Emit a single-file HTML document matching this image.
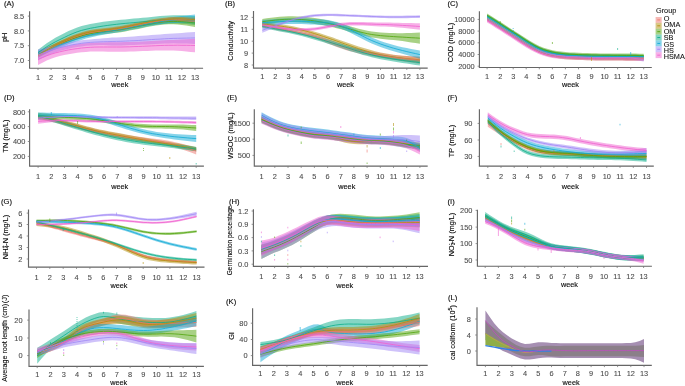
<!DOCTYPE html>
<html><head><meta charset="utf-8"><style>
html,body{margin:0;padding:0;background:#fff;width:685px;height:386px;overflow:hidden}
svg{display:block;will-change:transform}
text{-webkit-font-smoothing:antialiased}
text{font-family:"Liberation Sans", sans-serif}
.tk{font-size:7.4px;fill:#4a4a4a;stroke:#4a4a4a;stroke-width:0.08px}
.lb{font-size:7.3px;fill:#0a0a0a;stroke:#0a0a0a;stroke-width:0.12px}
.tg{font-size:7.6px;fill:#0a0a0a;stroke:#0a0a0a;stroke-width:0.12px}
.lg{font-size:7.3px;fill:#111;stroke:#111;stroke-width:0.08px}
</style></head><body>
<svg width="685" height="386" viewBox="0 0 685 386">
<text x="656" y="12.6" class="lg">Group</text>
<rect x="655.6" y="17.00" width="6.1" height="5.87" fill="#EE746B" fill-opacity="0.5"/>
<line x1="657.3" y1="19.93" x2="660.2" y2="19.93" stroke="#EE746B" stroke-width="0.9"/>
<text x="663.7" y="20.90" class="lg">O</text>
<rect x="655.6" y="22.87" width="6.1" height="5.87" fill="#B28F0C" fill-opacity="0.5"/>
<line x1="657.3" y1="25.80" x2="660.2" y2="25.80" stroke="#B28F0C" stroke-width="0.9"/>
<text x="663.7" y="27.33" class="lg">OMA</text>
<rect x="655.6" y="28.74" width="6.1" height="5.87" fill="#51A40B" fill-opacity="0.5"/>
<line x1="657.3" y1="31.68" x2="660.2" y2="31.68" stroke="#51A40B" stroke-width="0.9"/>
<text x="663.7" y="33.76" class="lg">OM</text>
<rect x="655.6" y="34.61" width="6.1" height="5.87" fill="#0BAE8A" fill-opacity="0.5"/>
<line x1="657.3" y1="37.55" x2="660.2" y2="37.55" stroke="#0BAE8A" stroke-width="0.9"/>
<text x="663.7" y="40.19" class="lg">SB</text>
<rect x="655.6" y="40.48" width="6.1" height="5.87" fill="#0FA9D6" fill-opacity="0.5"/>
<line x1="657.3" y1="43.42" x2="660.2" y2="43.42" stroke="#0FA9D6" stroke-width="0.9"/>
<text x="663.7" y="46.62" class="lg">GS</text>
<rect x="655.6" y="46.35" width="6.1" height="5.87" fill="#A086F6" fill-opacity="0.5"/>
<line x1="657.3" y1="49.29" x2="660.2" y2="49.29" stroke="#A086F6" stroke-width="0.9"/>
<text x="663.7" y="53.05" class="lg">HS</text>
<rect x="655.6" y="52.22" width="6.1" height="5.87" fill="#F061CF" fill-opacity="0.5"/>
<line x1="657.3" y1="55.16" x2="660.2" y2="55.16" stroke="#F061CF" stroke-width="0.9"/>
<text x="663.7" y="59.48" class="lg">HSMA</text>
<clipPath id="cA"><rect x="29.6" y="5.300000000000001" width="177.5" height="62.900000000000006"/></clipPath>
<g clip-path="url(#cA)">
<path d="M38,49.8 L42.4,46.5 L46.7,43.3 L51.1,40.4 L55.4,37.8 L59.8,35.4 L64.2,33.2 L68.5,31.1 L72.9,29.2 L77.2,27.5 L81.6,26.1 L86,25 L90.3,24 L94.7,23.2 L99.1,22.4 L103.4,21.8 L107.8,21.2 L112.1,20.8 L116.5,20.3 L120.9,19.8 L125.2,19.4 L129.6,19 L133.9,18.6 L138.3,18.2 L142.7,17.8 L147,17.4 L151.4,16.9 L155.8,16.5 L160.1,16.1 L164.5,15.8 L168.8,15.5 L173.2,15.3 L177.6,15.3 L181.9,15.3 L186.3,15.5 L190.6,15.7 L195,16 L195,25 L190.6,24.5 L186.3,24 L181.9,23.7 L177.6,23.5 L173.2,23.4 L168.8,23.5 L164.5,23.8 L160.1,24.1 L155.8,24.5 L151.4,24.9 L147,25.4 L142.7,25.8 L138.3,26.2 L133.9,26.6 L129.6,27 L125.2,27.4 L120.9,27.8 L116.5,28.3 L112.1,28.9 L107.8,29.5 L103.4,30.2 L99.1,30.9 L94.7,31.7 L90.3,32.6 L86,33.6 L81.6,34.7 L77.2,36.1 L72.9,37.8 L68.5,39.7 L64.2,41.8 L59.8,43.8 L55.4,45.8 L51.1,48 L46.7,50.4 L42.4,52.9 L38,55.4Z" fill="#0BAE8A" fill-opacity="0.5"/>
<path d="M38,52 L42.4,49.8 L46.7,47.6 L51.1,45.5 L55.4,43.4 L59.8,41.4 L64.2,39.5 L68.5,37.7 L72.9,36.1 L77.2,34.6 L81.6,33.3 L86,32.1 L90.3,31.2 L94.7,30.4 L99.1,29.8 L103.4,29.3 L107.8,28.8 L112.1,28.3 L116.5,27.8 L120.9,27.2 L125.2,26.4 L129.6,25.6 L133.9,24.8 L138.3,23.9 L142.7,23 L147,22.1 L151.4,21.2 L155.8,20.4 L160.1,19.7 L164.5,19.1 L168.8,18.7 L173.2,18.5 L177.6,18.4 L181.9,18.5 L186.3,18.6 L190.6,18.8 L195,19 L195,27 L190.6,26.3 L186.3,25.6 L181.9,25 L177.6,24.6 L173.2,24.3 L168.8,24.3 L164.5,24.5 L160.1,25 L155.8,25.6 L151.4,26.3 L147,27.1 L142.7,28 L138.3,28.9 L133.9,29.8 L129.6,30.6 L125.2,31.4 L120.9,32.2 L116.5,32.8 L112.1,33.3 L107.8,33.8 L103.4,34.3 L99.1,34.8 L94.7,35.4 L90.3,36.2 L86,37.1 L81.6,38.3 L77.2,39.6 L72.9,41.1 L68.5,42.7 L64.2,44.5 L59.8,46.5 L55.4,48.6 L51.1,50.8 L46.7,53.2 L42.4,55.6 L38,58Z" fill="#51A40B" fill-opacity="0.5"/>
<path d="M38,51 L42.4,49.3 L46.7,47.6 L51.1,45.9 L55.4,44.2 L59.8,42.6 L64.2,40.9 L68.5,39.3 L72.9,37.7 L77.2,36.3 L81.6,34.9 L86,33.6 L90.3,32.5 L94.7,31.5 L99.1,30.6 L103.4,29.8 L107.8,29 L112.1,28.3 L116.5,27.5 L120.9,26.7 L125.2,25.9 L129.6,25.1 L133.9,24.2 L138.3,23.4 L142.7,22.5 L147,21.6 L151.4,20.7 L155.8,19.9 L160.1,19.1 L164.5,18.3 L168.8,17.7 L173.2,17.1 L177.6,16.6 L181.9,16.1 L186.3,15.5 L190.6,15 L195,14.5 L195,23.5 L190.6,23.2 L186.3,23 L181.9,22.9 L177.6,22.9 L173.2,23 L168.8,23.3 L164.5,23.8 L160.1,24.4 L155.8,25.1 L151.4,25.8 L147,26.6 L142.7,27.5 L138.3,28.4 L133.9,29.2 L129.6,30.1 L125.2,30.9 L120.9,31.7 L116.5,32.5 L112.1,33.3 L107.8,34 L103.4,34.8 L99.1,35.6 L94.7,36.5 L90.3,37.5 L86,38.6 L81.6,39.9 L77.2,41.3 L72.9,42.7 L68.5,44.3 L64.2,45.9 L59.8,47.6 L55.4,49.4 L51.1,51.2 L46.7,53.1 L42.4,55.1 L38,57Z" fill="#0FA9D6" fill-opacity="0.5"/>
<path d="M38,53.5 L42.4,51 L46.7,48.6 L51.1,46.1 L55.4,43.8 L59.8,41.6 L64.2,39.5 L68.5,37.6 L72.9,35.8 L77.2,34.2 L81.6,32.8 L86,31.6 L90.3,30.6 L94.7,29.8 L99.1,29.2 L103.4,28.7 L107.8,28.2 L112.1,27.7 L116.5,27.1 L120.9,26.4 L125.2,25.6 L129.6,24.7 L133.9,23.7 L138.3,22.7 L142.7,21.8 L147,20.9 L151.4,20.1 L155.8,19.3 L160.1,18.7 L164.5,18.2 L168.8,17.8 L173.2,17.6 L177.6,17.5 L181.9,17.6 L186.3,17.7 L190.6,17.9 L195,18.1 L195,22.1 L190.6,21.9 L186.3,21.7 L181.9,21.6 L177.6,21.5 L173.2,21.6 L168.8,21.8 L164.5,22.2 L160.1,22.7 L155.8,23.3 L151.4,24.1 L147,24.9 L142.7,25.8 L138.3,26.7 L133.9,27.7 L129.6,28.7 L125.2,29.6 L120.9,30.4 L116.5,31.1 L112.1,31.7 L107.8,32.2 L103.4,32.7 L99.1,33.2 L94.7,33.8 L90.3,34.6 L86,35.6 L81.6,36.8 L77.2,38.2 L72.9,39.8 L68.5,41.6 L64.2,43.5 L59.8,45.6 L55.4,47.8 L51.1,50.1 L46.7,52.6 L42.4,55 L38,57.5Z" fill="#EE746B" fill-opacity="0.5"/>
<path d="M38,53 L42.4,50.5 L46.7,48.1 L51.1,45.6 L55.4,43.3 L59.8,41.1 L64.2,39 L68.5,37.1 L72.9,35.3 L77.2,33.7 L81.6,32.3 L86,31.1 L90.3,30.1 L94.7,29.3 L99.1,28.7 L103.4,28.2 L107.8,27.7 L112.1,27.2 L116.5,26.6 L120.9,25.9 L125.2,25.1 L129.6,24.2 L133.9,23.2 L138.3,22.2 L142.7,21.3 L147,20.4 L151.4,19.6 L155.8,18.8 L160.1,18.2 L164.5,17.7 L168.8,17.3 L173.2,17.1 L177.6,17 L181.9,17.1 L186.3,17.2 L190.6,17.4 L195,17.6 L195,21.6 L190.6,21.4 L186.3,21.2 L181.9,21.1 L177.6,21 L173.2,21.1 L168.8,21.3 L164.5,21.7 L160.1,22.2 L155.8,22.8 L151.4,23.6 L147,24.4 L142.7,25.3 L138.3,26.2 L133.9,27.2 L129.6,28.2 L125.2,29.1 L120.9,29.9 L116.5,30.6 L112.1,31.2 L107.8,31.7 L103.4,32.2 L99.1,32.7 L94.7,33.3 L90.3,34.1 L86,35.1 L81.6,36.3 L77.2,37.7 L72.9,39.3 L68.5,41.1 L64.2,43 L59.8,45.1 L55.4,47.3 L51.1,49.6 L46.7,52.1 L42.4,54.5 L38,57Z" fill="#B28F0C" fill-opacity="0.5"/>
<path d="M38,49.5 L42.4,48.6 L46.7,47.6 L51.1,46.5 L55.4,45.4 L59.8,44.4 L64.2,43.4 L68.5,42.5 L72.9,41.6 L77.2,40.9 L81.6,40.3 L86,39.8 L90.3,39.4 L94.7,39 L99.1,38.7 L103.4,38.3 L107.8,37.9 L112.1,37.6 L116.5,37.4 L120.9,37.2 L125.2,36.9 L129.6,36.7 L133.9,36.4 L138.3,36.1 L142.7,35.8 L147,35.5 L151.4,35.1 L155.8,34.8 L160.1,34.4 L164.5,34.1 L168.8,33.8 L173.2,33.5 L177.6,33.2 L181.9,32.9 L186.3,32.6 L190.6,32.2 L195,31.9 L195,43.9 L190.6,43.7 L186.3,43.6 L181.9,43.4 L177.6,43.4 L173.2,43.3 L168.8,43.4 L164.5,43.5 L160.1,43.7 L155.8,43.9 L151.4,44.2 L147,44.4 L142.7,44.6 L138.3,44.8 L133.9,45 L129.6,45.1 L125.2,45.3 L120.9,45.4 L116.5,45.4 L112.1,45.4 L107.8,45.3 L103.4,45.1 L99.1,45.1 L94.7,45.2 L90.3,45.4 L86,45.8 L81.6,46.4 L77.2,47 L72.9,47.8 L68.5,48.8 L64.2,49.8 L59.8,51 L55.4,52.5 L51.1,54.1 L46.7,56 L42.4,58.2 L38,60.5Z" fill="#A086F6" fill-opacity="0.5"/>
<path d="M38,53.6 L42.4,52.2 L46.7,50.9 L51.1,49.6 L55.4,48.5 L59.8,47.5 L64.2,46.6 L68.5,45.7 L72.9,45 L77.2,44.3 L81.6,43.8 L86,43.3 L90.3,43 L94.7,42.8 L99.1,42.6 L103.4,42.4 L107.8,42.3 L112.1,42.2 L116.5,42.2 L120.9,42.2 L125.2,42.1 L129.6,42 L133.9,41.8 L138.3,41.7 L142.7,41.5 L147,41.3 L151.4,41 L155.8,40.8 L160.1,40.5 L164.5,40.3 L168.8,40.1 L173.2,39.9 L177.6,39.7 L181.9,39.5 L186.3,39.2 L190.6,39 L195,38.7 L195,52.3 L190.6,51.9 L186.3,51.4 L181.9,51.1 L177.6,50.8 L173.2,50.6 L168.8,50.5 L164.5,50.5 L160.1,50.5 L155.8,50.6 L151.4,50.8 L147,50.9 L142.7,51.1 L138.3,51.3 L133.9,51.4 L129.6,51.6 L125.2,51.7 L120.9,51.8 L116.5,51.8 L112.1,51.8 L107.8,51.7 L103.4,51.5 L99.1,51.5 L94.7,51.5 L90.3,51.6 L86,51.9 L81.6,52.3 L77.2,52.8 L72.9,53.4 L68.5,54.2 L64.2,55 L59.8,56 L55.4,57.3 L51.1,58.8 L46.7,60.6 L42.4,62.7 L38,65Z" fill="#F061CF" fill-opacity="0.5"/>
<path d="M38,52.6 L42.4,49.7 L46.7,46.8 L51.1,44.2 L55.4,41.8 L59.8,39.6 L64.2,37.5 L68.5,35.4 L72.9,33.5 L77.2,31.8 L81.6,30.4 L86,29.3 L90.3,28.3 L94.7,27.5 L99.1,26.7 L103.4,26 L107.8,25.4 L112.1,24.8 L116.5,24.3 L120.9,23.8 L125.2,23.4 L129.6,23 L133.9,22.6 L138.3,22.2 L142.7,21.8 L147,21.4 L151.4,20.9 L155.8,20.5 L160.1,20.1 L164.5,19.8 L168.8,19.5 L173.2,19.4 L177.6,19.4 L181.9,19.5 L186.3,19.8 L190.6,20.1 L195,20.5" fill="none" stroke="#0BAE8A" stroke-width="0.8" stroke-opacity="1"/>
<path d="M38,55 L42.4,52.7 L46.7,50.4 L51.1,48.2 L55.4,46 L59.8,43.9 L64.2,42 L68.5,40.2 L72.9,38.6 L77.2,37.1 L81.6,35.8 L86,34.6 L90.3,33.7 L94.7,32.9 L99.1,32.3 L103.4,31.8 L107.8,31.3 L112.1,30.8 L116.5,30.3 L120.9,29.7 L125.2,28.9 L129.6,28.1 L133.9,27.3 L138.3,26.4 L142.7,25.5 L147,24.6 L151.4,23.8 L155.8,23 L160.1,22.3 L164.5,21.8 L168.8,21.5 L173.2,21.4 L177.6,21.5 L181.9,21.7 L186.3,22.1 L190.6,22.5 L195,23" fill="none" stroke="#51A40B" stroke-width="0.8" stroke-opacity="1"/>
<path d="M38,54 L42.4,52.2 L46.7,50.4 L51.1,48.6 L55.4,46.8 L59.8,45.1 L64.2,43.4 L68.5,41.8 L72.9,40.2 L77.2,38.8 L81.6,37.4 L86,36.1 L90.3,35 L94.7,34 L99.1,33.1 L103.4,32.3 L107.8,31.5 L112.1,30.8 L116.5,30 L120.9,29.2 L125.2,28.4 L129.6,27.6 L133.9,26.7 L138.3,25.9 L142.7,25 L147,24.1 L151.4,23.3 L155.8,22.5 L160.1,21.7 L164.5,21.1 L168.8,20.5 L173.2,20.1 L177.6,19.7 L181.9,19.5 L186.3,19.3 L190.6,19.1 L195,19" fill="none" stroke="#0FA9D6" stroke-width="0.8" stroke-opacity="1"/>
<path d="M38,55.5 L42.4,53 L46.7,50.6 L51.1,48.1 L55.4,45.8 L59.8,43.6 L64.2,41.5 L68.5,39.6 L72.9,37.8 L77.2,36.2 L81.6,34.8 L86,33.6 L90.3,32.6 L94.7,31.8 L99.1,31.2 L103.4,30.7 L107.8,30.2 L112.1,29.7 L116.5,29.1 L120.9,28.4 L125.2,27.6 L129.6,26.7 L133.9,25.7 L138.3,24.7 L142.7,23.8 L147,22.9 L151.4,22.1 L155.8,21.3 L160.1,20.7 L164.5,20.2 L168.8,19.8 L173.2,19.6 L177.6,19.5 L181.9,19.6 L186.3,19.7 L190.6,19.9 L195,20.1" fill="none" stroke="#EE746B" stroke-width="0.8" stroke-opacity="1"/>
<path d="M38,55 L42.4,52.5 L46.7,50.1 L51.1,47.6 L55.4,45.3 L59.8,43.1 L64.2,41 L68.5,39.1 L72.9,37.3 L77.2,35.7 L81.6,34.3 L86,33.1 L90.3,32.1 L94.7,31.3 L99.1,30.7 L103.4,30.2 L107.8,29.7 L112.1,29.2 L116.5,28.6 L120.9,27.9 L125.2,27.1 L129.6,26.2 L133.9,25.2 L138.3,24.2 L142.7,23.3 L147,22.4 L151.4,21.6 L155.8,20.8 L160.1,20.2 L164.5,19.7 L168.8,19.3 L173.2,19.1 L177.6,19 L181.9,19.1 L186.3,19.2 L190.6,19.4 L195,19.6" fill="none" stroke="#B28F0C" stroke-width="0.8" stroke-opacity="1"/>
<path d="M38,55 L42.4,53.4 L46.7,51.8 L51.1,50.3 L55.4,48.9 L59.8,47.7 L64.2,46.6 L68.5,45.6 L72.9,44.7 L77.2,44 L81.6,43.3 L86,42.8 L90.3,42.4 L94.7,42.1 L99.1,41.9 L103.4,41.7 L107.8,41.6 L112.1,41.5 L116.5,41.4 L120.9,41.3 L125.2,41.1 L129.6,40.9 L133.9,40.7 L138.3,40.5 L142.7,40.2 L147,39.9 L151.4,39.6 L155.8,39.3 L160.1,39.1 L164.5,38.8 L168.8,38.6 L173.2,38.4 L177.6,38.3 L181.9,38.2 L186.3,38.1 L190.6,38 L195,37.9" fill="none" stroke="#A086F6" stroke-width="0.8" stroke-opacity="1"/>
<path d="M38,59.3 L42.4,57.5 L46.7,55.8 L51.1,54.2 L55.4,52.9 L59.8,51.8 L64.2,50.8 L68.5,49.9 L72.9,49.2 L77.2,48.6 L81.6,48 L86,47.6 L90.3,47.3 L94.7,47.1 L99.1,47 L103.4,47 L107.8,47 L112.1,47 L116.5,47 L120.9,47 L125.2,46.9 L129.6,46.8 L133.9,46.6 L138.3,46.5 L142.7,46.3 L147,46.1 L151.4,45.9 L155.8,45.7 L160.1,45.5 L164.5,45.4 L168.8,45.3 L173.2,45.3 L177.6,45.2 L181.9,45.3 L186.3,45.3 L190.6,45.4 L195,45.5" fill="none" stroke="#F061CF" stroke-width="0.8" stroke-opacity="1"/>
</g>
<path d="M29.6,11.3 L29.6,68.2 L203.1,68.2" fill="none" stroke="#666" stroke-width="1.15"/>
<line x1="27.8" y1="16.1" x2="29.6" y2="16.1" stroke="#777" stroke-width="0.8"/>
<text x="24.2" y="18.8" text-anchor="end" class="tk">8.5</text>
<line x1="27.8" y1="30.9" x2="29.6" y2="30.9" stroke="#777" stroke-width="0.8"/>
<text x="24.2" y="33.5" text-anchor="end" class="tk">8.0</text>
<line x1="27.8" y1="45.7" x2="29.6" y2="45.7" stroke="#777" stroke-width="0.8"/>
<text x="24.2" y="48.4" text-anchor="end" class="tk">7.5</text>
<line x1="27.8" y1="60.5" x2="29.6" y2="60.5" stroke="#777" stroke-width="0.8"/>
<text x="24.2" y="63.1" text-anchor="end" class="tk">7.0</text>
<line x1="38" y1="68.2" x2="38" y2="70.0" stroke="#777" stroke-width="0.8"/>
<text x="38" y="79.5" text-anchor="middle" class="tk">1</text>
<line x1="51.1" y1="68.2" x2="51.1" y2="70.0" stroke="#777" stroke-width="0.8"/>
<text x="51.1" y="79.5" text-anchor="middle" class="tk">2</text>
<line x1="64.2" y1="68.2" x2="64.2" y2="70.0" stroke="#777" stroke-width="0.8"/>
<text x="64.2" y="79.5" text-anchor="middle" class="tk">3</text>
<line x1="77.2" y1="68.2" x2="77.2" y2="70.0" stroke="#777" stroke-width="0.8"/>
<text x="77.2" y="79.5" text-anchor="middle" class="tk">4</text>
<line x1="90.3" y1="68.2" x2="90.3" y2="70.0" stroke="#777" stroke-width="0.8"/>
<text x="90.3" y="79.5" text-anchor="middle" class="tk">5</text>
<line x1="103.4" y1="68.2" x2="103.4" y2="70.0" stroke="#777" stroke-width="0.8"/>
<text x="103.4" y="79.5" text-anchor="middle" class="tk">6</text>
<line x1="116.5" y1="68.2" x2="116.5" y2="70.0" stroke="#777" stroke-width="0.8"/>
<text x="116.5" y="79.5" text-anchor="middle" class="tk">7</text>
<line x1="129.6" y1="68.2" x2="129.6" y2="70.0" stroke="#777" stroke-width="0.8"/>
<text x="129.6" y="79.5" text-anchor="middle" class="tk">8</text>
<line x1="142.7" y1="68.2" x2="142.7" y2="70.0" stroke="#777" stroke-width="0.8"/>
<text x="142.7" y="79.5" text-anchor="middle" class="tk">9</text>
<line x1="155.8" y1="68.2" x2="155.8" y2="70.0" stroke="#777" stroke-width="0.8"/>
<text x="155.8" y="79.5" text-anchor="middle" class="tk">10</text>
<line x1="168.8" y1="68.2" x2="168.8" y2="70.0" stroke="#777" stroke-width="0.8"/>
<text x="168.8" y="79.5" text-anchor="middle" class="tk">11</text>
<line x1="181.9" y1="68.2" x2="181.9" y2="70.0" stroke="#777" stroke-width="0.8"/>
<text x="181.9" y="79.5" text-anchor="middle" class="tk">12</text>
<line x1="195" y1="68.2" x2="195" y2="70.0" stroke="#777" stroke-width="0.8"/>
<text x="195" y="79.5" text-anchor="middle" class="tk">13</text>
<text x="119.8" y="86.9" text-anchor="middle" class="lb">week</text>
<text x="4" y="6.4" class="tg">(A)</text>
<text transform="translate(6.8,37.3) rotate(-90)" text-anchor="middle" class="lb" style="font-size:7.3px">pH</text>
<clipPath id="cB"><rect x="253.5" y="5.1" width="178.2" height="62.99999999999999"/></clipPath>
<g clip-path="url(#cB)">
<path d="M262.3,22.2 L266.7,22.6 L271.1,23.1 L275.4,23.6 L279.8,24.2 L284.2,24.8 L288.6,25.5 L292.9,26.3 L297.3,27.2 L301.7,28.2 L306.1,29.3 L310.5,30.4 L314.8,31.7 L319.2,33 L323.6,34.4 L328,35.9 L332.3,37.3 L336.7,38.9 L341.1,40.4 L345.5,41.9 L349.9,43.5 L354.2,45 L358.6,46.4 L363,47.8 L367.4,49.1 L371.7,50.3 L376.1,51.4 L380.5,52.4 L384.9,53.2 L389.3,54 L393.6,54.7 L398,55.3 L402.4,55.8 L406.8,56.1 L411.1,56.5 L415.5,56.7 L419.9,57 L419.9,62.6 L415.5,62.1 L411.1,61.6 L406.8,61.1 L402.4,60.5 L398,59.9 L393.6,59.3 L389.3,58.6 L384.9,57.8 L380.5,57 L376.1,56 L371.7,54.9 L367.4,53.7 L363,52.4 L358.6,51 L354.2,49.5 L349.9,48 L345.5,46.4 L341.1,44.8 L336.7,43.2 L332.3,41.6 L328,40.1 L323.6,38.6 L319.2,37.1 L314.8,35.7 L310.5,34.4 L306.1,33.1 L301.7,32 L297.3,30.9 L292.9,29.9 L288.6,29.1 L284.2,28.4 L279.8,27.8 L275.4,27.2 L271.1,26.7 L266.7,26.2 L262.3,25.8Z" fill="#B28F0C" fill-opacity="0.5"/>
<path d="M262.3,23.9 L266.7,24.7 L271.1,25.5 L275.4,26.3 L279.8,27.1 L284.2,27.9 L288.6,28.7 L292.9,29.5 L297.3,30.3 L301.7,31.2 L306.1,32.2 L310.5,33.3 L314.8,34.6 L319.2,36.1 L323.6,37.6 L328,39.3 L332.3,41 L336.7,42.6 L341.1,44.1 L345.5,45.5 L349.9,46.7 L354.2,47.8 L358.6,48.9 L363,49.8 L367.4,50.7 L371.7,51.5 L376.1,52.3 L380.5,53.1 L384.9,53.8 L389.3,54.4 L393.6,55 L398,55.5 L402.4,55.8 L406.8,56 L411.1,56.2 L415.5,56.3 L419.9,56.4 L419.9,64 L415.5,63.3 L411.1,62.6 L406.8,62 L402.4,61.3 L398,60.6 L393.6,60 L389.3,59.3 L384.9,58.6 L380.5,57.8 L376.1,57 L371.7,56.2 L367.4,55.3 L363,54.4 L358.6,53.4 L354.2,52.3 L349.9,51.2 L345.5,49.9 L341.1,48.5 L336.7,46.9 L332.3,45.2 L328,43.5 L323.6,41.8 L319.2,40.1 L314.8,38.6 L310.5,37.2 L306.1,36.1 L301.7,35 L297.3,34 L292.9,33.1 L288.6,32.3 L284.2,31.5 L279.8,30.7 L275.4,29.9 L271.1,29.1 L266.7,28.3 L262.3,27.5Z" fill="#EE746B" fill-opacity="0.5"/>
<path d="M262.3,24.7 L266.7,25.4 L271.1,26.2 L275.4,27 L279.8,27.8 L284.2,28.6 L288.6,29.5 L292.9,30.4 L297.3,31.4 L301.7,32.4 L306.1,33.4 L310.5,34.5 L314.8,35.7 L319.2,36.9 L323.6,38.2 L328,39.5 L332.3,40.8 L336.7,42.2 L341.1,43.6 L345.5,45 L349.9,46.4 L354.2,47.8 L358.6,49.1 L363,50.3 L367.4,51.5 L371.7,52.6 L376.1,53.5 L380.5,54.4 L384.9,55.2 L389.3,55.9 L393.6,56.6 L398,57.2 L402.4,57.8 L406.8,58.4 L411.1,58.9 L415.5,59.4 L419.9,59.9 L419.9,65.5 L415.5,64.9 L411.1,64.3 L406.8,63.6 L402.4,63 L398,62.3 L393.6,61.6 L389.3,60.8 L384.9,60 L380.5,59.2 L376.1,58.2 L371.7,57.2 L367.4,56.1 L363,54.9 L358.6,53.6 L354.2,52.3 L349.9,50.9 L345.5,49.4 L341.1,48 L336.7,46.6 L332.3,45.1 L328,43.7 L323.6,42.3 L319.2,41 L314.8,39.7 L310.5,38.5 L306.1,37.3 L301.7,36.1 L297.3,35.1 L292.9,34 L288.6,33.1 L284.2,32.2 L279.8,31.4 L275.4,30.6 L271.1,29.8 L266.7,29 L262.3,28.3Z" fill="#0BAE8A" fill-opacity="0.5"/>
<path d="M262.3,18.9 L266.7,18.3 L271.1,17.7 L275.4,17.2 L279.8,16.8 L284.2,16.5 L288.6,16.3 L292.9,16.3 L297.3,16.4 L301.7,16.6 L306.1,17 L310.5,17.5 L314.8,18.1 L319.2,18.8 L323.6,19.6 L328,20.5 L332.3,21.5 L336.7,22.5 L341.1,23.7 L345.5,24.9 L349.9,26.2 L354.2,27.5 L358.6,28.7 L363,29.8 L367.4,30.8 L371.7,31.6 L376.1,32.1 L380.5,32.5 L384.9,32.8 L389.3,33 L393.6,33.1 L398,33.2 L402.4,33.2 L406.8,33.1 L411.1,33 L415.5,32.8 L419.9,32.6 L419.9,43.8 L415.5,43.1 L411.1,42.4 L406.8,41.7 L402.4,41.1 L398,40.6 L393.6,40.1 L389.3,39.7 L384.9,39.2 L380.5,38.7 L376.1,38.1 L371.7,37.4 L367.4,36.6 L363,35.6 L358.6,34.4 L354.2,33.2 L349.9,31.9 L345.5,30.5 L341.1,29.3 L336.7,28.2 L332.3,27.1 L328,26.2 L323.6,25.3 L319.2,24.6 L314.8,23.9 L310.5,23.3 L306.1,22.8 L301.7,22.4 L297.3,22.2 L292.9,22.1 L288.6,22.1 L284.2,22.3 L279.8,22.6 L275.4,23 L271.1,23.4 L266.7,24 L262.3,24.5Z" fill="#51A40B" fill-opacity="0.5"/>
<path d="M262.3,20 L266.7,19.7 L271.1,19.4 L275.4,19.1 L279.8,18.8 L284.2,18.6 L288.6,18.5 L292.9,18.4 L297.3,18.4 L301.7,18.5 L306.1,18.6 L310.5,18.8 L314.8,19 L319.2,19.3 L323.6,19.6 L328,20.1 L332.3,20.9 L336.7,21.9 L341.1,23.2 L345.5,24.9 L349.9,26.8 L354.2,28.9 L358.6,31.1 L363,33.4 L367.4,35.5 L371.7,37.5 L376.1,39.3 L380.5,40.9 L384.9,42.4 L389.3,43.8 L393.6,45.1 L398,46.2 L402.4,47.2 L406.8,48.1 L411.1,48.9 L415.5,49.7 L419.9,50.4 L419.9,58.8 L415.5,57.6 L411.1,56.3 L406.8,55.1 L402.4,53.8 L398,52.6 L393.6,51.3 L389.3,50 L384.9,48.6 L380.5,47 L376.1,45.3 L371.7,43.5 L367.4,41.5 L363,39.3 L358.6,37 L354.2,34.7 L349.9,32.5 L345.5,30.5 L341.1,28.8 L336.7,27.5 L332.3,26.5 L328,25.7 L323.6,25.2 L319.2,24.9 L314.8,24.6 L310.5,24.4 L306.1,24.2 L301.7,24.1 L297.3,24 L292.9,24 L288.6,24.1 L284.2,24.2 L279.8,24.4 L275.4,24.7 L271.1,25 L266.7,25.3 L262.3,25.6Z" fill="#0FA9D6" fill-opacity="0.5"/>
<path d="M262.3,27.7 L266.7,26.7 L271.1,25.6 L275.4,24.3 L279.8,22.8 L284.2,21.3 L288.6,19.8 L292.9,18.4 L297.3,17.3 L301.7,16.3 L306.1,15.5 L310.5,14.8 L314.8,14.3 L319.2,14 L323.6,13.8 L328,13.7 L332.3,13.7 L336.7,13.8 L341.1,14 L345.5,14.2 L349.9,14.4 L354.2,14.5 L358.6,14.7 L363,14.9 L367.4,15.1 L371.7,15.3 L376.1,15.4 L380.5,15.6 L384.9,15.7 L389.3,15.8 L393.6,15.8 L398,15.8 L402.4,15.7 L406.8,15.6 L411.1,15.5 L415.5,15.4 L419.9,15.2 L419.9,18 L415.5,18.1 L411.1,18.1 L406.8,18.2 L402.4,18.2 L398,18.2 L393.6,18.2 L389.3,18.2 L384.9,18.1 L380.5,18 L376.1,17.8 L371.7,17.7 L367.4,17.5 L363,17.3 L358.6,17.1 L354.2,16.9 L349.9,16.8 L345.5,16.6 L341.1,16.4 L336.7,16.2 L332.3,16.1 L328,16.1 L323.6,16.2 L319.2,16.4 L314.8,16.7 L310.5,17.2 L306.1,17.9 L301.7,18.7 L297.3,19.7 L292.9,20.8 L288.6,22.2 L284.2,23.8 L279.8,25.5 L275.4,27.3 L271.1,29.1 L266.7,30.9 L262.3,32.7Z" fill="#A086F6" fill-opacity="0.5"/>
<path d="M262.3,22.9 L266.7,23.8 L271.1,24.7 L275.4,25.5 L279.8,26.2 L284.2,26.9 L288.6,27.4 L292.9,27.8 L297.3,28 L301.7,28.1 L306.1,28.1 L310.5,27.8 L314.8,27.4 L319.2,26.8 L323.6,26 L328,25.1 L332.3,24.2 L336.7,23.4 L341.1,22.8 L345.5,22.4 L349.9,22.1 L354.2,22 L358.6,22 L363,22.1 L367.4,22.2 L371.7,22.3 L376.1,22.4 L380.5,22.4 L384.9,22.5 L389.3,22.6 L393.6,22.7 L398,22.8 L402.4,22.9 L406.8,23 L411.1,23.1 L415.5,23.2 L419.9,23.3 L419.9,29.7 L415.5,29.2 L411.1,28.7 L406.8,28.2 L402.4,27.8 L398,27.4 L393.6,27.1 L389.3,26.8 L384.9,26.6 L380.5,26.4 L376.1,26.2 L371.7,26 L367.4,25.8 L363,25.6 L358.6,25.5 L354.2,25.4 L349.9,25.4 L345.5,25.6 L341.1,26 L336.7,26.6 L332.3,27.3 L328,28.2 L323.6,29 L319.2,29.8 L314.8,30.4 L310.5,30.8 L306.1,31.1 L301.7,31.1 L297.3,31 L292.9,30.8 L288.6,30.4 L284.2,29.9 L279.8,29.4 L275.4,28.8 L271.1,28.2 L266.7,27.6 L262.3,26.9Z" fill="#F061CF" fill-opacity="0.5"/>
<path d="M262.3,24 L266.7,24.4 L271.1,24.9 L275.4,25.4 L279.8,26 L284.2,26.6 L288.6,27.3 L292.9,28.1 L297.3,29.1 L301.7,30.1 L306.1,31.2 L310.5,32.4 L314.8,33.7 L319.2,35.1 L323.6,36.5 L328,38 L332.3,39.5 L336.7,41 L341.1,42.6 L345.5,44.2 L349.9,45.7 L354.2,47.2 L358.6,48.7 L363,50.1 L367.4,51.4 L371.7,52.6 L376.1,53.7 L380.5,54.7 L384.9,55.5 L389.3,56.3 L393.6,57 L398,57.6 L402.4,58.1 L406.8,58.6 L411.1,59 L415.5,59.4 L419.9,59.8" fill="none" stroke="#B28F0C" stroke-width="0.8" stroke-opacity="1"/>
<path d="M262.3,25.7 L266.7,26.5 L271.1,27.3 L275.4,28.1 L279.8,28.9 L284.2,29.7 L288.6,30.5 L292.9,31.3 L297.3,32.2 L301.7,33.1 L306.1,34.1 L310.5,35.3 L314.8,36.6 L319.2,38.1 L323.6,39.7 L328,41.4 L332.3,43.1 L336.7,44.7 L341.1,46.3 L345.5,47.7 L349.9,49 L354.2,50.1 L358.6,51.1 L363,52.1 L367.4,53 L371.7,53.9 L376.1,54.7 L380.5,55.5 L384.9,56.2 L389.3,56.9 L393.6,57.5 L398,58.1 L402.4,58.5 L406.8,59 L411.1,59.4 L415.5,59.8 L419.9,60.2" fill="none" stroke="#EE746B" stroke-width="0.8" stroke-opacity="1"/>
<path d="M262.3,26.5 L266.7,27.2 L271.1,28 L275.4,28.8 L279.8,29.6 L284.2,30.4 L288.6,31.3 L292.9,32.2 L297.3,33.2 L301.7,34.3 L306.1,35.3 L310.5,36.5 L314.8,37.7 L319.2,39 L323.6,40.3 L328,41.6 L332.3,43 L336.7,44.4 L341.1,45.8 L345.5,47.2 L349.9,48.6 L354.2,50 L358.6,51.3 L363,52.6 L367.4,53.8 L371.7,54.9 L376.1,55.9 L380.5,56.8 L384.9,57.6 L389.3,58.4 L393.6,59.1 L398,59.8 L402.4,60.4 L406.8,61 L411.1,61.6 L415.5,62.1 L419.9,62.7" fill="none" stroke="#0BAE8A" stroke-width="0.8" stroke-opacity="1"/>
<path d="M262.3,21.7 L266.7,21.1 L271.1,20.6 L275.4,20.1 L279.8,19.7 L284.2,19.4 L288.6,19.2 L292.9,19.2 L297.3,19.3 L301.7,19.5 L306.1,19.9 L310.5,20.4 L314.8,21 L319.2,21.7 L323.6,22.5 L328,23.3 L332.3,24.3 L336.7,25.3 L341.1,26.5 L345.5,27.7 L349.9,29 L354.2,30.3 L358.6,31.6 L363,32.7 L367.4,33.7 L371.7,34.5 L376.1,35.1 L380.5,35.6 L384.9,36 L389.3,36.3 L393.6,36.6 L398,36.9 L402.4,37.1 L406.8,37.4 L411.1,37.7 L415.5,37.9 L419.9,38.2" fill="none" stroke="#51A40B" stroke-width="0.8" stroke-opacity="1"/>
<path d="M262.3,22.8 L266.7,22.5 L271.1,22.2 L275.4,21.9 L279.8,21.6 L284.2,21.4 L288.6,21.3 L292.9,21.2 L297.3,21.2 L301.7,21.3 L306.1,21.4 L310.5,21.6 L314.8,21.8 L319.2,22.1 L323.6,22.4 L328,22.9 L332.3,23.7 L336.7,24.7 L341.1,26 L345.5,27.7 L349.9,29.7 L354.2,31.8 L358.6,34.1 L363,36.3 L367.4,38.5 L371.7,40.5 L376.1,42.3 L380.5,44 L384.9,45.5 L389.3,46.9 L393.6,48.2 L398,49.4 L402.4,50.5 L406.8,51.6 L411.1,52.6 L415.5,53.6 L419.9,54.6" fill="none" stroke="#0FA9D6" stroke-width="0.8" stroke-opacity="1"/>
<path d="M262.3,30.2 L266.7,28.8 L271.1,27.3 L275.4,25.8 L279.8,24.2 L284.2,22.5 L288.6,21 L292.9,19.6 L297.3,18.5 L301.7,17.5 L306.1,16.7 L310.5,16 L314.8,15.5 L319.2,15.2 L323.6,15 L328,14.9 L332.3,14.9 L336.7,15 L341.1,15.2 L345.5,15.4 L349.9,15.6 L354.2,15.7 L358.6,15.9 L363,16.1 L367.4,16.3 L371.7,16.5 L376.1,16.6 L380.5,16.8 L384.9,16.9 L389.3,17 L393.6,17 L398,17 L402.4,17 L406.8,16.9 L411.1,16.8 L415.5,16.7 L419.9,16.6" fill="none" stroke="#A086F6" stroke-width="0.8" stroke-opacity="1"/>
<path d="M262.3,24.9 L266.7,25.7 L271.1,26.4 L275.4,27.2 L279.8,27.8 L284.2,28.4 L288.6,28.9 L292.9,29.3 L297.3,29.5 L301.7,29.6 L306.1,29.6 L310.5,29.3 L314.8,28.9 L319.2,28.3 L323.6,27.5 L328,26.6 L332.3,25.8 L336.7,25 L341.1,24.4 L345.5,24 L349.9,23.8 L354.2,23.7 L358.6,23.8 L363,23.9 L367.4,24 L371.7,24.1 L376.1,24.3 L380.5,24.4 L384.9,24.5 L389.3,24.7 L393.6,24.9 L398,25.1 L402.4,25.4 L406.8,25.6 L411.1,25.9 L415.5,26.2 L419.9,26.5" fill="none" stroke="#F061CF" stroke-width="0.8" stroke-opacity="1"/>
</g>
<path d="M253.5,11.1 L253.5,68.1 L427.7,68.1" fill="none" stroke="#666" stroke-width="1.15"/>
<line x1="251.7" y1="17.4" x2="253.5" y2="17.4" stroke="#777" stroke-width="0.8"/>
<text x="248.2" y="20" text-anchor="end" class="tk">12</text>
<line x1="251.7" y1="29.3" x2="253.5" y2="29.3" stroke="#777" stroke-width="0.8"/>
<text x="248.2" y="31.9" text-anchor="end" class="tk">11</text>
<line x1="251.7" y1="41.2" x2="253.5" y2="41.2" stroke="#777" stroke-width="0.8"/>
<text x="248.2" y="43.9" text-anchor="end" class="tk">10</text>
<line x1="251.7" y1="53.1" x2="253.5" y2="53.1" stroke="#777" stroke-width="0.8"/>
<text x="248.2" y="55.8" text-anchor="end" class="tk">9</text>
<line x1="251.7" y1="65.0" x2="253.5" y2="65.0" stroke="#777" stroke-width="0.8"/>
<text x="248.2" y="67.7" text-anchor="end" class="tk">8</text>
<line x1="262.3" y1="68.1" x2="262.3" y2="69.89999999999999" stroke="#777" stroke-width="0.8"/>
<text x="262.3" y="79.4" text-anchor="middle" class="tk">1</text>
<line x1="275.4" y1="68.1" x2="275.4" y2="69.89999999999999" stroke="#777" stroke-width="0.8"/>
<text x="275.4" y="79.4" text-anchor="middle" class="tk">2</text>
<line x1="288.6" y1="68.1" x2="288.6" y2="69.89999999999999" stroke="#777" stroke-width="0.8"/>
<text x="288.6" y="79.4" text-anchor="middle" class="tk">3</text>
<line x1="301.7" y1="68.1" x2="301.7" y2="69.89999999999999" stroke="#777" stroke-width="0.8"/>
<text x="301.7" y="79.4" text-anchor="middle" class="tk">4</text>
<line x1="314.8" y1="68.1" x2="314.8" y2="69.89999999999999" stroke="#777" stroke-width="0.8"/>
<text x="314.8" y="79.4" text-anchor="middle" class="tk">5</text>
<line x1="328" y1="68.1" x2="328" y2="69.89999999999999" stroke="#777" stroke-width="0.8"/>
<text x="328" y="79.4" text-anchor="middle" class="tk">6</text>
<line x1="341.1" y1="68.1" x2="341.1" y2="69.89999999999999" stroke="#777" stroke-width="0.8"/>
<text x="341.1" y="79.4" text-anchor="middle" class="tk">7</text>
<line x1="354.2" y1="68.1" x2="354.2" y2="69.89999999999999" stroke="#777" stroke-width="0.8"/>
<text x="354.2" y="79.4" text-anchor="middle" class="tk">8</text>
<line x1="367.4" y1="68.1" x2="367.4" y2="69.89999999999999" stroke="#777" stroke-width="0.8"/>
<text x="367.4" y="79.4" text-anchor="middle" class="tk">9</text>
<line x1="380.5" y1="68.1" x2="380.5" y2="69.89999999999999" stroke="#777" stroke-width="0.8"/>
<text x="380.5" y="79.4" text-anchor="middle" class="tk">10</text>
<line x1="393.6" y1="68.1" x2="393.6" y2="69.89999999999999" stroke="#777" stroke-width="0.8"/>
<text x="393.6" y="79.4" text-anchor="middle" class="tk">11</text>
<line x1="406.8" y1="68.1" x2="406.8" y2="69.89999999999999" stroke="#777" stroke-width="0.8"/>
<text x="406.8" y="79.4" text-anchor="middle" class="tk">12</text>
<line x1="419.9" y1="68.1" x2="419.9" y2="69.89999999999999" stroke="#777" stroke-width="0.8"/>
<text x="419.9" y="79.4" text-anchor="middle" class="tk">13</text>
<text x="345.5" y="86.9" text-anchor="middle" class="lb">week</text>
<text x="225" y="6.3" class="tg">(B)</text>
<text transform="translate(232.6,40.9) rotate(-90)" text-anchor="middle" class="lb" style="font-size:7.3px">Conductivity</text>
<clipPath id="cC"><rect x="479.4" y="5.300000000000001" width="176.39999999999998" height="62.2"/></clipPath>
<g clip-path="url(#cC)">
<path d="M487.1,17.7 L491.5,20.4 L495.8,23.2 L500.2,25.9 L504.5,28.7 L508.9,31.5 L513.2,34.3 L517.6,37.2 L521.9,40 L526.2,42.7 L530.6,45.3 L535,47.6 L539.3,49.6 L543.6,51.1 L548,52.3 L552.4,53.2 L556.7,53.9 L561.1,54.3 L565.4,54.6 L569.8,54.9 L574.1,55.1 L578.5,55.3 L582.8,55.5 L587.2,55.6 L591.5,55.7 L595.9,55.8 L600.2,55.8 L604.6,55.9 L608.9,55.9 L613.2,56 L617.6,56 L622,56 L626.3,56.1 L630.7,56.1 L635,56.1 L639.4,56.2 L643.7,56.2 L643.7,59.8 L639.4,59.8 L635,59.7 L630.7,59.7 L626.3,59.7 L622,59.6 L617.6,59.6 L613.2,59.6 L608.9,59.5 L604.6,59.5 L600.2,59.4 L595.9,59.4 L591.5,59.3 L587.2,59.2 L582.8,59.1 L578.5,58.9 L574.1,58.7 L569.8,58.5 L565.4,58.2 L561.1,57.9 L556.7,57.5 L552.4,56.8 L548,55.9 L543.6,54.7 L539.3,53.2 L535,51.2 L530.6,48.9 L526.2,46.3 L521.9,43.6 L517.6,40.8 L513.2,37.9 L508.9,35.1 L504.5,32.3 L500.2,29.5 L495.8,26.8 L491.5,24 L487.1,21.3Z" fill="#EE746B" fill-opacity="0.5"/>
<path d="M487.1,17 L491.5,19.7 L495.8,22.4 L500.2,25.2 L504.5,28 L508.9,30.8 L513.2,33.6 L517.6,36.4 L521.9,39.2 L526.2,42 L530.6,44.7 L535,47.2 L539.3,49.4 L543.6,51.2 L548,52.6 L552.4,53.7 L556.7,54.5 L561.1,55.1 L565.4,55.6 L569.8,55.9 L574.1,56.1 L578.5,56.3 L582.8,56.4 L587.2,56.6 L591.5,56.7 L595.9,56.8 L600.2,56.9 L604.6,56.9 L608.9,56.9 L613.2,57 L617.6,57 L622,57 L626.3,57.1 L630.7,57.1 L635,57.1 L639.4,57.2 L643.7,57.2 L643.7,60.8 L639.4,60.8 L635,60.7 L630.7,60.7 L626.3,60.7 L622,60.6 L617.6,60.6 L613.2,60.6 L608.9,60.5 L604.6,60.5 L600.2,60.5 L595.9,60.4 L591.5,60.3 L587.2,60.2 L582.8,60 L578.5,59.9 L574.1,59.7 L569.8,59.5 L565.4,59.2 L561.1,58.7 L556.7,58.1 L552.4,57.3 L548,56.2 L543.6,54.8 L539.3,53 L535,50.8 L530.6,48.3 L526.2,45.6 L521.9,42.8 L517.6,40 L513.2,37.2 L508.9,34.4 L504.5,31.6 L500.2,28.8 L495.8,26 L491.5,23.3 L487.1,20.6Z" fill="#B28F0C" fill-opacity="0.5"/>
<path d="M487.1,14.4 L491.5,17.1 L495.8,19.8 L500.2,22.6 L504.5,25.4 L508.9,28.2 L513.2,31 L517.6,33.8 L521.9,36.6 L526.2,39.4 L530.6,42.1 L535,44.7 L539.3,46.9 L543.6,48.6 L548,50 L552.4,51.1 L556.7,52 L561.1,52.6 L565.4,53.1 L569.8,53.4 L574.1,53.6 L578.5,53.8 L582.8,53.9 L587.2,54.1 L591.5,54.2 L595.9,54.3 L600.2,54.4 L604.6,54.4 L608.9,54.4 L613.2,54.5 L617.6,54.5 L622,54.5 L626.3,54.6 L630.7,54.6 L635,54.6 L639.4,54.7 L643.7,54.7 L643.7,58.3 L639.4,58.3 L635,58.2 L630.7,58.2 L626.3,58.2 L622,58.1 L617.6,58.1 L613.2,58.1 L608.9,58 L604.6,58 L600.2,58 L595.9,57.9 L591.5,57.8 L587.2,57.7 L582.8,57.5 L578.5,57.4 L574.1,57.2 L569.8,57 L565.4,56.7 L561.1,56.2 L556.7,55.6 L552.4,54.7 L548,53.6 L543.6,52.2 L539.3,50.5 L535,48.3 L530.6,45.7 L526.2,43 L521.9,40.2 L517.6,37.4 L513.2,34.6 L508.9,31.8 L504.5,29 L500.2,26.2 L495.8,23.4 L491.5,20.7 L487.1,18Z" fill="#0BAE8A" fill-opacity="0.5"/>
<path d="M487.1,14.7 L491.5,17.4 L495.8,20.1 L500.2,22.9 L504.5,25.7 L508.9,28.5 L513.2,31.3 L517.6,34.1 L521.9,36.9 L526.2,39.7 L530.6,42.4 L535,44.9 L539.3,47.1 L543.6,48.9 L548,50.3 L552.4,51.4 L556.7,52.2 L561.1,52.8 L565.4,53.3 L569.8,53.6 L574.1,53.8 L578.5,54 L582.8,54.1 L587.2,54.3 L591.5,54.4 L595.9,54.5 L600.2,54.6 L604.6,54.6 L608.9,54.6 L613.2,54.7 L617.6,54.7 L622,54.7 L626.3,54.8 L630.7,54.8 L635,54.8 L639.4,54.9 L643.7,54.9 L643.7,58.5 L639.4,58.5 L635,58.4 L630.7,58.4 L626.3,58.4 L622,58.3 L617.6,58.3 L613.2,58.3 L608.9,58.2 L604.6,58.2 L600.2,58.2 L595.9,58.1 L591.5,58 L587.2,57.9 L582.8,57.7 L578.5,57.6 L574.1,57.4 L569.8,57.2 L565.4,56.9 L561.1,56.4 L556.7,55.8 L552.4,55 L548,53.9 L543.6,52.5 L539.3,50.7 L535,48.5 L530.6,46 L526.2,43.3 L521.9,40.5 L517.6,37.7 L513.2,34.9 L508.9,32.1 L504.5,29.3 L500.2,26.5 L495.8,23.7 L491.5,21 L487.1,18.3Z" fill="#0FA9D6" fill-opacity="0.5"/>
<path d="M487.1,13.6 L491.5,16.3 L495.8,19 L500.2,21.8 L504.5,24.6 L508.9,27.4 L513.2,30.2 L517.6,33 L521.9,35.8 L526.2,38.6 L530.6,41.3 L535,43.8 L539.3,46 L543.6,47.8 L548,49.1 L552.4,50.2 L556.7,51 L561.1,51.6 L565.4,52.1 L569.8,52.4 L574.1,52.6 L578.5,52.8 L582.8,53 L587.2,53.1 L591.5,53.2 L595.9,53.3 L600.2,53.4 L604.6,53.4 L608.9,53.4 L613.2,53.5 L617.6,53.5 L622,53.5 L626.3,53.6 L630.7,53.6 L635,53.6 L639.4,53.7 L643.7,53.7 L643.7,57.3 L639.4,57.3 L635,57.2 L630.7,57.2 L626.3,57.2 L622,57.1 L617.6,57.1 L613.2,57.1 L608.9,57 L604.6,57 L600.2,57 L595.9,56.9 L591.5,56.8 L587.2,56.7 L582.8,56.6 L578.5,56.4 L574.1,56.2 L569.8,56 L565.4,55.7 L561.1,55.2 L556.7,54.6 L552.4,53.8 L548,52.7 L543.6,51.4 L539.3,49.6 L535,47.4 L530.6,44.9 L526.2,42.2 L521.9,39.4 L517.6,36.6 L513.2,33.8 L508.9,31 L504.5,28.2 L500.2,25.4 L495.8,22.6 L491.5,19.9 L487.1,17.2Z" fill="#51A40B" fill-opacity="0.5"/>
<path d="M487.1,17.2 L491.5,19.9 L495.8,22.7 L500.2,25.4 L504.5,28.2 L508.9,31 L513.2,33.8 L517.6,36.6 L521.9,39.5 L526.2,42.2 L530.6,44.8 L535,47.2 L539.3,49.2 L543.6,50.9 L548,52.1 L552.4,53.1 L556.7,53.8 L561.1,54.2 L565.4,54.6 L569.8,54.9 L574.1,55.1 L578.5,55.3 L582.8,55.5 L587.2,55.6 L591.5,55.7 L595.9,55.8 L600.2,55.8 L604.6,55.9 L608.9,56 L613.2,56 L617.6,56 L622,55.9 L626.3,55.9 L630.7,56.1 L635,56.6 L639.4,57.2 L643.7,58 L643.7,61.6 L639.4,60.8 L635,60.2 L630.7,59.7 L626.3,59.5 L622,59.5 L617.6,59.6 L613.2,59.6 L608.9,59.6 L604.6,59.5 L600.2,59.4 L595.9,59.4 L591.5,59.3 L587.2,59.2 L582.8,59.1 L578.5,58.9 L574.1,58.7 L569.8,58.5 L565.4,58.2 L561.1,57.8 L556.7,57.4 L552.4,56.7 L548,55.7 L543.6,54.5 L539.3,52.8 L535,50.8 L530.6,48.4 L526.2,45.8 L521.9,43.1 L517.6,40.2 L513.2,37.4 L508.9,34.6 L504.5,31.8 L500.2,29 L495.8,26.3 L491.5,23.5 L487.1,20.8Z" fill="#A086F6" fill-opacity="0.5"/>
<path d="M487.1,18.8 L491.5,21.5 L495.8,24.3 L500.2,27 L504.5,29.8 L508.9,32.6 L513.2,35.4 L517.6,38.3 L521.9,41.1 L526.2,43.8 L530.6,46.4 L535,48.7 L539.3,50.6 L543.6,52.2 L548,53.4 L552.4,54.3 L556.7,54.9 L561.1,55.3 L565.4,55.6 L569.8,55.9 L574.1,56.1 L578.5,56.3 L582.8,56.5 L587.2,56.6 L591.5,56.7 L595.9,56.8 L600.2,56.8 L604.6,56.9 L608.9,56.9 L613.2,57 L617.6,57 L622,57 L626.3,57.1 L630.7,57.1 L635,57.1 L639.4,57.2 L643.7,57.2 L643.7,60.8 L639.4,60.8 L635,60.7 L630.7,60.7 L626.3,60.7 L622,60.6 L617.6,60.6 L613.2,60.6 L608.9,60.5 L604.6,60.5 L600.2,60.4 L595.9,60.4 L591.5,60.3 L587.2,60.2 L582.8,60.1 L578.5,59.9 L574.1,59.7 L569.8,59.5 L565.4,59.2 L561.1,58.9 L556.7,58.5 L552.4,57.9 L548,57 L543.6,55.8 L539.3,54.2 L535,52.3 L530.6,50 L526.2,47.4 L521.9,44.7 L517.6,41.9 L513.2,39 L508.9,36.2 L504.5,33.4 L500.2,30.6 L495.8,27.9 L491.5,25.1 L487.1,22.4Z" fill="#F061CF" fill-opacity="0.5"/>
<path d="M487.1,19.5 L491.5,22.2 L495.8,25 L500.2,27.7 L504.5,30.5 L508.9,33.3 L513.2,36.1 L517.6,39 L521.9,41.8 L526.2,44.5 L530.6,47.1 L535,49.4 L539.3,51.4 L543.6,52.9 L548,54.1 L552.4,55 L556.7,55.7 L561.1,56.1 L565.4,56.4 L569.8,56.7 L574.1,56.9 L578.5,57.1 L582.8,57.3 L587.2,57.4 L591.5,57.5 L595.9,57.6 L600.2,57.6 L604.6,57.7 L608.9,57.7 L613.2,57.8 L617.6,57.8 L622,57.8 L626.3,57.9 L630.7,57.9 L635,57.9 L639.4,58 L643.7,58" fill="none" stroke="#EE746B" stroke-width="0.8" stroke-opacity="1"/>
<path d="M487.1,18.8 L491.5,21.5 L495.8,24.2 L500.2,27 L504.5,29.8 L508.9,32.6 L513.2,35.4 L517.6,38.2 L521.9,41 L526.2,43.8 L530.6,46.5 L535,49 L539.3,51.2 L543.6,53 L548,54.4 L552.4,55.5 L556.7,56.3 L561.1,56.9 L565.4,57.4 L569.8,57.7 L574.1,57.9 L578.5,58.1 L582.8,58.2 L587.2,58.4 L591.5,58.5 L595.9,58.6 L600.2,58.7 L604.6,58.7 L608.9,58.7 L613.2,58.8 L617.6,58.8 L622,58.8 L626.3,58.9 L630.7,58.9 L635,58.9 L639.4,59 L643.7,59" fill="none" stroke="#B28F0C" stroke-width="0.8" stroke-opacity="1"/>
<path d="M487.1,16.2 L491.5,18.9 L495.8,21.6 L500.2,24.4 L504.5,27.2 L508.9,30 L513.2,32.8 L517.6,35.6 L521.9,38.4 L526.2,41.2 L530.6,43.9 L535,46.5 L539.3,48.7 L543.6,50.4 L548,51.8 L552.4,52.9 L556.7,53.8 L561.1,54.4 L565.4,54.9 L569.8,55.2 L574.1,55.4 L578.5,55.6 L582.8,55.7 L587.2,55.9 L591.5,56 L595.9,56.1 L600.2,56.2 L604.6,56.2 L608.9,56.2 L613.2,56.3 L617.6,56.3 L622,56.3 L626.3,56.4 L630.7,56.4 L635,56.4 L639.4,56.5 L643.7,56.5" fill="none" stroke="#0BAE8A" stroke-width="0.8" stroke-opacity="1"/>
<path d="M487.1,16.5 L491.5,19.2 L495.8,21.9 L500.2,24.7 L504.5,27.5 L508.9,30.3 L513.2,33.1 L517.6,35.9 L521.9,38.7 L526.2,41.5 L530.6,44.2 L535,46.7 L539.3,48.9 L543.6,50.7 L548,52.1 L552.4,53.2 L556.7,54 L561.1,54.6 L565.4,55.1 L569.8,55.4 L574.1,55.6 L578.5,55.8 L582.8,55.9 L587.2,56.1 L591.5,56.2 L595.9,56.3 L600.2,56.4 L604.6,56.4 L608.9,56.4 L613.2,56.5 L617.6,56.5 L622,56.5 L626.3,56.6 L630.7,56.6 L635,56.6 L639.4,56.7 L643.7,56.7" fill="none" stroke="#0FA9D6" stroke-width="0.8" stroke-opacity="1"/>
<path d="M487.1,15.4 L491.5,18.1 L495.8,20.8 L500.2,23.6 L504.5,26.4 L508.9,29.2 L513.2,32 L517.6,34.8 L521.9,37.6 L526.2,40.4 L530.6,43.1 L535,45.6 L539.3,47.8 L543.6,49.6 L548,50.9 L552.4,52 L556.7,52.8 L561.1,53.4 L565.4,53.9 L569.8,54.2 L574.1,54.4 L578.5,54.6 L582.8,54.8 L587.2,54.9 L591.5,55 L595.9,55.1 L600.2,55.2 L604.6,55.2 L608.9,55.2 L613.2,55.3 L617.6,55.3 L622,55.3 L626.3,55.4 L630.7,55.4 L635,55.4 L639.4,55.5 L643.7,55.5" fill="none" stroke="#51A40B" stroke-width="0.8" stroke-opacity="1"/>
<path d="M487.1,19 L491.5,21.7 L495.8,24.5 L500.2,27.2 L504.5,30 L508.9,32.8 L513.2,35.6 L517.6,38.4 L521.9,41.3 L526.2,44 L530.6,46.6 L535,49 L539.3,51 L543.6,52.7 L548,53.9 L552.4,54.9 L556.7,55.6 L561.1,56 L565.4,56.4 L569.8,56.7 L574.1,56.9 L578.5,57.1 L582.8,57.3 L587.2,57.4 L591.5,57.5 L595.9,57.6 L600.2,57.6 L604.6,57.7 L608.9,57.8 L613.2,57.8 L617.6,57.8 L622,57.7 L626.3,57.7 L630.7,57.9 L635,58.4 L639.4,59 L643.7,59.8" fill="none" stroke="#A086F6" stroke-width="0.8" stroke-opacity="1"/>
<path d="M487.1,20.6 L491.5,23.3 L495.8,26.1 L500.2,28.8 L504.5,31.6 L508.9,34.4 L513.2,37.2 L517.6,40.1 L521.9,42.9 L526.2,45.6 L530.6,48.2 L535,50.5 L539.3,52.4 L543.6,54 L548,55.2 L552.4,56.1 L556.7,56.7 L561.1,57.1 L565.4,57.4 L569.8,57.7 L574.1,57.9 L578.5,58.1 L582.8,58.3 L587.2,58.4 L591.5,58.5 L595.9,58.6 L600.2,58.6 L604.6,58.7 L608.9,58.7 L613.2,58.8 L617.6,58.8 L622,58.8 L626.3,58.9 L630.7,58.9 L635,58.9 L639.4,59 L643.7,59" fill="none" stroke="#F061CF" stroke-width="0.8" stroke-opacity="1"/>
<line x1="500.2" y1="21" x2="500.2" y2="24" stroke="#51A40B" stroke-width="0.9" stroke-opacity="0.65"/>
<line x1="513.2" y1="28" x2="513.2" y2="33" stroke="#0FA9D6" stroke-width="0.9" stroke-opacity="0.65" stroke-dasharray="1 1"/>
<line x1="552.4" y1="42" x2="552.4" y2="44" stroke="#51A40B" stroke-width="0.9" stroke-opacity="0.65"/>
<line x1="591.5" y1="57" x2="591.5" y2="61" stroke="#B28F0C" stroke-width="0.9" stroke-opacity="0.65"/>
<line x1="630.7" y1="52" x2="630.7" y2="55" stroke="#0FA9D6" stroke-width="0.9" stroke-opacity="0.65"/>
<line x1="617.6" y1="48" x2="617.6" y2="50" stroke="#0BAE8A" stroke-width="0.9" stroke-opacity="0.65"/>
</g>
<path d="M479.4,11.3 L479.4,67.5 L651.8,67.5" fill="none" stroke="#666" stroke-width="1.15"/>
<line x1="477.59999999999997" y1="19.4" x2="479.4" y2="19.4" stroke="#777" stroke-width="0.8"/>
<text x="474.7" y="22" text-anchor="end" class="tk">10000</text>
<line x1="477.59999999999997" y1="31.1" x2="479.4" y2="31.1" stroke="#777" stroke-width="0.8"/>
<text x="474.7" y="33.8" text-anchor="end" class="tk">8000</text>
<line x1="477.59999999999997" y1="42.8" x2="479.4" y2="42.8" stroke="#777" stroke-width="0.8"/>
<text x="474.7" y="45.4" text-anchor="end" class="tk">6000</text>
<line x1="477.59999999999997" y1="54.5" x2="479.4" y2="54.5" stroke="#777" stroke-width="0.8"/>
<text x="474.7" y="57.1" text-anchor="end" class="tk">4000</text>
<line x1="477.59999999999997" y1="66.2" x2="479.4" y2="66.2" stroke="#777" stroke-width="0.8"/>
<text x="474.7" y="68.9" text-anchor="end" class="tk">2000</text>
<line x1="487.1" y1="67.5" x2="487.1" y2="69.3" stroke="#777" stroke-width="0.8"/>
<text x="487.1" y="79.3" text-anchor="middle" class="tk">1</text>
<line x1="500.2" y1="67.5" x2="500.2" y2="69.3" stroke="#777" stroke-width="0.8"/>
<text x="500.2" y="79.3" text-anchor="middle" class="tk">2</text>
<line x1="513.2" y1="67.5" x2="513.2" y2="69.3" stroke="#777" stroke-width="0.8"/>
<text x="513.2" y="79.3" text-anchor="middle" class="tk">3</text>
<line x1="526.2" y1="67.5" x2="526.2" y2="69.3" stroke="#777" stroke-width="0.8"/>
<text x="526.2" y="79.3" text-anchor="middle" class="tk">4</text>
<line x1="539.3" y1="67.5" x2="539.3" y2="69.3" stroke="#777" stroke-width="0.8"/>
<text x="539.3" y="79.3" text-anchor="middle" class="tk">5</text>
<line x1="552.4" y1="67.5" x2="552.4" y2="69.3" stroke="#777" stroke-width="0.8"/>
<text x="552.4" y="79.3" text-anchor="middle" class="tk">6</text>
<line x1="565.4" y1="67.5" x2="565.4" y2="69.3" stroke="#777" stroke-width="0.8"/>
<text x="565.4" y="79.3" text-anchor="middle" class="tk">7</text>
<line x1="578.5" y1="67.5" x2="578.5" y2="69.3" stroke="#777" stroke-width="0.8"/>
<text x="578.5" y="79.3" text-anchor="middle" class="tk">8</text>
<line x1="591.5" y1="67.5" x2="591.5" y2="69.3" stroke="#777" stroke-width="0.8"/>
<text x="591.5" y="79.3" text-anchor="middle" class="tk">9</text>
<line x1="604.6" y1="67.5" x2="604.6" y2="69.3" stroke="#777" stroke-width="0.8"/>
<text x="604.6" y="79.3" text-anchor="middle" class="tk">10</text>
<line x1="617.6" y1="67.5" x2="617.6" y2="69.3" stroke="#777" stroke-width="0.8"/>
<text x="617.6" y="79.3" text-anchor="middle" class="tk">11</text>
<line x1="630.7" y1="67.5" x2="630.7" y2="69.3" stroke="#777" stroke-width="0.8"/>
<text x="630.7" y="79.3" text-anchor="middle" class="tk">12</text>
<line x1="643.7" y1="67.5" x2="643.7" y2="69.3" stroke="#777" stroke-width="0.8"/>
<text x="643.7" y="79.3" text-anchor="middle" class="tk">13</text>
<text x="570.4" y="86.9" text-anchor="middle" class="lb">week</text>
<text x="447.6" y="6.4" class="tg">(C)</text>
<text transform="translate(452.5,42.5) rotate(-90)" text-anchor="middle" class="lb" style="font-size:7.3px">COD (mg/L)</text>
<clipPath id="cD"><rect x="29.6" y="103.3" width="178.3" height="62.8"/></clipPath>
<g clip-path="url(#cD)">
<path d="M38.1,115 L42.5,115.7 L46.9,116.4 L51.3,117.3 L55.7,118.4 L60.1,119.6 L64.5,120.8 L68.8,122 L73.2,123.1 L77.6,124.3 L82,125.5 L86.4,126.7 L90.8,127.8 L95.2,128.9 L99.6,129.9 L104,130.8 L108.4,131.7 L112.8,132.5 L117.2,133.3 L121.5,134.1 L125.9,134.8 L130.3,135.4 L134.7,136.1 L139.1,136.7 L143.5,137.3 L147.9,137.9 L152.3,138.4 L156.7,139 L161.1,139.6 L165.5,140.3 L169.8,141.1 L174.2,142 L178.6,143 L183,144.1 L187.4,145.2 L191.8,146.4 L196.2,147.5 L196.2,154.5 L191.8,152.8 L187.4,151.2 L183,149.7 L178.6,148.3 L174.2,147 L169.8,145.9 L165.5,145 L161.1,144.2 L156.7,143.5 L152.3,142.9 L147.9,142.3 L143.5,141.7 L139.1,141.1 L134.7,140.5 L130.3,139.8 L125.9,139.2 L121.5,138.5 L117.2,137.7 L112.8,136.9 L108.4,136.1 L104,135.2 L99.6,134.3 L95.2,133.3 L90.8,132.2 L86.4,131.1 L82,129.9 L77.6,128.7 L73.2,127.5 L68.8,126.4 L64.5,125.2 L60.1,124 L55.7,122.8 L51.3,121.7 L46.9,120.9 L42.5,120.4 L38.1,120Z" fill="#EE746B" fill-opacity="0.5"/>
<path d="M38.1,114.8 L42.5,115.3 L46.9,116 L51.3,116.8 L55.7,117.9 L60.1,119.1 L64.5,120.3 L68.8,121.5 L73.2,122.6 L77.6,123.8 L82,125 L86.4,126.2 L90.8,127.3 L95.2,128.4 L99.6,129.4 L104,130.3 L108.4,131.2 L112.8,132 L117.2,132.8 L121.5,133.6 L125.9,134.5 L130.3,135.3 L134.7,136.2 L139.1,137 L143.5,137.8 L147.9,138.6 L152.3,139.3 L156.7,140 L161.1,140.7 L165.5,141.4 L169.8,142.1 L174.2,142.9 L178.6,143.6 L183,144.4 L187.4,145.2 L191.8,146.1 L196.2,146.9 L196.2,151.3 L191.8,150.5 L187.4,149.6 L183,148.8 L178.6,148 L174.2,147.3 L169.8,146.5 L165.5,145.8 L161.1,145.1 L156.7,144.4 L152.3,143.7 L147.9,143 L143.5,142.2 L139.1,141.4 L134.7,140.6 L130.3,139.7 L125.9,138.9 L121.5,138 L117.2,137.2 L112.8,136.4 L108.4,135.6 L104,134.7 L99.6,133.8 L95.2,132.8 L90.8,131.7 L86.4,130.6 L82,129.4 L77.6,128.2 L73.2,127 L68.8,125.9 L64.5,124.7 L60.1,123.5 L55.7,122.3 L51.3,121.2 L46.9,120.4 L42.5,119.7 L38.1,119.2Z" fill="#B28F0C" fill-opacity="0.5"/>
<path d="M38.1,114.3 L42.5,115.2 L46.9,116.2 L51.3,117.3 L55.7,118.6 L60.1,119.9 L64.5,121.3 L68.8,122.6 L73.2,124 L77.6,125.3 L82,126.7 L86.4,128 L90.8,129.3 L95.2,130.5 L99.6,131.7 L104,132.8 L108.4,133.9 L112.8,134.9 L117.2,135.8 L121.5,136.7 L125.9,137.5 L130.3,138.3 L134.7,139 L139.1,139.7 L143.5,140.3 L147.9,140.9 L152.3,141.4 L156.7,141.9 L161.1,142.4 L165.5,142.9 L169.8,143.4 L174.2,143.9 L178.6,144.5 L183,145.1 L187.4,145.7 L191.8,146.3 L196.2,146.9 L196.2,151.3 L191.8,150.7 L187.4,150.1 L183,149.5 L178.6,148.9 L174.2,148.3 L169.8,147.8 L165.5,147.3 L161.1,146.8 L156.7,146.3 L152.3,145.8 L147.9,145.3 L143.5,144.7 L139.1,144.1 L134.7,143.4 L130.3,142.7 L125.9,141.9 L121.5,141.1 L117.2,140.2 L112.8,139.3 L108.4,138.3 L104,137.2 L99.6,136.1 L95.2,134.9 L90.8,133.7 L86.4,132.4 L82,131.1 L77.6,129.7 L73.2,128.4 L68.8,127 L64.5,125.7 L60.1,124.3 L55.7,123 L51.3,121.7 L46.9,120.6 L42.5,119.6 L38.1,118.7Z" fill="#0BAE8A" fill-opacity="0.5"/>
<path d="M38.1,112.7 L42.5,113.2 L46.9,113.6 L51.3,114 L55.7,114.4 L60.1,114.8 L64.5,115.1 L68.8,115.4 L73.2,115.6 L77.6,115.9 L82,116.1 L86.4,116.5 L90.8,116.9 L95.2,117.4 L99.6,118 L104,118.7 L108.4,119.4 L112.8,120.2 L117.2,120.9 L121.5,121.6 L125.9,122.3 L130.3,122.8 L134.7,123.4 L139.1,123.8 L143.5,124.1 L147.9,124.3 L152.3,124.4 L156.7,124.4 L161.1,124.4 L165.5,124.4 L169.8,124.4 L174.2,124.5 L178.6,124.5 L183,124.6 L187.4,124.8 L191.8,124.9 L196.2,125 L196.2,131 L191.8,130.5 L187.4,130.1 L183,129.6 L178.6,129.3 L174.2,129 L169.8,128.8 L165.5,128.7 L161.1,128.6 L156.7,128.5 L152.3,128.4 L147.9,128.3 L143.5,128.1 L139.1,127.8 L134.7,127.4 L130.3,126.8 L125.9,126.3 L121.5,125.6 L117.2,124.9 L112.8,124.2 L108.4,123.4 L104,122.7 L99.6,122 L95.2,121.4 L90.8,120.9 L86.4,120.5 L82,120.2 L77.6,120 L73.2,119.8 L68.8,119.7 L64.5,119.5 L60.1,119.3 L55.7,119.1 L51.3,118.9 L46.9,118.7 L42.5,118.5 L38.1,118.3Z" fill="#51A40B" fill-opacity="0.5"/>
<path d="M38.1,112.4 L42.5,112.5 L46.9,112.7 L51.3,112.8 L55.7,112.9 L60.1,113 L64.5,113.1 L68.8,113.2 L73.2,113.3 L77.6,113.5 L82,113.8 L86.4,114.2 L90.8,114.8 L95.2,115.5 L99.6,116.3 L104,117.4 L108.4,118.7 L112.8,120.1 L117.2,121.6 L121.5,123 L125.9,124.4 L130.3,125.8 L134.7,127 L139.1,128.2 L143.5,129.3 L147.9,130.3 L152.3,131.1 L156.7,131.9 L161.1,132.5 L165.5,133.1 L169.8,133.6 L174.2,134 L178.6,134.3 L183,134.6 L187.4,134.8 L191.8,135 L196.2,135.1 L196.2,142.1 L191.8,141.6 L187.4,141 L183,140.5 L178.6,139.9 L174.2,139.4 L169.8,138.8 L165.5,138.2 L161.1,137.5 L156.7,136.8 L152.3,136 L147.9,135.1 L143.5,134.1 L139.1,133 L134.7,131.8 L130.3,130.6 L125.9,129.2 L121.5,127.8 L117.2,126.4 L112.8,124.9 L108.4,123.5 L104,122.2 L99.6,121 L95.2,120 L90.8,119.2 L86.4,118.6 L82,118.2 L77.6,117.9 L73.2,117.7 L68.8,117.6 L64.5,117.5 L60.1,117.5 L55.7,117.5 L51.3,117.6 L46.9,117.7 L42.5,117.8 L38.1,118Z" fill="#0FA9D6" fill-opacity="0.5"/>
<path d="M38.1,116 L42.5,115.9 L46.9,115.7 L51.3,115.6 L55.7,115.5 L60.1,115.4 L64.5,115.3 L68.8,115.3 L73.2,115.3 L77.6,115.4 L82,115.5 L86.4,115.7 L90.8,115.8 L95.2,115.9 L99.6,116 L104,116.1 L108.4,116.2 L112.8,116.3 L117.2,116.3 L121.5,116.3 L125.9,116.3 L130.3,116.3 L134.7,116.3 L139.1,116.3 L143.5,116.3 L147.9,116.3 L152.3,116.3 L156.7,116.3 L161.1,116.4 L165.5,116.4 L169.8,116.4 L174.2,116.4 L178.6,116.4 L183,116.4 L187.4,116.4 L191.8,116.4 L196.2,116.4 L196.2,120 L191.8,119.9 L187.4,119.8 L183,119.7 L178.6,119.6 L174.2,119.5 L169.8,119.4 L165.5,119.3 L161.1,119.2 L156.7,119.1 L152.3,119 L147.9,119 L143.5,118.9 L139.1,118.9 L134.7,118.8 L130.3,118.8 L125.9,118.8 L121.5,118.7 L117.2,118.7 L112.8,118.7 L108.4,118.6 L104,118.5 L99.6,118.4 L95.2,118.3 L90.8,118.2 L86.4,118.1 L82,117.9 L77.6,117.8 L73.2,117.7 L68.8,117.7 L64.5,117.7 L60.1,117.8 L55.7,118.1 L51.3,118.5 L46.9,119 L42.5,119.5 L38.1,120Z" fill="#A086F6" fill-opacity="0.5"/>
<path d="M38.1,118.8 L42.5,118.9 L46.9,119 L51.3,119.1 L55.7,119.2 L60.1,119.3 L64.5,119.3 L68.8,119.4 L73.2,119.5 L77.6,119.6 L82,119.8 L86.4,120 L90.8,120.1 L95.2,120.2 L99.6,120.3 L104,120.3 L108.4,120.3 L112.8,120.3 L117.2,120.3 L121.5,120.3 L125.9,120.3 L130.3,120.3 L134.7,120.3 L139.1,120.3 L143.5,120.3 L147.9,120.3 L152.3,120.3 L156.7,120.4 L161.1,120.4 L165.5,120.5 L169.8,120.6 L174.2,120.7 L178.6,120.8 L183,120.9 L187.4,121 L191.8,121.1 L196.2,121.2 L196.2,124 L191.8,123.8 L187.4,123.6 L183,123.4 L178.6,123.3 L174.2,123.1 L169.8,123 L165.5,122.9 L161.1,122.8 L156.7,122.8 L152.3,122.7 L147.9,122.7 L143.5,122.7 L139.1,122.7 L134.7,122.7 L130.3,122.7 L125.9,122.7 L121.5,122.7 L117.2,122.7 L112.8,122.7 L108.4,122.7 L104,122.7 L99.6,122.7 L95.2,122.6 L90.8,122.5 L86.4,122.4 L82,122.2 L77.6,122 L73.2,121.9 L68.8,121.8 L64.5,121.7 L60.1,121.8 L55.7,122 L51.3,122.3 L46.9,122.8 L42.5,123.3 L38.1,123.8Z" fill="#F061CF" fill-opacity="0.5"/>
<path d="M38.1,117.5 L42.5,118 L46.9,118.7 L51.3,119.5 L55.7,120.6 L60.1,121.8 L64.5,123 L68.8,124.2 L73.2,125.3 L77.6,126.5 L82,127.7 L86.4,128.9 L90.8,130 L95.2,131.1 L99.6,132.1 L104,133 L108.4,133.9 L112.8,134.7 L117.2,135.5 L121.5,136.3 L125.9,137 L130.3,137.6 L134.7,138.3 L139.1,138.9 L143.5,139.5 L147.9,140.1 L152.3,140.6 L156.7,141.2 L161.1,141.9 L165.5,142.6 L169.8,143.5 L174.2,144.5 L178.6,145.7 L183,146.9 L187.4,148.2 L191.8,149.6 L196.2,151" fill="none" stroke="#EE746B" stroke-width="0.8" stroke-opacity="1"/>
<path d="M38.1,117 L42.5,117.5 L46.9,118.2 L51.3,119 L55.7,120.1 L60.1,121.3 L64.5,122.5 L68.8,123.7 L73.2,124.8 L77.6,126 L82,127.2 L86.4,128.4 L90.8,129.5 L95.2,130.6 L99.6,131.6 L104,132.5 L108.4,133.4 L112.8,134.2 L117.2,135 L121.5,135.8 L125.9,136.7 L130.3,137.5 L134.7,138.4 L139.1,139.2 L143.5,140 L147.9,140.8 L152.3,141.5 L156.7,142.2 L161.1,142.9 L165.5,143.6 L169.8,144.3 L174.2,145.1 L178.6,145.8 L183,146.6 L187.4,147.4 L191.8,148.3 L196.2,149.1" fill="none" stroke="#B28F0C" stroke-width="0.8" stroke-opacity="1"/>
<path d="M38.1,116.5 L42.5,117.4 L46.9,118.4 L51.3,119.5 L55.7,120.8 L60.1,122.1 L64.5,123.5 L68.8,124.8 L73.2,126.2 L77.6,127.5 L82,128.9 L86.4,130.2 L90.8,131.5 L95.2,132.7 L99.6,133.9 L104,135 L108.4,136.1 L112.8,137.1 L117.2,138 L121.5,138.9 L125.9,139.7 L130.3,140.5 L134.7,141.2 L139.1,141.9 L143.5,142.5 L147.9,143.1 L152.3,143.6 L156.7,144.1 L161.1,144.6 L165.5,145.1 L169.8,145.6 L174.2,146.1 L178.6,146.7 L183,147.3 L187.4,147.9 L191.8,148.5 L196.2,149.1" fill="none" stroke="#0BAE8A" stroke-width="0.8" stroke-opacity="1"/>
<path d="M38.1,115.5 L42.5,115.8 L46.9,116.2 L51.3,116.5 L55.7,116.8 L60.1,117.1 L64.5,117.3 L68.8,117.5 L73.2,117.7 L77.6,117.9 L82,118.2 L86.4,118.5 L90.8,118.9 L95.2,119.4 L99.6,120 L104,120.7 L108.4,121.4 L112.8,122.2 L117.2,122.9 L121.5,123.6 L125.9,124.3 L130.3,124.8 L134.7,125.4 L139.1,125.8 L143.5,126.1 L147.9,126.3 L152.3,126.4 L156.7,126.5 L161.1,126.5 L165.5,126.5 L169.8,126.6 L174.2,126.7 L178.6,126.9 L183,127.1 L187.4,127.4 L191.8,127.7 L196.2,128" fill="none" stroke="#51A40B" stroke-width="0.8" stroke-opacity="1"/>
<path d="M38.1,115.2 L42.5,115.2 L46.9,115.2 L51.3,115.2 L55.7,115.2 L60.1,115.2 L64.5,115.3 L68.8,115.4 L73.2,115.5 L77.6,115.7 L82,116 L86.4,116.4 L90.8,117 L95.2,117.7 L99.6,118.7 L104,119.8 L108.4,121.1 L112.8,122.5 L117.2,124 L121.5,125.4 L125.9,126.8 L130.3,128.2 L134.7,129.4 L139.1,130.6 L143.5,131.7 L147.9,132.7 L152.3,133.6 L156.7,134.3 L161.1,135 L165.5,135.6 L169.8,136.2 L174.2,136.7 L178.6,137.1 L183,137.5 L187.4,137.9 L191.8,138.3 L196.2,138.6" fill="none" stroke="#0FA9D6" stroke-width="0.8" stroke-opacity="1"/>
<path d="M38.1,118 L42.5,117.7 L46.9,117.3 L51.3,117.1 L55.7,116.8 L60.1,116.6 L64.5,116.5 L68.8,116.5 L73.2,116.5 L77.6,116.6 L82,116.7 L86.4,116.9 L90.8,117 L95.2,117.1 L99.6,117.2 L104,117.3 L108.4,117.4 L112.8,117.5 L117.2,117.5 L121.5,117.5 L125.9,117.5 L130.3,117.6 L134.7,117.6 L139.1,117.6 L143.5,117.6 L147.9,117.6 L152.3,117.7 L156.7,117.7 L161.1,117.8 L165.5,117.8 L169.8,117.9 L174.2,118 L178.6,118 L183,118.1 L187.4,118.1 L191.8,118.2 L196.2,118.2" fill="none" stroke="#A086F6" stroke-width="0.8" stroke-opacity="1"/>
<path d="M38.1,121.3 L42.5,121.1 L46.9,120.9 L51.3,120.7 L55.7,120.6 L60.1,120.5 L64.5,120.5 L68.8,120.6 L73.2,120.7 L77.6,120.8 L82,121 L86.4,121.2 L90.8,121.3 L95.2,121.4 L99.6,121.5 L104,121.5 L108.4,121.5 L112.8,121.5 L117.2,121.5 L121.5,121.5 L125.9,121.5 L130.3,121.5 L134.7,121.5 L139.1,121.5 L143.5,121.5 L147.9,121.5 L152.3,121.5 L156.7,121.6 L161.1,121.6 L165.5,121.7 L169.8,121.8 L174.2,121.9 L178.6,122 L183,122.2 L187.4,122.3 L191.8,122.4 L196.2,122.6" fill="none" stroke="#F061CF" stroke-width="0.8" stroke-opacity="1"/>
<line x1="51.3" y1="112" x2="51.3" y2="115" stroke="#0FA9D6" stroke-width="0.9" stroke-opacity="0.65"/>
<line x1="143.5" y1="148" x2="143.5" y2="151" stroke="#51A40B" stroke-width="0.9" stroke-opacity="0.65" stroke-dasharray="1 1"/>
<line x1="196.2" y1="163" x2="196.2" y2="164.5" stroke="#0BAE8A" stroke-width="0.9" stroke-opacity="0.65"/>
<line x1="169.8" y1="157" x2="169.8" y2="159" stroke="#B28F0C" stroke-width="0.9" stroke-opacity="0.65"/>
<line x1="117.2" y1="116" x2="117.2" y2="118" stroke="#A086F6" stroke-width="0.9" stroke-opacity="0.65"/>
<line x1="77.6" y1="121" x2="77.6" y2="124" stroke="#51A40B" stroke-width="0.9" stroke-opacity="0.65"/>
</g>
<path d="M29.6,109.3 L29.6,166.1 L203.9,166.1" fill="none" stroke="#666" stroke-width="1.15"/>
<line x1="27.8" y1="111.8" x2="29.6" y2="111.8" stroke="#777" stroke-width="0.8"/>
<text x="25.3" y="114.5" text-anchor="end" class="tk">800</text>
<line x1="27.8" y1="126.6" x2="29.6" y2="126.6" stroke="#777" stroke-width="0.8"/>
<text x="25.3" y="129.2" text-anchor="end" class="tk">600</text>
<line x1="27.8" y1="141.5" x2="29.6" y2="141.5" stroke="#777" stroke-width="0.8"/>
<text x="25.3" y="144.2" text-anchor="end" class="tk">400</text>
<line x1="27.8" y1="156.4" x2="29.6" y2="156.4" stroke="#777" stroke-width="0.8"/>
<text x="25.3" y="159.1" text-anchor="end" class="tk">200</text>
<line x1="38.1" y1="166.1" x2="38.1" y2="167.9" stroke="#777" stroke-width="0.8"/>
<text x="38.1" y="178.7" text-anchor="middle" class="tk">1</text>
<line x1="51.3" y1="166.1" x2="51.3" y2="167.9" stroke="#777" stroke-width="0.8"/>
<text x="51.3" y="178.7" text-anchor="middle" class="tk">2</text>
<line x1="64.5" y1="166.1" x2="64.5" y2="167.9" stroke="#777" stroke-width="0.8"/>
<text x="64.5" y="178.7" text-anchor="middle" class="tk">3</text>
<line x1="77.6" y1="166.1" x2="77.6" y2="167.9" stroke="#777" stroke-width="0.8"/>
<text x="77.6" y="178.7" text-anchor="middle" class="tk">4</text>
<line x1="90.8" y1="166.1" x2="90.8" y2="167.9" stroke="#777" stroke-width="0.8"/>
<text x="90.8" y="178.7" text-anchor="middle" class="tk">5</text>
<line x1="104" y1="166.1" x2="104" y2="167.9" stroke="#777" stroke-width="0.8"/>
<text x="104" y="178.7" text-anchor="middle" class="tk">6</text>
<line x1="117.2" y1="166.1" x2="117.2" y2="167.9" stroke="#777" stroke-width="0.8"/>
<text x="117.2" y="178.7" text-anchor="middle" class="tk">7</text>
<line x1="130.3" y1="166.1" x2="130.3" y2="167.9" stroke="#777" stroke-width="0.8"/>
<text x="130.3" y="178.7" text-anchor="middle" class="tk">8</text>
<line x1="143.5" y1="166.1" x2="143.5" y2="167.9" stroke="#777" stroke-width="0.8"/>
<text x="143.5" y="178.7" text-anchor="middle" class="tk">9</text>
<line x1="156.7" y1="166.1" x2="156.7" y2="167.9" stroke="#777" stroke-width="0.8"/>
<text x="156.7" y="178.7" text-anchor="middle" class="tk">10</text>
<line x1="169.8" y1="166.1" x2="169.8" y2="167.9" stroke="#777" stroke-width="0.8"/>
<text x="169.8" y="178.7" text-anchor="middle" class="tk">11</text>
<line x1="183" y1="166.1" x2="183" y2="167.9" stroke="#777" stroke-width="0.8"/>
<text x="183" y="178.7" text-anchor="middle" class="tk">12</text>
<line x1="196.2" y1="166.1" x2="196.2" y2="167.9" stroke="#777" stroke-width="0.8"/>
<text x="196.2" y="178.7" text-anchor="middle" class="tk">13</text>
<text x="119.7" y="189.2" text-anchor="middle" class="lb">week</text>
<text x="4" y="99.7" class="tg">(D)</text>
<text transform="translate(8.1,136) rotate(-90)" text-anchor="middle" class="lb" style="font-size:7.3px">TN (mg/L)</text>
<clipPath id="cE"><rect x="254.3" y="103.2" width="177.39999999999998" height="62.89999999999999"/></clipPath>
<g clip-path="url(#cE)">
<path d="M261.6,115.8 L266,117.9 L270.4,119.9 L274.8,121.8 L279.2,123.4 L283.6,124.9 L288,126.1 L292.4,127.2 L296.8,128.1 L301.2,129 L305.6,129.8 L310,130.5 L314.4,131.1 L318.8,131.5 L323.2,131.9 L327.6,132.3 L332,132.8 L336.4,133.4 L340.8,133.9 L345.1,134.5 L349.5,135.1 L353.9,135.7 L358.3,136.2 L362.7,136.7 L367.1,137.1 L371.5,137.4 L375.9,137.5 L380.3,137.7 L384.7,138 L389.1,138.3 L393.5,138.8 L397.9,139.4 L402.3,140.1 L406.7,140.9 L411.1,141.7 L415.5,142.6 L419.9,143.5 L419.9,149.5 L415.5,148.6 L411.1,147.7 L406.7,146.9 L402.3,146.1 L397.9,145.4 L393.5,144.8 L389.1,144.3 L384.7,144 L380.3,143.7 L375.9,143.5 L371.5,143.4 L367.1,143.1 L362.7,142.7 L358.3,142.2 L353.9,141.7 L349.5,141.1 L345.1,140.5 L340.8,139.9 L336.4,139.4 L332,138.8 L327.6,138.3 L323.2,137.9 L318.8,137.5 L314.4,137.1 L310,136.5 L305.6,135.8 L301.2,135 L296.8,134.1 L292.4,133.2 L288,132.1 L283.6,130.9 L279.2,129.4 L274.8,127.8 L270.4,125.9 L266,123.9 L261.6,121.8Z" fill="#EE746B" fill-opacity="0.5"/>
<path d="M261.6,116.6 L266,118.6 L270.4,120.6 L274.8,122.4 L279.2,124 L283.6,125.4 L288,126.7 L292.4,127.8 L296.8,128.7 L301.2,129.6 L305.6,130.4 L310,131.2 L314.4,131.8 L318.8,132.1 L323.2,132.4 L327.6,132.9 L332,133.9 L336.4,135.1 L340.8,136.4 L345.1,137.5 L349.5,138.3 L353.9,138.9 L358.3,139.1 L362.7,139.1 L367.1,138.9 L371.5,138.6 L375.9,138.4 L380.3,138.4 L384.7,138.7 L389.1,139.2 L393.5,139.7 L397.9,140.1 L402.3,140.4 L406.7,141 L411.1,142 L415.5,143.2 L419.9,144.5 L419.9,150.5 L415.5,149.2 L411.1,148 L406.7,147 L402.3,146.3 L397.9,145.8 L393.5,145.3 L389.1,144.6 L384.7,144 L380.3,143.6 L375.9,143.6 L371.5,143.8 L367.1,144.1 L362.7,144.3 L358.3,144.3 L353.9,144.1 L349.5,143.5 L345.1,142.7 L340.8,141.6 L336.4,140.6 L332,139.7 L327.6,138.9 L323.2,138.4 L318.8,138.1 L314.4,137.8 L310,137.2 L305.6,136.4 L301.2,135.6 L296.8,134.7 L292.4,133.8 L288,132.7 L283.6,131.4 L279.2,130 L274.8,128.4 L270.4,126.6 L266,124.6 L261.6,122.6Z" fill="#B28F0C" fill-opacity="0.5"/>
<path d="M261.6,116.3 L266,118.4 L270.4,120.3 L274.8,122.2 L279.2,123.8 L283.6,125.3 L288,126.5 L292.4,127.6 L296.8,128.5 L301.2,129.4 L305.6,130.2 L310,130.9 L314.4,131.5 L318.8,132 L323.2,132.3 L327.6,132.7 L332,133.2 L336.4,133.8 L340.8,134.3 L345.1,134.9 L349.5,135.5 L353.9,136 L358.3,136.6 L362.7,137.1 L367.1,137.4 L371.5,137.7 L375.9,137.9 L380.3,138 L384.7,138.2 L389.1,138.6 L393.5,139.1 L397.9,139.8 L402.3,140.6 L406.7,141.3 L411.1,141.8 L415.5,142.1 L419.9,142.4 L419.9,148.4 L415.5,148.1 L411.1,147.8 L406.7,147.3 L402.3,146.6 L397.9,145.8 L393.5,145.1 L389.1,144.6 L384.7,144.2 L380.3,144 L375.9,143.9 L371.5,143.7 L367.1,143.4 L362.7,143.1 L358.3,142.6 L353.9,142 L349.5,141.5 L345.1,140.9 L340.8,140.3 L336.4,139.8 L332,139.2 L327.6,138.7 L323.2,138.3 L318.8,138 L314.4,137.5 L310,136.9 L305.6,136.2 L301.2,135.4 L296.8,134.5 L292.4,133.6 L288,132.5 L283.6,131.3 L279.2,129.8 L274.8,128.2 L270.4,126.3 L266,124.4 L261.6,122.3Z" fill="#51A40B" fill-opacity="0.5"/>
<path d="M261.6,117.2 L266,119.1 L270.4,121 L274.8,122.8 L279.2,124.4 L283.6,125.8 L288,127.1 L292.4,128.1 L296.8,129.1 L301.2,130 L305.6,130.8 L310,131.6 L314.4,132.2 L318.8,132.6 L323.2,133 L327.6,133.3 L332,133.8 L336.4,134.4 L340.8,134.9 L345.1,135.5 L349.5,136.1 L353.9,136.6 L358.3,137.1 L362.7,137.6 L367.1,137.9 L371.5,138.2 L375.9,138.3 L380.3,138.5 L384.7,138.7 L389.1,139.1 L393.5,139.7 L397.9,140.4 L402.3,141.2 L406.7,142 L411.1,142.6 L415.5,143.1 L419.9,143.5 L419.9,149.5 L415.5,149.1 L411.1,148.6 L406.7,148 L402.3,147.2 L397.9,146.4 L393.5,145.7 L389.1,145.1 L384.7,144.7 L380.3,144.5 L375.9,144.3 L371.5,144.2 L367.1,143.9 L362.7,143.6 L358.3,143.1 L353.9,142.6 L349.5,142.1 L345.1,141.5 L340.8,140.9 L336.4,140.4 L332,139.8 L327.6,139.3 L323.2,139 L318.8,138.6 L314.4,138.2 L310,137.6 L305.6,136.8 L301.2,136 L296.8,135.1 L292.4,134.1 L288,133.1 L283.6,131.8 L279.2,130.4 L274.8,128.8 L270.4,127 L266,125.1 L261.6,123.2Z" fill="#0BAE8A" fill-opacity="0.5"/>
<path d="M261.6,112.3 L266,114.7 L270.4,117 L274.8,119.1 L279.2,120.9 L283.6,122.4 L288,123.7 L292.4,124.7 L296.8,125.6 L301.2,126.3 L305.6,126.9 L310,127.5 L314.4,128.1 L318.8,128.6 L323.2,129.1 L327.6,129.6 L332,130.2 L336.4,130.8 L340.8,131.4 L345.1,132 L349.5,132.6 L353.9,133.3 L358.3,133.9 L362.7,134.6 L367.1,135 L371.5,135.3 L375.9,135.5 L380.3,135.7 L384.7,136 L389.1,136.2 L393.5,136.4 L397.9,136.5 L402.3,136.9 L406.7,137.9 L411.1,139.8 L415.5,142.5 L419.9,145.6 L419.9,151.6 L415.5,148.5 L411.1,145.8 L406.7,143.9 L402.3,142.9 L397.9,142.5 L393.5,142.4 L389.1,142.2 L384.7,142 L380.3,141.7 L375.9,141.5 L371.5,141.3 L367.1,141 L362.7,140.6 L358.3,139.9 L353.9,139.3 L349.5,138.6 L345.1,138 L340.8,137.4 L336.4,136.8 L332,136.2 L327.6,135.6 L323.2,135.1 L318.8,134.6 L314.4,134.1 L310,133.5 L305.6,132.9 L301.2,132.3 L296.8,131.6 L292.4,130.7 L288,129.7 L283.6,128.4 L279.2,126.9 L274.8,125.1 L270.4,123 L266,120.7 L261.6,118.3Z" fill="#0FA9D6" fill-opacity="0.5"/>
<path d="M261.6,113.1 L266,115.4 L270.4,117.6 L274.8,119.7 L279.2,121.5 L283.6,123 L288,124.2 L292.4,125.3 L296.8,126.1 L301.2,126.9 L305.6,127.6 L310,128.2 L314.4,128.8 L318.8,129.3 L323.2,129.8 L327.6,130.3 L332,130.8 L336.4,131.4 L340.8,132 L345.1,132.6 L349.5,133.2 L353.9,133.8 L358.3,134.5 L362.7,135 L367.1,135.5 L371.5,135.8 L375.9,136 L380.3,136.2 L384.7,136.1 L389.1,135.8 L393.5,135.5 L397.9,135.3 L402.3,135.1 L406.7,135 L411.1,135.1 L415.5,135.3 L419.9,135.5 L419.9,147.5 L415.5,146.6 L411.1,145.7 L406.7,145 L402.3,144.4 L397.9,143.9 L393.5,143.5 L389.1,143 L384.7,142.5 L380.3,142.2 L375.9,142 L371.5,141.8 L367.1,141.5 L362.7,141 L358.3,140.5 L353.9,139.8 L349.5,139.2 L345.1,138.6 L340.8,138 L336.4,137.4 L332,136.8 L327.6,136.3 L323.2,135.8 L318.8,135.3 L314.4,134.8 L310,134.2 L305.6,133.6 L301.2,132.9 L296.8,132.1 L292.4,131.3 L288,130.2 L283.6,129 L279.2,127.5 L274.8,125.7 L270.4,123.6 L266,121.4 L261.6,119.1Z" fill="#A086F6" fill-opacity="0.5"/>
<path d="M261.6,117.7 L266,119.6 L270.4,121.5 L274.8,123.2 L279.2,124.8 L283.6,126.2 L288,127.4 L292.4,128.5 L296.8,129.5 L301.2,130.4 L305.6,131.3 L310,132.1 L314.4,132.7 L318.8,133.1 L323.2,133.4 L327.6,133.7 L332,134.2 L336.4,134.7 L340.8,135.3 L345.1,135.9 L349.5,136.4 L353.9,137 L358.3,137.5 L362.7,137.9 L367.1,138.2 L371.5,138.4 L375.9,138.6 L380.3,138.8 L384.7,139.1 L389.1,139.5 L393.5,140 L397.9,140.6 L402.3,141.3 L406.7,142.5 L411.1,144.2 L415.5,146.2 L419.9,148.5 L419.9,154.5 L415.5,152.2 L411.1,150.2 L406.7,148.5 L402.3,147.3 L397.9,146.6 L393.5,146 L389.1,145.5 L384.7,145.1 L380.3,144.8 L375.9,144.6 L371.5,144.4 L367.1,144.2 L362.7,143.9 L358.3,143.5 L353.9,143 L349.5,142.4 L345.1,141.9 L340.8,141.3 L336.4,140.7 L332,140.2 L327.6,139.7 L323.2,139.4 L318.8,139.1 L314.4,138.7 L310,138.1 L305.6,137.3 L301.2,136.4 L296.8,135.5 L292.4,134.5 L288,133.4 L283.6,132.2 L279.2,130.8 L274.8,129.2 L270.4,127.5 L266,125.6 L261.6,123.7Z" fill="#F061CF" fill-opacity="0.5"/>
<path d="M261.6,118.8 L266,120.9 L270.4,122.9 L274.8,124.8 L279.2,126.4 L283.6,127.9 L288,129.1 L292.4,130.2 L296.8,131.1 L301.2,132 L305.6,132.8 L310,133.5 L314.4,134.1 L318.8,134.5 L323.2,134.9 L327.6,135.3 L332,135.8 L336.4,136.4 L340.8,136.9 L345.1,137.5 L349.5,138.1 L353.9,138.7 L358.3,139.2 L362.7,139.7 L367.1,140.1 L371.5,140.4 L375.9,140.5 L380.3,140.7 L384.7,141 L389.1,141.3 L393.5,141.8 L397.9,142.4 L402.3,143.1 L406.7,143.9 L411.1,144.7 L415.5,145.6 L419.9,146.5" fill="none" stroke="#EE746B" stroke-width="0.8" stroke-opacity="1"/>
<path d="M261.6,119.6 L266,121.6 L270.4,123.6 L274.8,125.4 L279.2,127 L283.6,128.4 L288,129.7 L292.4,130.8 L296.8,131.7 L301.2,132.6 L305.6,133.4 L310,134.2 L314.4,134.8 L318.8,135.1 L323.2,135.4 L327.6,135.9 L332,136.8 L336.4,137.9 L340.8,139 L345.1,140.1 L349.5,140.9 L353.9,141.5 L358.3,141.7 L362.7,141.7 L367.1,141.5 L371.5,141.2 L375.9,141 L380.3,141 L384.7,141.4 L389.1,141.9 L393.5,142.5 L397.9,142.9 L402.3,143.4 L406.7,144 L411.1,145 L415.5,146.2 L419.9,147.5" fill="none" stroke="#B28F0C" stroke-width="0.8" stroke-opacity="1"/>
<path d="M261.6,119.3 L266,121.4 L270.4,123.3 L274.8,125.2 L279.2,126.8 L283.6,128.3 L288,129.5 L292.4,130.6 L296.8,131.5 L301.2,132.4 L305.6,133.2 L310,133.9 L314.4,134.5 L318.8,135 L323.2,135.3 L327.6,135.7 L332,136.2 L336.4,136.8 L340.8,137.3 L345.1,137.9 L349.5,138.5 L353.9,139 L358.3,139.6 L362.7,140.1 L367.1,140.4 L371.5,140.7 L375.9,140.9 L380.3,141 L384.7,141.2 L389.1,141.6 L393.5,142.1 L397.9,142.8 L402.3,143.6 L406.7,144.3 L411.1,144.8 L415.5,145.1 L419.9,145.4" fill="none" stroke="#51A40B" stroke-width="0.8" stroke-opacity="1"/>
<path d="M261.6,120.2 L266,122.1 L270.4,124 L274.8,125.8 L279.2,127.4 L283.6,128.8 L288,130.1 L292.4,131.1 L296.8,132.1 L301.2,133 L305.6,133.8 L310,134.6 L314.4,135.2 L318.8,135.6 L323.2,136 L327.6,136.3 L332,136.8 L336.4,137.4 L340.8,137.9 L345.1,138.5 L349.5,139.1 L353.9,139.6 L358.3,140.1 L362.7,140.6 L367.1,140.9 L371.5,141.2 L375.9,141.3 L380.3,141.5 L384.7,141.7 L389.1,142.1 L393.5,142.7 L397.9,143.4 L402.3,144.2 L406.7,145 L411.1,145.6 L415.5,146.1 L419.9,146.5" fill="none" stroke="#0BAE8A" stroke-width="0.8" stroke-opacity="1"/>
<path d="M261.6,115.3 L266,117.7 L270.4,120 L274.8,122.1 L279.2,123.9 L283.6,125.4 L288,126.7 L292.4,127.7 L296.8,128.6 L301.2,129.3 L305.6,129.9 L310,130.5 L314.4,131.1 L318.8,131.6 L323.2,132.1 L327.6,132.6 L332,133.2 L336.4,133.8 L340.8,134.4 L345.1,135 L349.5,135.6 L353.9,136.3 L358.3,136.9 L362.7,137.6 L367.1,138 L371.5,138.3 L375.9,138.5 L380.3,138.7 L384.7,139 L389.1,139.2 L393.5,139.4 L397.9,139.5 L402.3,139.9 L406.7,140.9 L411.1,142.8 L415.5,145.5 L419.9,148.6" fill="none" stroke="#0FA9D6" stroke-width="0.8" stroke-opacity="1"/>
<path d="M261.6,116.1 L266,118.4 L270.4,120.6 L274.8,122.7 L279.2,124.5 L283.6,126 L288,127.2 L292.4,128.3 L296.8,129.1 L301.2,129.9 L305.6,130.6 L310,131.2 L314.4,131.8 L318.8,132.3 L323.2,132.8 L327.6,133.3 L332,133.8 L336.4,134.4 L340.8,135 L345.1,135.6 L349.5,136.2 L353.9,136.8 L358.3,137.5 L362.7,138 L367.1,138.5 L371.5,138.8 L375.9,139 L380.3,139.2 L384.7,139.3 L389.1,139.4 L393.5,139.5 L397.9,139.6 L402.3,139.7 L406.7,140 L411.1,140.4 L415.5,140.9 L419.9,141.5" fill="none" stroke="#A086F6" stroke-width="0.8" stroke-opacity="1"/>
<path d="M261.6,120.7 L266,122.6 L270.4,124.5 L274.8,126.2 L279.2,127.8 L283.6,129.2 L288,130.4 L292.4,131.5 L296.8,132.5 L301.2,133.4 L305.6,134.3 L310,135.1 L314.4,135.7 L318.8,136.1 L323.2,136.4 L327.6,136.7 L332,137.2 L336.4,137.7 L340.8,138.3 L345.1,138.9 L349.5,139.4 L353.9,140 L358.3,140.5 L362.7,140.9 L367.1,141.2 L371.5,141.4 L375.9,141.6 L380.3,141.8 L384.7,142.1 L389.1,142.5 L393.5,143 L397.9,143.6 L402.3,144.3 L406.7,145.5 L411.1,147.2 L415.5,149.2 L419.9,151.5" fill="none" stroke="#F061CF" stroke-width="0.8" stroke-opacity="1"/>
<line x1="393.5" y1="123" x2="393.5" y2="126" stroke="#B28F0C" stroke-width="0.9" stroke-opacity="0.65"/>
<line x1="393.5" y1="127.5" x2="393.5" y2="130.5" stroke="#51A40B" stroke-width="0.9" stroke-opacity="0.65"/>
<line x1="393.5" y1="131" x2="393.5" y2="133.5" stroke="#F061CF" stroke-width="0.9" stroke-opacity="0.65"/>
<line x1="393.5" y1="135" x2="393.5" y2="138" stroke="#A086F6" stroke-width="0.9" stroke-opacity="0.65"/>
<line x1="353.9" y1="133.5" x2="353.9" y2="135.5" stroke="#0FA9D6" stroke-width="0.9" stroke-opacity="0.65"/>
<line x1="367.1" y1="145" x2="367.1" y2="147.5" stroke="#B28F0C" stroke-width="0.9" stroke-opacity="0.65"/>
<line x1="367.1" y1="149.5" x2="367.1" y2="152.5" stroke="#EE746B" stroke-width="0.9" stroke-opacity="0.65"/>
<line x1="367.1" y1="162.5" x2="367.1" y2="164" stroke="#51A40B" stroke-width="0.9" stroke-opacity="0.65"/>
<line x1="380.3" y1="133.5" x2="380.3" y2="135.5" stroke="#51A40B" stroke-width="0.9" stroke-opacity="0.65"/>
<line x1="380.3" y1="147" x2="380.3" y2="149" stroke="#0FA9D6" stroke-width="0.9" stroke-opacity="0.65"/>
<line x1="406.7" y1="139.5" x2="406.7" y2="141" stroke="#51A40B" stroke-width="0.9" stroke-opacity="0.65"/>
<line x1="406.7" y1="150.5" x2="406.7" y2="152" stroke="#A086F6" stroke-width="0.9" stroke-opacity="0.65"/>
<line x1="340.8" y1="126" x2="340.8" y2="128" stroke="#F061CF" stroke-width="0.9" stroke-opacity="0.65"/>
<line x1="301.2" y1="126.5" x2="301.2" y2="128.5" stroke="#51A40B" stroke-width="0.9" stroke-opacity="0.65"/>
<line x1="288" y1="134.5" x2="288" y2="136.5" stroke="#0BAE8A" stroke-width="0.9" stroke-opacity="0.65"/>
<line x1="301.2" y1="141.5" x2="301.2" y2="144" stroke="#51A40B" stroke-width="0.9" stroke-opacity="0.65"/>
</g>
<path d="M254.3,109.2 L254.3,166.1 L427.7,166.1" fill="none" stroke="#666" stroke-width="1.15"/>
<line x1="252.5" y1="123.2" x2="254.3" y2="123.2" stroke="#777" stroke-width="0.8"/>
<text x="250.2" y="125.9" text-anchor="end" class="tk">1500</text>
<line x1="252.5" y1="139.2" x2="254.3" y2="139.2" stroke="#777" stroke-width="0.8"/>
<text x="250.2" y="141.8" text-anchor="end" class="tk">1000</text>
<line x1="252.5" y1="155.4" x2="254.3" y2="155.4" stroke="#777" stroke-width="0.8"/>
<text x="250.2" y="158.1" text-anchor="end" class="tk">500</text>
<line x1="261.6" y1="166.1" x2="261.6" y2="167.9" stroke="#777" stroke-width="0.8"/>
<text x="261.6" y="178.7" text-anchor="middle" class="tk">1</text>
<line x1="274.8" y1="166.1" x2="274.8" y2="167.9" stroke="#777" stroke-width="0.8"/>
<text x="274.8" y="178.7" text-anchor="middle" class="tk">2</text>
<line x1="288" y1="166.1" x2="288" y2="167.9" stroke="#777" stroke-width="0.8"/>
<text x="288" y="178.7" text-anchor="middle" class="tk">3</text>
<line x1="301.2" y1="166.1" x2="301.2" y2="167.9" stroke="#777" stroke-width="0.8"/>
<text x="301.2" y="178.7" text-anchor="middle" class="tk">4</text>
<line x1="314.4" y1="166.1" x2="314.4" y2="167.9" stroke="#777" stroke-width="0.8"/>
<text x="314.4" y="178.7" text-anchor="middle" class="tk">5</text>
<line x1="327.6" y1="166.1" x2="327.6" y2="167.9" stroke="#777" stroke-width="0.8"/>
<text x="327.6" y="178.7" text-anchor="middle" class="tk">6</text>
<line x1="340.8" y1="166.1" x2="340.8" y2="167.9" stroke="#777" stroke-width="0.8"/>
<text x="340.8" y="178.7" text-anchor="middle" class="tk">7</text>
<line x1="353.9" y1="166.1" x2="353.9" y2="167.9" stroke="#777" stroke-width="0.8"/>
<text x="353.9" y="178.7" text-anchor="middle" class="tk">8</text>
<line x1="367.1" y1="166.1" x2="367.1" y2="167.9" stroke="#777" stroke-width="0.8"/>
<text x="367.1" y="178.7" text-anchor="middle" class="tk">9</text>
<line x1="380.3" y1="166.1" x2="380.3" y2="167.9" stroke="#777" stroke-width="0.8"/>
<text x="380.3" y="178.7" text-anchor="middle" class="tk">10</text>
<line x1="393.5" y1="166.1" x2="393.5" y2="167.9" stroke="#777" stroke-width="0.8"/>
<text x="393.5" y="178.7" text-anchor="middle" class="tk">11</text>
<line x1="406.7" y1="166.1" x2="406.7" y2="167.9" stroke="#777" stroke-width="0.8"/>
<text x="406.7" y="178.7" text-anchor="middle" class="tk">12</text>
<line x1="419.9" y1="166.1" x2="419.9" y2="167.9" stroke="#777" stroke-width="0.8"/>
<text x="419.9" y="178.7" text-anchor="middle" class="tk">13</text>
<text x="346.8" y="189.2" text-anchor="middle" class="lb">week</text>
<text x="227" y="99.7" class="tg">(E)</text>
<text transform="translate(233.2,135.7) rotate(-90)" text-anchor="middle" class="lb" style="font-size:7.5px">WSOC (mg/L)</text>
<clipPath id="cF"><rect x="479.4" y="103.2" width="178.39999999999998" height="62.89999999999999"/></clipPath>
<g clip-path="url(#cF)">
<path d="M487.8,120.7 L492.2,124.4 L496.6,127.9 L501,131.1 L505.4,134.1 L509.8,136.8 L514.2,139.4 L518.7,141.9 L523.1,144.1 L527.5,146.1 L531.9,147.7 L536.3,148.9 L540.7,149.8 L545.1,150.5 L549.5,151 L553.9,151.3 L558.3,151.5 L562.7,151.7 L567.1,151.9 L571.6,152.1 L576,152.3 L580.4,152.6 L584.8,152.8 L589.2,153.1 L593.6,153.3 L598,153.5 L602.4,153.7 L606.8,153.8 L611.2,154 L615.6,154 L620,154.1 L624.5,154.1 L628.9,154.1 L633.3,154 L637.7,153.9 L642.1,153.8 L646.5,153.6 L646.5,159.6 L642.1,159.4 L637.7,159.2 L633.3,159 L628.9,158.8 L624.5,158.7 L620,158.5 L615.6,158.3 L611.2,158.2 L606.8,158 L602.4,157.7 L598,157.5 L593.6,157.3 L589.2,157.1 L584.8,156.8 L580.4,156.6 L576,156.3 L571.6,156.1 L567.1,155.9 L562.7,155.7 L558.3,155.5 L553.9,155.3 L549.5,155 L545.1,154.5 L540.7,153.8 L536.3,152.9 L531.9,151.7 L527.5,150.1 L523.1,148.1 L518.7,145.9 L514.2,143.4 L509.8,140.9 L505.4,138.3 L501,135.5 L496.6,132.6 L492.2,129.7 L487.8,126.7Z" fill="#EE746B" fill-opacity="0.5"/>
<path d="M487.8,119 L492.2,122.8 L496.6,126.5 L501,130 L505.4,133.2 L509.8,136 L514.2,138.6 L518.7,141 L523.1,143.1 L527.5,145 L531.9,146.6 L536.3,147.9 L540.7,149 L545.1,149.8 L549.5,150.4 L553.9,150.9 L558.3,151.3 L562.7,151.5 L567.1,151.8 L571.6,152.1 L576,152.4 L580.4,152.7 L584.8,153 L589.2,153.2 L593.6,153.5 L598,153.7 L602.4,153.9 L606.8,154.1 L611.2,154.2 L615.6,154.3 L620,154.4 L624.5,154.5 L628.9,154.5 L633.3,154.5 L637.7,154.6 L642.1,154.6 L646.5,154.6 L646.5,158.6 L642.1,158.6 L637.7,158.6 L633.3,158.5 L628.9,158.5 L624.5,158.5 L620,158.4 L615.6,158.3 L611.2,158.2 L606.8,158.1 L602.4,157.9 L598,157.7 L593.6,157.5 L589.2,157.2 L584.8,157 L580.4,156.7 L576,156.4 L571.6,156.1 L567.1,155.8 L562.7,155.5 L558.3,155.3 L553.9,154.9 L549.5,154.4 L545.1,153.8 L540.7,153 L536.3,151.9 L531.9,150.6 L527.5,149 L523.1,147.1 L518.7,145 L514.2,142.6 L509.8,140 L505.4,137.2 L501,134 L496.6,130.5 L492.2,126.8 L487.8,123Z" fill="#B28F0C" fill-opacity="0.5"/>
<path d="M487.8,118.5 L492.2,122.4 L496.6,126.1 L501,129.7 L505.4,133 L509.8,135.9 L514.2,138.6 L518.7,141 L523.1,143.1 L527.5,145 L531.9,146.6 L536.3,147.9 L540.7,149 L545.1,149.8 L549.5,150.3 L553.9,150.7 L558.3,150.9 L562.7,151.2 L567.1,151.4 L571.6,151.7 L576,152.1 L580.4,152.5 L584.8,152.9 L589.2,153.3 L593.6,153.6 L598,153.9 L602.4,154.1 L606.8,154.3 L611.2,154.4 L615.6,154.5 L620,154.6 L624.5,154.6 L628.9,154.7 L633.3,154.7 L637.7,154.6 L642.1,154.6 L646.5,154.6 L646.5,158.6 L642.1,158.6 L637.7,158.6 L633.3,158.7 L628.9,158.7 L624.5,158.6 L620,158.6 L615.6,158.5 L611.2,158.4 L606.8,158.3 L602.4,158.1 L598,157.9 L593.6,157.6 L589.2,157.3 L584.8,156.9 L580.4,156.5 L576,156.1 L571.6,155.7 L567.1,155.4 L562.7,155.2 L558.3,154.9 L553.9,154.7 L549.5,154.3 L545.1,153.8 L540.7,153 L536.3,151.9 L531.9,150.6 L527.5,149 L523.1,147.1 L518.7,145 L514.2,142.6 L509.8,139.9 L505.4,137 L501,133.7 L496.6,130.1 L492.2,126.4 L487.8,122.5Z" fill="#51A40B" fill-opacity="0.5"/>
<path d="M487.8,120 L492.2,124.1 L496.6,128.2 L501,132.1 L505.4,135.8 L509.8,139.3 L514.2,142.6 L518.7,145.7 L523.1,148.4 L527.5,150.6 L531.9,152.1 L536.3,153.1 L540.7,153.8 L545.1,154.3 L549.5,154.6 L553.9,154.8 L558.3,154.9 L562.7,155 L567.1,155.1 L571.6,155.2 L576,155.3 L580.4,155.5 L584.8,155.6 L589.2,155.7 L593.6,155.8 L598,155.9 L602.4,155.9 L606.8,156 L611.2,156.1 L615.6,156.2 L620,156.3 L624.5,156.5 L628.9,156.7 L633.3,157 L637.7,157.3 L642.1,157.6 L646.5,157.9 L646.5,161.9 L642.1,161.6 L637.7,161.3 L633.3,161 L628.9,160.7 L624.5,160.5 L620,160.3 L615.6,160.2 L611.2,160.1 L606.8,160 L602.4,159.9 L598,159.9 L593.6,159.8 L589.2,159.7 L584.8,159.6 L580.4,159.5 L576,159.3 L571.6,159.2 L567.1,159.1 L562.7,159 L558.3,158.9 L553.9,158.8 L549.5,158.6 L545.1,158.3 L540.7,157.8 L536.3,157.1 L531.9,156.1 L527.5,154.6 L523.1,152.4 L518.7,149.7 L514.2,146.6 L509.8,143.3 L505.4,139.8 L501,136.1 L496.6,132.2 L492.2,128.1 L487.8,124Z" fill="#0BAE8A" fill-opacity="0.5"/>
<path d="M487.8,115.5 L492.2,119.2 L496.6,122.7 L501,126 L505.4,128.9 L509.8,131.5 L514.2,134 L518.7,136.4 L523.1,138.6 L527.5,140.5 L531.9,142.1 L536.3,143.4 L540.7,144.5 L545.1,145.5 L549.5,146.3 L553.9,147.1 L558.3,147.8 L562.7,148.4 L567.1,149 L571.6,149.5 L576,150 L580.4,150.4 L584.8,150.7 L589.2,151.1 L593.6,151.3 L598,151.5 L602.4,151.6 L606.8,151.7 L611.2,151.7 L615.6,151.7 L620,151.7 L624.5,151.6 L628.9,151.5 L633.3,151.4 L637.7,151.2 L642.1,151.1 L646.5,150.9 L646.5,155.9 L642.1,156.1 L637.7,156.2 L633.3,156.4 L628.9,156.5 L624.5,156.6 L620,156.7 L615.6,156.7 L611.2,156.7 L606.8,156.7 L602.4,156.6 L598,156.5 L593.6,156.3 L589.2,156.1 L584.8,155.7 L580.4,155.4 L576,155 L571.6,154.5 L567.1,154 L562.7,153.4 L558.3,152.8 L553.9,152.1 L549.5,151.3 L545.1,150.5 L540.7,149.5 L536.3,148.4 L531.9,147.1 L527.5,145.5 L523.1,143.6 L518.7,141.4 L514.2,139 L509.8,136.5 L505.4,133.9 L501,131 L496.6,127.7 L492.2,124.2 L487.8,120.5Z" fill="#0FA9D6" fill-opacity="0.5"/>
<path d="M487.8,114.5 L492.2,118.1 L496.6,121.5 L501,124.5 L505.4,127.1 L509.8,129.5 L514.2,131.7 L518.7,133.8 L523.1,135.7 L527.5,137.4 L531.9,138.8 L536.3,140.1 L540.7,141.1 L545.1,142 L549.5,142.7 L553.9,143.4 L558.3,144 L562.7,144.6 L567.1,145.2 L571.6,145.8 L576,146.5 L580.4,147.2 L584.8,147.8 L589.2,148.4 L593.6,149 L598,149.5 L602.4,150 L606.8,150.3 L611.2,150.6 L615.6,150.7 L620,150.7 L624.5,150.5 L628.9,150.2 L633.3,149.8 L637.7,149.2 L642.1,148.6 L646.5,148 L646.5,154 L642.1,154.3 L637.7,154.5 L633.3,154.8 L628.9,155 L624.5,155.1 L620,155.1 L615.6,155 L611.2,154.8 L606.8,154.5 L602.4,154.1 L598,153.6 L593.6,153 L589.2,152.4 L584.8,151.7 L580.4,151 L576,150.2 L571.6,149.5 L567.1,148.8 L562.7,148.1 L558.3,147.4 L553.9,146.8 L549.5,146 L545.1,145.2 L540.7,144.3 L536.3,143.3 L531.9,142 L527.5,140.6 L523.1,138.9 L518.7,137 L514.2,134.9 L509.8,132.7 L505.4,130.3 L501,127.7 L496.6,124.8 L492.2,121.7 L487.8,118.5Z" fill="#A086F6" fill-opacity="0.5"/>
<path d="M487.8,112.3 L492.2,115.5 L496.6,118.5 L501,121.3 L505.4,123.7 L509.8,125.9 L514.2,127.8 L518.7,129.6 L523.1,131.2 L527.5,132.4 L531.9,133.3 L536.3,133.8 L540.7,134.1 L545.1,134.3 L549.5,134.4 L553.9,134.6 L558.3,134.9 L562.7,135.4 L567.1,136.1 L571.6,136.9 L576,137.9 L580.4,138.8 L584.8,139.7 L589.2,140.5 L593.6,141.3 L598,142 L602.4,142.8 L606.8,143.4 L611.2,144.1 L615.6,144.7 L620,145.3 L624.5,145.9 L628.9,146.4 L633.3,146.9 L637.7,147.4 L642.1,147.8 L646.5,148.3 L646.5,152.7 L642.1,152.2 L637.7,151.8 L633.3,151.3 L628.9,150.8 L624.5,150.3 L620,149.7 L615.6,149.1 L611.2,148.5 L606.8,147.8 L602.4,147.2 L598,146.4 L593.6,145.7 L589.2,144.9 L584.8,144.1 L580.4,143.2 L576,142.3 L571.6,141.3 L567.1,140.5 L562.7,139.8 L558.3,139.3 L553.9,139 L549.5,138.8 L545.1,138.7 L540.7,138.5 L536.3,138.2 L531.9,137.7 L527.5,136.8 L523.1,135.6 L518.7,134 L514.2,132.2 L509.8,130.3 L505.4,128.1 L501,125.7 L496.6,122.9 L492.2,119.9 L487.8,116.7Z" fill="#F061CF" fill-opacity="0.5"/>
<path d="M487.8,123.7 L492.2,127 L496.6,130.2 L501,133.3 L505.4,136.2 L509.8,138.8 L514.2,141.4 L518.7,143.9 L523.1,146.1 L527.5,148.1 L531.9,149.7 L536.3,150.9 L540.7,151.8 L545.1,152.5 L549.5,153 L553.9,153.3 L558.3,153.5 L562.7,153.7 L567.1,153.9 L571.6,154.1 L576,154.3 L580.4,154.6 L584.8,154.8 L589.2,155.1 L593.6,155.3 L598,155.5 L602.4,155.7 L606.8,155.9 L611.2,156.1 L615.6,156.2 L620,156.3 L624.5,156.4 L628.9,156.5 L633.3,156.5 L637.7,156.5 L642.1,156.6 L646.5,156.6" fill="none" stroke="#EE746B" stroke-width="0.8" stroke-opacity="1"/>
<path d="M487.8,121 L492.2,124.8 L496.6,128.5 L501,132 L505.4,135.2 L509.8,138 L514.2,140.6 L518.7,143 L523.1,145.1 L527.5,147 L531.9,148.6 L536.3,149.9 L540.7,151 L545.1,151.8 L549.5,152.4 L553.9,152.9 L558.3,153.3 L562.7,153.5 L567.1,153.8 L571.6,154.1 L576,154.4 L580.4,154.7 L584.8,155 L589.2,155.2 L593.6,155.5 L598,155.7 L602.4,155.9 L606.8,156.1 L611.2,156.2 L615.6,156.3 L620,156.4 L624.5,156.5 L628.9,156.5 L633.3,156.5 L637.7,156.6 L642.1,156.6 L646.5,156.6" fill="none" stroke="#B28F0C" stroke-width="0.8" stroke-opacity="1"/>
<path d="M487.8,120.5 L492.2,124.4 L496.6,128.1 L501,131.7 L505.4,135 L509.8,137.9 L514.2,140.6 L518.7,143 L523.1,145.1 L527.5,147 L531.9,148.6 L536.3,149.9 L540.7,151 L545.1,151.8 L549.5,152.3 L553.9,152.7 L558.3,152.9 L562.7,153.2 L567.1,153.4 L571.6,153.7 L576,154.1 L580.4,154.5 L584.8,154.9 L589.2,155.3 L593.6,155.6 L598,155.9 L602.4,156.1 L606.8,156.3 L611.2,156.4 L615.6,156.5 L620,156.6 L624.5,156.6 L628.9,156.7 L633.3,156.7 L637.7,156.6 L642.1,156.6 L646.5,156.6" fill="none" stroke="#51A40B" stroke-width="0.8" stroke-opacity="1"/>
<path d="M487.8,122 L492.2,126.1 L496.6,130.2 L501,134.1 L505.4,137.8 L509.8,141.3 L514.2,144.6 L518.7,147.7 L523.1,150.4 L527.5,152.6 L531.9,154.1 L536.3,155.1 L540.7,155.8 L545.1,156.3 L549.5,156.6 L553.9,156.8 L558.3,156.9 L562.7,157 L567.1,157.1 L571.6,157.2 L576,157.3 L580.4,157.5 L584.8,157.6 L589.2,157.7 L593.6,157.8 L598,157.9 L602.4,157.9 L606.8,158 L611.2,158.1 L615.6,158.2 L620,158.3 L624.5,158.5 L628.9,158.7 L633.3,159 L637.7,159.3 L642.1,159.6 L646.5,159.9" fill="none" stroke="#0BAE8A" stroke-width="0.8" stroke-opacity="1"/>
<path d="M487.8,118 L492.2,121.7 L496.6,125.2 L501,128.5 L505.4,131.4 L509.8,134 L514.2,136.5 L518.7,138.9 L523.1,141.1 L527.5,143 L531.9,144.6 L536.3,145.9 L540.7,147 L545.1,148 L549.5,148.8 L553.9,149.6 L558.3,150.3 L562.7,150.9 L567.1,151.5 L571.6,152 L576,152.5 L580.4,152.9 L584.8,153.2 L589.2,153.6 L593.6,153.8 L598,154 L602.4,154.1 L606.8,154.2 L611.2,154.2 L615.6,154.2 L620,154.2 L624.5,154.1 L628.9,154 L633.3,153.9 L637.7,153.7 L642.1,153.6 L646.5,153.4" fill="none" stroke="#0FA9D6" stroke-width="0.8" stroke-opacity="1"/>
<path d="M487.8,116.5 L492.2,119.9 L496.6,123.1 L501,126.1 L505.4,128.7 L509.8,131.1 L514.2,133.3 L518.7,135.4 L523.1,137.3 L527.5,139 L531.9,140.4 L536.3,141.7 L540.7,142.7 L545.1,143.6 L549.5,144.4 L553.9,145.1 L558.3,145.7 L562.7,146.4 L567.1,147 L571.6,147.7 L576,148.4 L580.4,149.1 L584.8,149.7 L589.2,150.4 L593.6,151 L598,151.5 L602.4,152 L606.8,152.4 L611.2,152.7 L615.6,152.9 L620,152.9 L624.5,152.8 L628.9,152.6 L633.3,152.3 L637.7,151.9 L642.1,151.5 L646.5,151" fill="none" stroke="#A086F6" stroke-width="0.8" stroke-opacity="1"/>
<path d="M487.8,114.5 L492.2,117.7 L496.6,120.7 L501,123.5 L505.4,125.9 L509.8,128.1 L514.2,130 L518.7,131.8 L523.1,133.4 L527.5,134.6 L531.9,135.5 L536.3,136 L540.7,136.3 L545.1,136.5 L549.5,136.6 L553.9,136.8 L558.3,137.1 L562.7,137.6 L567.1,138.3 L571.6,139.1 L576,140.1 L580.4,141 L584.8,141.9 L589.2,142.7 L593.6,143.5 L598,144.2 L602.4,145 L606.8,145.6 L611.2,146.3 L615.6,146.9 L620,147.5 L624.5,148.1 L628.9,148.6 L633.3,149.1 L637.7,149.6 L642.1,150 L646.5,150.5" fill="none" stroke="#F061CF" stroke-width="0.8" stroke-opacity="1"/>
<line x1="620" y1="123.8" x2="620" y2="125.4" stroke="#0FA9D6" stroke-width="0.9" stroke-opacity="0.65"/>
<line x1="501" y1="143" x2="501" y2="145" stroke="#EE746B" stroke-width="0.9" stroke-opacity="0.65"/>
<line x1="501" y1="145.5" x2="501" y2="147.5" stroke="#0BAE8A" stroke-width="0.9" stroke-opacity="0.65"/>
<line x1="514.2" y1="150.5" x2="514.2" y2="152" stroke="#0BAE8A" stroke-width="0.9" stroke-opacity="0.65"/>
<line x1="553.9" y1="150" x2="553.9" y2="152" stroke="#B28F0C" stroke-width="0.9" stroke-opacity="0.65"/>
<line x1="580.4" y1="137" x2="580.4" y2="139" stroke="#F061CF" stroke-width="0.9" stroke-opacity="0.65"/>
</g>
<path d="M479.4,109.2 L479.4,166.1 L653.8,166.1" fill="none" stroke="#666" stroke-width="1.15"/>
<line x1="477.59999999999997" y1="123.4" x2="479.4" y2="123.4" stroke="#777" stroke-width="0.8"/>
<text x="472.4" y="126.1" text-anchor="end" class="tk">90</text>
<line x1="477.59999999999997" y1="140" x2="479.4" y2="140" stroke="#777" stroke-width="0.8"/>
<text x="472.4" y="142.7" text-anchor="end" class="tk">60</text>
<line x1="477.59999999999997" y1="156.4" x2="479.4" y2="156.4" stroke="#777" stroke-width="0.8"/>
<text x="472.4" y="159.1" text-anchor="end" class="tk">30</text>
<line x1="487.8" y1="166.1" x2="487.8" y2="167.9" stroke="#777" stroke-width="0.8"/>
<text x="487.8" y="178.7" text-anchor="middle" class="tk">1</text>
<line x1="501" y1="166.1" x2="501" y2="167.9" stroke="#777" stroke-width="0.8"/>
<text x="501" y="178.7" text-anchor="middle" class="tk">2</text>
<line x1="514.2" y1="166.1" x2="514.2" y2="167.9" stroke="#777" stroke-width="0.8"/>
<text x="514.2" y="178.7" text-anchor="middle" class="tk">3</text>
<line x1="527.5" y1="166.1" x2="527.5" y2="167.9" stroke="#777" stroke-width="0.8"/>
<text x="527.5" y="178.7" text-anchor="middle" class="tk">4</text>
<line x1="540.7" y1="166.1" x2="540.7" y2="167.9" stroke="#777" stroke-width="0.8"/>
<text x="540.7" y="178.7" text-anchor="middle" class="tk">5</text>
<line x1="553.9" y1="166.1" x2="553.9" y2="167.9" stroke="#777" stroke-width="0.8"/>
<text x="553.9" y="178.7" text-anchor="middle" class="tk">6</text>
<line x1="567.1" y1="166.1" x2="567.1" y2="167.9" stroke="#777" stroke-width="0.8"/>
<text x="567.1" y="178.7" text-anchor="middle" class="tk">7</text>
<line x1="580.4" y1="166.1" x2="580.4" y2="167.9" stroke="#777" stroke-width="0.8"/>
<text x="580.4" y="178.7" text-anchor="middle" class="tk">8</text>
<line x1="593.6" y1="166.1" x2="593.6" y2="167.9" stroke="#777" stroke-width="0.8"/>
<text x="593.6" y="178.7" text-anchor="middle" class="tk">9</text>
<line x1="606.8" y1="166.1" x2="606.8" y2="167.9" stroke="#777" stroke-width="0.8"/>
<text x="606.8" y="178.7" text-anchor="middle" class="tk">10</text>
<line x1="620" y1="166.1" x2="620" y2="167.9" stroke="#777" stroke-width="0.8"/>
<text x="620" y="178.7" text-anchor="middle" class="tk">11</text>
<line x1="633.3" y1="166.1" x2="633.3" y2="167.9" stroke="#777" stroke-width="0.8"/>
<text x="633.3" y="178.7" text-anchor="middle" class="tk">12</text>
<line x1="646.5" y1="166.1" x2="646.5" y2="167.9" stroke="#777" stroke-width="0.8"/>
<text x="646.5" y="178.7" text-anchor="middle" class="tk">13</text>
<text x="570.3" y="189.2" text-anchor="middle" class="lb">week</text>
<text x="447.6" y="99.7" class="tg">(F)</text>
<text transform="translate(453.5,141) rotate(-90)" text-anchor="middle" class="lb" style="font-size:7.3px">TP (mg/L)</text>
<clipPath id="cG"><rect x="28.5" y="203.5" width="180.0" height="63.60000000000002"/></clipPath>
<g clip-path="url(#cG)">
<path d="M36.5,221.2 L40.9,222.5 L45.4,223.7 L49.8,225 L54.3,226.3 L58.7,227.5 L63.2,228.8 L67.6,230.1 L72.1,231.3 L76.5,232.5 L81,233.8 L85.4,234.9 L89.9,236.1 L94.3,237.2 L98.8,238.4 L103.2,239.5 L107.7,240.8 L112.1,242.2 L116.5,243.7 L121,245.4 L125.4,247.2 L129.9,249.1 L134.3,251 L138.8,252.7 L143.2,254.2 L147.7,255.5 L152.1,256.5 L156.6,257.3 L161,258 L165.5,258.5 L169.9,259 L174.4,259.4 L178.8,259.8 L183.3,260.1 L187.7,260.4 L192.2,260.7 L196.6,261 L196.6,263.6 L192.2,263.3 L187.7,263 L183.3,262.7 L178.8,262.4 L174.4,262 L169.9,261.6 L165.5,261.1 L161,260.6 L156.6,259.9 L152.1,259.1 L147.7,258.1 L143.2,256.8 L138.8,255.3 L134.3,253.6 L129.9,251.7 L125.4,249.8 L121,248 L116.5,246.3 L112.1,244.8 L107.7,243.4 L103.2,242.1 L98.8,241 L94.3,239.8 L89.9,238.7 L85.4,237.5 L81,236.4 L76.5,235.1 L72.1,233.9 L67.6,232.7 L63.2,231.4 L58.7,230.1 L54.3,228.9 L49.8,227.6 L45.4,226.3 L40.9,225.1 L36.5,223.8Z" fill="#EE746B" fill-opacity="0.5"/>
<path d="M36.5,222 L40.9,222.5 L45.4,223 L49.8,223.6 L54.3,224.2 L58.7,225 L63.2,225.9 L67.6,227 L72.1,228.2 L76.5,229.5 L81,230.8 L85.4,232.3 L89.9,233.7 L94.3,235.1 L98.8,236.6 L103.2,238.1 L107.7,239.7 L112.1,241.4 L116.5,243.2 L121,245.2 L125.4,247.2 L129.9,249.3 L134.3,251.2 L138.8,253 L143.2,254.6 L147.7,255.9 L152.1,256.8 L156.6,257.6 L161,258.2 L165.5,258.6 L169.9,259 L174.4,259.3 L178.8,259.6 L183.3,259.9 L187.7,260.1 L192.2,260.4 L196.6,260.6 L196.6,264.6 L192.2,264.4 L187.7,264.1 L183.3,263.9 L178.8,263.6 L174.4,263.3 L169.9,263 L165.5,262.6 L161,262.2 L156.6,261.6 L152.1,260.8 L147.7,259.9 L143.2,258.6 L138.8,257 L134.3,255.2 L129.9,253.3 L125.4,251.2 L121,249.2 L116.5,247.2 L112.1,245.4 L107.7,243.7 L103.2,242.1 L98.8,240.6 L94.3,239.1 L89.9,237.7 L85.4,236.3 L81,234.8 L76.5,233.5 L72.1,232.2 L67.6,231 L63.2,229.9 L58.7,229 L54.3,228.2 L49.8,227.6 L45.4,227 L40.9,226.5 L36.5,226Z" fill="#B28F0C" fill-opacity="0.5"/>
<path d="M36.5,220.9 L40.9,221.9 L45.4,223 L49.8,224 L54.3,225.1 L58.7,226.2 L63.2,227.3 L67.6,228.4 L72.1,229.6 L76.5,230.8 L81,232 L85.4,233.2 L89.9,234.5 L94.3,235.8 L98.8,237.1 L103.2,238.5 L107.7,239.9 L112.1,241.3 L116.5,242.8 L121,244.3 L125.4,245.8 L129.9,247.3 L134.3,248.7 L138.8,250.1 L143.2,251.4 L147.7,252.6 L152.1,253.6 L156.6,254.5 L161,255.3 L165.5,256 L169.9,256.6 L174.4,257.1 L178.8,257.5 L183.3,257.9 L187.7,258.2 L192.2,258.4 L196.6,258.7 L196.6,261.1 L192.2,260.8 L187.7,260.6 L183.3,260.3 L178.8,259.9 L174.4,259.5 L169.9,259 L165.5,258.4 L161,257.7 L156.6,256.9 L152.1,256 L147.7,255 L143.2,253.8 L138.8,252.5 L134.3,251.1 L129.9,249.7 L125.4,248.2 L121,246.7 L116.5,245.2 L112.1,243.7 L107.7,242.3 L103.2,240.9 L98.8,239.5 L94.3,238.2 L89.9,236.9 L85.4,235.6 L81,234.4 L76.5,233.2 L72.1,232 L67.6,230.8 L63.2,229.7 L58.7,228.6 L54.3,227.5 L49.8,226.4 L45.4,225.4 L40.9,224.3 L36.5,223.3Z" fill="#0BAE8A" fill-opacity="0.5"/>
<path d="M36.5,219.6 L40.9,219.5 L45.4,219.4 L49.8,219.3 L54.3,219.2 L58.7,219.2 L63.2,219.3 L67.6,219.4 L72.1,219.6 L76.5,219.9 L81,220.2 L85.4,220.5 L89.9,220.9 L94.3,221.3 L98.8,221.8 L103.2,222.3 L107.7,222.9 L112.1,223.6 L116.5,224.4 L121,225.4 L125.4,226.4 L129.9,227.5 L134.3,228.6 L138.8,229.6 L143.2,230.5 L147.7,231.2 L152.1,231.8 L156.6,232.2 L161,232.4 L165.5,232.5 L169.9,232.5 L174.4,232.3 L178.8,232 L183.3,231.7 L187.7,231.2 L192.2,230.7 L196.6,230.2 L196.6,232.6 L192.2,233.1 L187.7,233.6 L183.3,234.1 L178.8,234.4 L174.4,234.7 L169.9,234.9 L165.5,234.9 L161,234.8 L156.6,234.6 L152.1,234.2 L147.7,233.6 L143.2,232.9 L138.8,232 L134.3,231 L129.9,229.9 L125.4,228.8 L121,227.8 L116.5,226.8 L112.1,226 L107.7,225.3 L103.2,224.7 L98.8,224.2 L94.3,223.7 L89.9,223.3 L85.4,222.9 L81,222.6 L76.5,222.3 L72.1,222 L67.6,221.8 L63.2,221.7 L58.7,221.6 L54.3,221.6 L49.8,221.7 L45.4,221.8 L40.9,221.9 L36.5,222Z" fill="#51A40B" fill-opacity="0.5"/>
<path d="M36.5,219.9 L40.9,220 L45.4,220.2 L49.8,220.3 L54.3,220.4 L58.7,220.6 L63.2,220.7 L67.6,220.9 L72.1,221 L76.5,221.2 L81,221.4 L85.4,221.7 L89.9,222 L94.3,222.4 L98.8,222.8 L103.2,223.3 L107.7,224 L112.1,224.8 L116.5,225.8 L121,227 L125.4,228.3 L129.9,229.7 L134.3,231.2 L138.8,232.8 L143.2,234.3 L147.7,235.8 L152.1,237.3 L156.6,238.7 L161,240 L165.5,241.2 L169.9,242.4 L174.4,243.5 L178.8,244.5 L183.3,245.4 L187.7,246.3 L192.2,247.2 L196.6,248 L196.6,250.8 L192.2,250 L187.7,249.1 L183.3,248.2 L178.8,247.3 L174.4,246.3 L169.9,245.2 L165.5,244 L161,242.8 L156.6,241.5 L152.1,240.1 L147.7,238.6 L143.2,237.1 L138.8,235.6 L134.3,234 L129.9,232.5 L125.4,231.1 L121,229.8 L116.5,228.6 L112.1,227.6 L107.7,226.8 L103.2,226.1 L98.8,225.6 L94.3,225.2 L89.9,224.8 L85.4,224.5 L81,224.2 L76.5,224 L72.1,223.8 L67.6,223.7 L63.2,223.5 L58.7,223.4 L54.3,223.2 L49.8,223.1 L45.4,223 L40.9,222.8 L36.5,222.7Z" fill="#0FA9D6" fill-opacity="0.5"/>
<path d="M36.5,220.9 L40.9,220.6 L45.4,220.3 L49.8,219.9 L54.3,219.5 L58.7,219.1 L63.2,218.7 L67.6,218.2 L72.1,217.7 L76.5,217.2 L81,216.6 L85.4,216.1 L89.9,215.5 L94.3,214.9 L98.8,214.4 L103.2,214 L107.7,213.7 L112.1,213.6 L116.5,213.8 L121,214.3 L125.4,215 L129.9,215.8 L134.3,216.6 L138.8,217.4 L143.2,218 L147.7,218.4 L152.1,218.5 L156.6,218.4 L161,218.2 L165.5,217.8 L169.9,217.2 L174.4,216.5 L178.8,215.7 L183.3,214.8 L187.7,213.8 L192.2,212.8 L196.6,211.7 L196.6,215.7 L192.2,216.4 L187.7,217.2 L183.3,217.9 L178.8,218.6 L174.4,219.2 L169.9,219.8 L165.5,220.3 L161,220.7 L156.6,220.9 L152.1,220.9 L147.7,220.8 L143.2,220.4 L138.8,219.8 L134.3,219 L129.9,218.2 L125.4,217.4 L121,216.7 L116.5,216.2 L112.1,216 L107.7,216 L103.2,216.2 L98.8,216.5 L94.3,217 L89.9,217.5 L85.4,218.1 L81,218.6 L76.5,219.2 L72.1,219.7 L67.6,220.2 L63.2,220.7 L58.7,221.2 L54.3,221.6 L49.8,222 L45.4,222.5 L40.9,222.9 L36.5,223.3Z" fill="#A086F6" fill-opacity="0.5"/>
<path d="M36.5,223.5 L40.9,223.5 L45.4,223.4 L49.8,223.4 L54.3,223.3 L58.7,223.2 L63.2,223 L67.6,222.8 L72.1,222.5 L76.5,222.2 L81,221.9 L85.4,221.5 L89.9,221.1 L94.3,220.7 L98.8,220.2 L103.2,219.8 L107.7,219.5 L112.1,219.3 L116.5,219.3 L121,219.5 L125.4,219.8 L129.9,220.2 L134.3,220.6 L138.8,221 L143.2,221.4 L147.7,221.6 L152.1,221.8 L156.6,221.7 L161,221.6 L165.5,221.3 L169.9,220.8 L174.4,220.2 L178.8,219.4 L183.3,218.5 L187.7,217.6 L192.2,216.5 L196.6,215.5 L196.6,217.5 L192.2,218.5 L187.7,219.6 L183.3,220.5 L178.8,221.4 L174.4,222.2 L169.9,222.8 L165.5,223.3 L161,223.6 L156.6,223.7 L152.1,223.8 L147.7,223.6 L143.2,223.4 L138.8,223 L134.3,222.6 L129.9,222.2 L125.4,221.8 L121,221.5 L116.5,221.3 L112.1,221.3 L107.7,221.5 L103.2,221.8 L98.8,222.2 L94.3,222.7 L89.9,223.1 L85.4,223.5 L81,223.9 L76.5,224.2 L72.1,224.5 L67.6,224.8 L63.2,225 L58.7,225.2 L54.3,225.3 L49.8,225.4 L45.4,225.4 L40.9,225.5 L36.5,225.5Z" fill="#F061CF" fill-opacity="0.5"/>
<path d="M36.5,222.5 L40.9,223.8 L45.4,225 L49.8,226.3 L54.3,227.6 L58.7,228.8 L63.2,230.1 L67.6,231.4 L72.1,232.6 L76.5,233.8 L81,235.1 L85.4,236.2 L89.9,237.4 L94.3,238.5 L98.8,239.7 L103.2,240.8 L107.7,242.1 L112.1,243.5 L116.5,245 L121,246.7 L125.4,248.5 L129.9,250.4 L134.3,252.3 L138.8,254 L143.2,255.5 L147.7,256.8 L152.1,257.8 L156.6,258.6 L161,259.3 L165.5,259.8 L169.9,260.3 L174.4,260.7 L178.8,261.1 L183.3,261.4 L187.7,261.7 L192.2,262 L196.6,262.3" fill="none" stroke="#EE746B" stroke-width="0.8" stroke-opacity="1"/>
<path d="M36.5,224 L40.9,224.5 L45.4,225 L49.8,225.6 L54.3,226.2 L58.7,227 L63.2,227.9 L67.6,229 L72.1,230.2 L76.5,231.5 L81,232.8 L85.4,234.3 L89.9,235.7 L94.3,237.1 L98.8,238.6 L103.2,240.1 L107.7,241.7 L112.1,243.4 L116.5,245.2 L121,247.2 L125.4,249.2 L129.9,251.3 L134.3,253.2 L138.8,255 L143.2,256.6 L147.7,257.9 L152.1,258.8 L156.6,259.6 L161,260.2 L165.5,260.6 L169.9,261 L174.4,261.3 L178.8,261.6 L183.3,261.9 L187.7,262.1 L192.2,262.4 L196.6,262.6" fill="none" stroke="#B28F0C" stroke-width="0.8" stroke-opacity="1"/>
<path d="M36.5,222.1 L40.9,223.1 L45.4,224.2 L49.8,225.2 L54.3,226.3 L58.7,227.4 L63.2,228.5 L67.6,229.6 L72.1,230.8 L76.5,232 L81,233.2 L85.4,234.4 L89.9,235.7 L94.3,237 L98.8,238.3 L103.2,239.7 L107.7,241.1 L112.1,242.5 L116.5,244 L121,245.5 L125.4,247 L129.9,248.5 L134.3,249.9 L138.8,251.3 L143.2,252.6 L147.7,253.8 L152.1,254.8 L156.6,255.7 L161,256.5 L165.5,257.2 L169.9,257.8 L174.4,258.3 L178.8,258.7 L183.3,259.1 L187.7,259.4 L192.2,259.6 L196.6,259.9" fill="none" stroke="#0BAE8A" stroke-width="0.8" stroke-opacity="1"/>
<path d="M36.5,220.8 L40.9,220.7 L45.4,220.6 L49.8,220.5 L54.3,220.4 L58.7,220.4 L63.2,220.5 L67.6,220.6 L72.1,220.8 L76.5,221.1 L81,221.4 L85.4,221.7 L89.9,222.1 L94.3,222.5 L98.8,223 L103.2,223.5 L107.7,224.1 L112.1,224.8 L116.5,225.6 L121,226.6 L125.4,227.6 L129.9,228.7 L134.3,229.8 L138.8,230.8 L143.2,231.7 L147.7,232.4 L152.1,233 L156.6,233.4 L161,233.6 L165.5,233.7 L169.9,233.7 L174.4,233.5 L178.8,233.2 L183.3,232.9 L187.7,232.4 L192.2,231.9 L196.6,231.4" fill="none" stroke="#51A40B" stroke-width="0.8" stroke-opacity="1"/>
<path d="M36.5,221.3 L40.9,221.4 L45.4,221.6 L49.8,221.7 L54.3,221.8 L58.7,222 L63.2,222.1 L67.6,222.3 L72.1,222.4 L76.5,222.6 L81,222.8 L85.4,223.1 L89.9,223.4 L94.3,223.8 L98.8,224.2 L103.2,224.7 L107.7,225.4 L112.1,226.2 L116.5,227.2 L121,228.4 L125.4,229.7 L129.9,231.1 L134.3,232.6 L138.8,234.2 L143.2,235.7 L147.7,237.2 L152.1,238.7 L156.6,240.1 L161,241.4 L165.5,242.6 L169.9,243.8 L174.4,244.9 L178.8,245.9 L183.3,246.8 L187.7,247.7 L192.2,248.6 L196.6,249.4" fill="none" stroke="#0FA9D6" stroke-width="0.8" stroke-opacity="1"/>
<path d="M36.5,222.1 L40.9,221.7 L45.4,221.4 L49.8,221 L54.3,220.6 L58.7,220.2 L63.2,219.7 L67.6,219.2 L72.1,218.7 L76.5,218.2 L81,217.6 L85.4,217.1 L89.9,216.5 L94.3,216 L98.8,215.5 L103.2,215.1 L107.7,214.8 L112.1,214.8 L116.5,215 L121,215.5 L125.4,216.2 L129.9,217 L134.3,217.8 L138.8,218.6 L143.2,219.2 L147.7,219.6 L152.1,219.7 L156.6,219.7 L161,219.4 L165.5,219 L169.9,218.5 L174.4,217.9 L178.8,217.1 L183.3,216.3 L187.7,215.5 L192.2,214.6 L196.6,213.7" fill="none" stroke="#A086F6" stroke-width="0.8" stroke-opacity="1"/>
<path d="M36.5,224.5 L40.9,224.5 L45.4,224.4 L49.8,224.4 L54.3,224.3 L58.7,224.2 L63.2,224 L67.6,223.8 L72.1,223.5 L76.5,223.2 L81,222.9 L85.4,222.5 L89.9,222.1 L94.3,221.7 L98.8,221.2 L103.2,220.8 L107.7,220.5 L112.1,220.3 L116.5,220.3 L121,220.5 L125.4,220.8 L129.9,221.2 L134.3,221.6 L138.8,222 L143.2,222.4 L147.7,222.6 L152.1,222.8 L156.6,222.7 L161,222.6 L165.5,222.3 L169.9,221.8 L174.4,221.2 L178.8,220.4 L183.3,219.5 L187.7,218.6 L192.2,217.5 L196.6,216.5" fill="none" stroke="#F061CF" stroke-width="0.8" stroke-opacity="1"/>
<line x1="49.8" y1="218.5" x2="49.8" y2="222" stroke="#51A40B" stroke-width="0.9" stroke-opacity="0.65"/>
<line x1="63.2" y1="228" x2="63.2" y2="231" stroke="#0BAE8A" stroke-width="0.9" stroke-opacity="0.65"/>
<line x1="116.5" y1="212.5" x2="116.5" y2="215.5" stroke="#A086F6" stroke-width="0.9" stroke-opacity="0.65"/>
<line x1="143.2" y1="262" x2="143.2" y2="264" stroke="#B28F0C" stroke-width="0.9" stroke-opacity="0.65"/>
</g>
<path d="M28.5,209.5 L28.5,267.1 L204.5,267.1" fill="none" stroke="#666" stroke-width="1.15"/>
<line x1="26.7" y1="213.1" x2="28.5" y2="213.1" stroke="#777" stroke-width="0.8"/>
<text x="22.3" y="215.8" text-anchor="end" class="tk">6</text>
<line x1="26.7" y1="224.5" x2="28.5" y2="224.5" stroke="#777" stroke-width="0.8"/>
<text x="22.3" y="227.2" text-anchor="end" class="tk">5</text>
<line x1="26.7" y1="236" x2="28.5" y2="236" stroke="#777" stroke-width="0.8"/>
<text x="22.3" y="238.7" text-anchor="end" class="tk">4</text>
<line x1="26.7" y1="247.5" x2="28.5" y2="247.5" stroke="#777" stroke-width="0.8"/>
<text x="22.3" y="250.2" text-anchor="end" class="tk">3</text>
<line x1="26.7" y1="259" x2="28.5" y2="259" stroke="#777" stroke-width="0.8"/>
<text x="22.3" y="261.6" text-anchor="end" class="tk">2</text>
<line x1="36.5" y1="267.1" x2="36.5" y2="268.90000000000003" stroke="#777" stroke-width="0.8"/>
<text x="36.5" y="279.8" text-anchor="middle" class="tk">1</text>
<line x1="49.8" y1="267.1" x2="49.8" y2="268.90000000000003" stroke="#777" stroke-width="0.8"/>
<text x="49.8" y="279.8" text-anchor="middle" class="tk">2</text>
<line x1="63.2" y1="267.1" x2="63.2" y2="268.90000000000003" stroke="#777" stroke-width="0.8"/>
<text x="63.2" y="279.8" text-anchor="middle" class="tk">3</text>
<line x1="76.5" y1="267.1" x2="76.5" y2="268.90000000000003" stroke="#777" stroke-width="0.8"/>
<text x="76.5" y="279.8" text-anchor="middle" class="tk">4</text>
<line x1="89.9" y1="267.1" x2="89.9" y2="268.90000000000003" stroke="#777" stroke-width="0.8"/>
<text x="89.9" y="279.8" text-anchor="middle" class="tk">5</text>
<line x1="103.2" y1="267.1" x2="103.2" y2="268.90000000000003" stroke="#777" stroke-width="0.8"/>
<text x="103.2" y="279.8" text-anchor="middle" class="tk">6</text>
<line x1="116.5" y1="267.1" x2="116.5" y2="268.90000000000003" stroke="#777" stroke-width="0.8"/>
<text x="116.5" y="279.8" text-anchor="middle" class="tk">7</text>
<line x1="129.9" y1="267.1" x2="129.9" y2="268.90000000000003" stroke="#777" stroke-width="0.8"/>
<text x="129.9" y="279.8" text-anchor="middle" class="tk">8</text>
<line x1="143.2" y1="267.1" x2="143.2" y2="268.90000000000003" stroke="#777" stroke-width="0.8"/>
<text x="143.2" y="279.8" text-anchor="middle" class="tk">9</text>
<line x1="156.6" y1="267.1" x2="156.6" y2="268.90000000000003" stroke="#777" stroke-width="0.8"/>
<text x="156.6" y="279.8" text-anchor="middle" class="tk">10</text>
<line x1="169.9" y1="267.1" x2="169.9" y2="268.90000000000003" stroke="#777" stroke-width="0.8"/>
<text x="169.9" y="279.8" text-anchor="middle" class="tk">11</text>
<line x1="183.3" y1="267.1" x2="183.3" y2="268.90000000000003" stroke="#777" stroke-width="0.8"/>
<text x="183.3" y="279.8" text-anchor="middle" class="tk">12</text>
<line x1="196.6" y1="267.1" x2="196.6" y2="268.90000000000003" stroke="#777" stroke-width="0.8"/>
<text x="196.6" y="279.8" text-anchor="middle" class="tk">13</text>
<text x="118.9" y="287.8" text-anchor="middle" class="lb">week</text>
<text x="1" y="203.6" class="tg">(G)</text>
<text transform="translate(7.8,237) rotate(-90)" text-anchor="middle" class="lb" style="font-size:7.3px">NH<tspan font-size="5" dy="1.6">4</tspan><tspan font-size="5" dx="-2.8" dy="-4.6">+</tspan><tspan dy="3">-N (mg/L)</tspan></text>
<clipPath id="cH"><rect x="253.4" y="203.2" width="178.6" height="63.10000000000002"/></clipPath>
<g clip-path="url(#cH)">
<path d="M261.4,244.2 L265.8,243.4 L270.2,242.4 L274.6,241 L279,239.2 L283.4,237.3 L287.8,235.3 L292.2,233.2 L296.6,231.1 L300.9,228.9 L305.3,226.8 L309.7,224.8 L314.1,222.5 L318.5,219.9 L322.9,217.5 L327.3,215.6 L331.7,214.4 L336.1,213.9 L340.5,213.8 L344.9,213.9 L349.3,214.2 L353.7,214.6 L358.1,215.1 L362.5,215.6 L366.9,216 L371.3,216.3 L375.7,216.4 L380.1,216.4 L384.4,216.3 L388.8,216.1 L393.2,215.8 L397.6,215.4 L402,215 L406.4,214.4 L410.8,213.7 L415.2,213 L419.6,212.3 L419.6,222.7 L415.2,222.8 L410.8,223 L406.4,223.1 L402,223.3 L397.6,223.5 L393.2,223.8 L388.8,224.1 L384.4,224.3 L380.1,224.4 L375.7,224.4 L371.3,224.3 L366.9,224 L362.5,223.6 L358.1,223.1 L353.7,222.6 L349.3,222.2 L344.9,221.9 L340.5,221.8 L336.1,222.1 L331.7,222.9 L327.3,224.4 L322.9,226.4 L318.5,229 L314.1,231.7 L309.7,234.5 L305.3,237.3 L300.9,239.9 L296.6,242.4 L292.2,244.9 L287.8,247.1 L283.4,249.1 L279,250.9 L274.6,252.6 L270.2,254.5 L265.8,256.7 L261.4,259Z" fill="#51A40B" fill-opacity="0.5"/>
<path d="M261.4,245.8 L265.8,244.2 L270.2,242.7 L274.6,241 L279,239.3 L283.4,237.4 L287.8,235.4 L292.2,233.2 L296.6,231 L300.9,228.6 L305.3,226.2 L309.7,223.7 L314.1,221.3 L318.5,219 L322.9,217 L327.3,215.6 L331.7,214.8 L336.1,214.7 L340.5,214.8 L344.9,215.1 L349.3,215.4 L353.7,215.9 L358.1,216.3 L362.5,216.7 L366.9,217 L371.3,217.2 L375.7,217.3 L380.1,217.3 L384.4,217.2 L388.8,217 L393.2,216.8 L397.6,216.5 L402,216.1 L406.4,215.7 L410.8,215.1 L415.2,214.6 L419.6,214 L419.6,224 L415.2,224.1 L410.8,224.2 L406.4,224.3 L402,224.4 L397.6,224.6 L393.2,224.8 L388.8,225 L384.4,225.2 L380.1,225.3 L375.7,225.3 L371.3,225.2 L366.9,225 L362.5,224.7 L358.1,224.3 L353.7,223.9 L349.3,223.4 L344.9,223.1 L340.5,222.8 L336.1,222.7 L331.7,223.1 L327.3,224.1 L322.9,225.7 L318.5,227.9 L314.1,230.3 L309.7,232.7 L305.3,235.2 L300.9,237.6 L296.6,240 L292.2,242.2 L287.8,244.4 L283.4,246.4 L279,248.3 L274.6,250 L270.2,251.7 L265.8,253.2 L261.4,254.8Z" fill="#0BAE8A" fill-opacity="0.5"/>
<path d="M261.4,245.6 L265.8,244 L270.2,242.5 L274.6,240.8 L279,239.1 L283.4,237.2 L287.8,235.2 L292.2,233.1 L296.6,230.8 L300.9,228.4 L305.3,225.9 L309.7,223.5 L314.1,221.1 L318.5,219 L322.9,217.3 L327.3,216.2 L331.7,215.8 L336.1,215.9 L340.5,216.3 L344.9,216.7 L349.3,217.1 L353.7,217.6 L358.1,217.9 L362.5,218.3 L366.9,218.5 L371.3,218.6 L375.7,218.7 L380.1,218.6 L384.4,218.5 L388.8,218.4 L393.2,218.3 L397.6,218.2 L402,218 L406.4,217.8 L410.8,217.5 L415.2,217.3 L419.6,217 L419.6,227 L415.2,226.8 L410.8,226.6 L406.4,226.4 L402,226.3 L397.6,226.3 L393.2,226.3 L388.8,226.4 L384.4,226.5 L380.1,226.6 L375.7,226.7 L371.3,226.6 L366.9,226.5 L362.5,226.3 L358.1,225.9 L353.7,225.6 L349.3,225.1 L344.9,224.7 L340.5,224.3 L336.1,224 L331.7,224.1 L327.3,224.7 L322.9,226 L318.5,227.9 L314.1,230.1 L309.7,232.5 L305.3,234.9 L300.9,237.4 L296.6,239.8 L292.2,242.1 L287.8,244.2 L283.4,246.2 L279,248.1 L274.6,249.8 L270.2,251.5 L265.8,253 L261.4,254.6Z" fill="#EE746B" fill-opacity="0.5"/>
<path d="M261.4,245.3 L265.8,243.7 L270.2,242.2 L274.6,240.5 L279,238.8 L283.4,236.9 L287.8,234.9 L292.2,232.8 L296.6,230.5 L300.9,228.1 L305.3,225.6 L309.7,223.1 L314.1,220.8 L318.5,218.8 L322.9,217.2 L327.3,216.3 L331.7,216.1 L336.1,216.3 L340.5,216.8 L344.9,217.3 L349.3,217.7 L353.7,218.1 L358.1,218.5 L362.5,218.8 L366.9,219 L371.3,219.1 L375.7,219.1 L380.1,219.1 L384.4,219 L388.8,218.9 L393.2,218.8 L397.6,218.7 L402,218.5 L406.4,218.3 L410.8,218 L415.2,217.8 L419.6,217.5 L419.6,227.5 L415.2,227.3 L410.8,227.1 L406.4,226.9 L402,226.8 L397.6,226.8 L393.2,226.8 L388.8,226.9 L384.4,227 L380.1,227.1 L375.7,227.1 L371.3,227.1 L366.9,227 L362.5,226.8 L358.1,226.5 L353.7,226.1 L349.3,225.7 L344.9,225.3 L340.5,224.8 L336.1,224.4 L331.7,224.4 L327.3,224.8 L322.9,225.9 L318.5,227.7 L314.1,229.8 L309.7,232.1 L305.3,234.6 L300.9,237.1 L296.6,239.5 L292.2,241.8 L287.8,243.9 L283.4,245.9 L279,247.8 L274.6,249.5 L270.2,251.2 L265.8,252.7 L261.4,254.3Z" fill="#B28F0C" fill-opacity="0.5"/>
<path d="M261.4,244.8 L265.8,243.2 L270.2,241.7 L274.6,240 L279,238.3 L283.4,236.4 L287.8,234.4 L292.2,232.3 L296.6,230 L300.9,227.6 L305.3,225.1 L309.7,222.7 L314.1,220.3 L318.5,218.2 L322.9,216.4 L327.3,215.3 L331.7,214.9 L336.1,215 L340.5,215.3 L344.9,215.7 L349.3,216.1 L353.7,216.5 L358.1,216.9 L362.5,217.3 L366.9,217.5 L371.3,217.6 L375.7,217.7 L380.1,217.7 L384.4,217.6 L388.8,217.4 L393.2,217.3 L397.6,217.1 L402,216.9 L406.4,216.6 L410.8,216.2 L415.2,215.9 L419.6,215.5 L419.6,225.5 L415.2,225.4 L410.8,225.3 L406.4,225.2 L402,225.2 L397.6,225.2 L393.2,225.3 L388.8,225.4 L384.4,225.6 L380.1,225.7 L375.7,225.7 L371.3,225.6 L366.9,225.5 L362.5,225.3 L358.1,224.9 L353.7,224.5 L349.3,224.1 L344.9,223.7 L340.5,223.3 L336.1,223.1 L331.7,223.2 L327.3,223.8 L322.9,225.1 L318.5,227.1 L314.1,229.3 L309.7,231.7 L305.3,234.1 L300.9,236.6 L296.6,239 L292.2,241.3 L287.8,243.4 L283.4,245.4 L279,247.3 L274.6,249 L270.2,250.7 L265.8,252.2 L261.4,253.8Z" fill="#0FA9D6" fill-opacity="0.5"/>
<path d="M261.4,242.2 L265.8,241.4 L270.2,240.4 L274.6,239 L279,237.2 L283.4,235.3 L287.8,233.3 L292.2,231.2 L296.6,229.1 L300.9,226.9 L305.3,224.7 L309.7,222.5 L314.1,220.5 L318.5,218.7 L322.9,217.2 L327.3,216.5 L331.7,216.7 L336.1,217.6 L340.5,218.4 L344.9,218.9 L349.3,219.4 L353.7,219.8 L358.1,220.1 L362.5,220.4 L366.9,220.5 L371.3,220.5 L375.7,220.4 L380.1,220.3 L384.4,220.2 L388.8,220.1 L393.2,220 L397.6,219.9 L402,219.8 L406.4,219.6 L410.8,219.3 L415.2,219 L419.6,218.7 L419.6,233.3 L415.2,232.2 L410.8,231.2 L406.4,230.2 L402,229.5 L397.6,228.9 L393.2,228.6 L388.8,228.5 L384.4,228.5 L380.1,228.5 L375.7,228.6 L371.3,228.6 L366.9,228.5 L362.5,228.3 L358.1,228 L353.7,227.7 L349.3,227.2 L344.9,226.7 L340.5,226.2 L336.1,226 L331.7,226.3 L327.3,226.9 L322.9,228 L318.5,229.6 L314.1,231.7 L309.7,234.3 L305.3,237.1 L300.9,239.9 L296.6,242.5 L292.2,244.9 L287.8,247.1 L283.4,249.1 L279,250.9 L274.6,252.6 L270.2,254.5 L265.8,256.7 L261.4,259Z" fill="#A086F6" fill-opacity="0.5"/>
<path d="M261.4,240.6 L265.8,239.8 L270.2,238.8 L274.6,237.4 L279,235.6 L283.4,233.7 L287.8,231.7 L292.2,229.6 L296.6,227.5 L300.9,225.3 L305.3,223.1 L309.7,220.9 L314.1,218.9 L318.5,217.1 L322.9,215.9 L327.3,215.2 L331.7,215.4 L336.1,216 L340.5,216.8 L344.9,217.4 L349.3,218 L353.7,218.4 L358.1,218.7 L362.5,218.9 L366.9,219 L371.3,219 L375.7,219 L380.1,218.9 L384.4,218.8 L388.8,218.8 L393.2,218.8 L397.6,218.9 L402,218.9 L406.4,218.9 L410.8,219 L415.2,219 L419.6,219 L419.6,231 L415.2,230.2 L410.8,229.5 L406.4,228.9 L402,228.4 L397.6,228 L393.2,227.8 L388.8,227.8 L384.4,227.8 L380.1,227.9 L375.7,228 L371.3,228 L366.9,228 L362.5,227.9 L358.1,227.7 L353.7,227.4 L349.3,227 L344.9,226.4 L340.5,225.8 L336.1,225.2 L331.7,224.8 L327.3,224.9 L322.9,225.5 L318.5,226.8 L314.1,228.7 L309.7,231.2 L305.3,234.1 L300.9,236.9 L296.6,239.5 L292.2,241.9 L287.8,244.1 L283.4,246.1 L279,247.9 L274.6,249.6 L270.2,251.5 L265.8,253.7 L261.4,256Z" fill="#F061CF" fill-opacity="0.5"/>
<path d="M261.4,251.6 L265.8,250 L270.2,248.4 L274.6,246.8 L279,245.1 L283.4,243.2 L287.8,241.2 L292.2,239 L296.6,236.7 L300.9,234.4 L305.3,232 L309.7,229.6 L314.1,227.1 L318.5,224.5 L322.9,222 L327.3,220 L331.7,218.7 L336.1,218 L340.5,217.8 L344.9,217.9 L349.3,218.2 L353.7,218.6 L358.1,219.1 L362.5,219.6 L366.9,220 L371.3,220.3 L375.7,220.4 L380.1,220.4 L384.4,220.3 L388.8,220.1 L393.2,219.8 L397.6,219.5 L402,219.1 L406.4,218.8 L410.8,218.4 L415.2,217.9 L419.6,217.5" fill="none" stroke="#51A40B" stroke-width="0.8" stroke-opacity="1"/>
<path d="M261.4,250.3 L265.8,248.7 L270.2,247.2 L274.6,245.5 L279,243.8 L283.4,241.9 L287.8,239.9 L292.2,237.7 L296.6,235.5 L300.9,233.1 L305.3,230.7 L309.7,228.2 L314.1,225.8 L318.5,223.4 L322.9,221.3 L327.3,219.8 L331.7,219 L336.1,218.7 L340.5,218.8 L344.9,219.1 L349.3,219.4 L353.7,219.9 L358.1,220.3 L362.5,220.7 L366.9,221 L371.3,221.2 L375.7,221.3 L380.1,221.3 L384.4,221.2 L388.8,221 L393.2,220.8 L397.6,220.6 L402,220.3 L406.4,220 L410.8,219.7 L415.2,219.3 L419.6,219" fill="none" stroke="#0BAE8A" stroke-width="0.8" stroke-opacity="1"/>
<path d="M261.4,250.1 L265.8,248.5 L270.2,247 L274.6,245.3 L279,243.6 L283.4,241.7 L287.8,239.7 L292.2,237.6 L296.6,235.3 L300.9,232.9 L305.3,230.4 L309.7,228 L314.1,225.6 L318.5,223.4 L322.9,221.7 L327.3,220.5 L331.7,219.9 L336.1,220 L340.5,220.3 L344.9,220.7 L349.3,221.1 L353.7,221.6 L358.1,221.9 L362.5,222.3 L366.9,222.5 L371.3,222.6 L375.7,222.7 L380.1,222.6 L384.4,222.5 L388.8,222.4 L393.2,222.3 L397.6,222.2 L402,222.1 L406.4,222.1 L410.8,222.1 L415.2,222 L419.6,222" fill="none" stroke="#EE746B" stroke-width="0.8" stroke-opacity="1"/>
<path d="M261.4,249.8 L265.8,248.2 L270.2,246.7 L274.6,245 L279,243.3 L283.4,241.4 L287.8,239.4 L292.2,237.3 L296.6,235 L300.9,232.6 L305.3,230.1 L309.7,227.6 L314.1,225.3 L318.5,223.2 L322.9,221.6 L327.3,220.6 L331.7,220.2 L336.1,220.4 L340.5,220.8 L344.9,221.3 L349.3,221.7 L353.7,222.1 L358.1,222.5 L362.5,222.8 L366.9,223 L371.3,223.1 L375.7,223.1 L380.1,223.1 L384.4,223 L388.8,222.9 L393.2,222.8 L397.6,222.7 L402,222.7 L406.4,222.6 L410.8,222.6 L415.2,222.5 L419.6,222.5" fill="none" stroke="#B28F0C" stroke-width="0.8" stroke-opacity="1"/>
<path d="M261.4,249.3 L265.8,247.7 L270.2,246.2 L274.6,244.5 L279,242.8 L283.4,240.9 L287.8,238.9 L292.2,236.8 L296.6,234.5 L300.9,232.1 L305.3,229.6 L309.7,227.2 L314.1,224.8 L318.5,222.6 L322.9,220.8 L327.3,219.6 L331.7,219 L336.1,219 L340.5,219.3 L344.9,219.7 L349.3,220.1 L353.7,220.5 L358.1,220.9 L362.5,221.3 L366.9,221.5 L371.3,221.6 L375.7,221.7 L380.1,221.7 L384.4,221.6 L388.8,221.4 L393.2,221.3 L397.6,221.2 L402,221 L406.4,220.9 L410.8,220.8 L415.2,220.6 L419.6,220.5" fill="none" stroke="#0FA9D6" stroke-width="0.8" stroke-opacity="1"/>
<path d="M261.4,250.6 L265.8,249 L270.2,247.5 L274.6,245.8 L279,244.1 L283.4,242.2 L287.8,240.2 L292.2,238.1 L296.6,235.8 L300.9,233.4 L305.3,230.9 L309.7,228.4 L314.1,226.1 L318.5,224.1 L322.9,222.6 L327.3,221.7 L331.7,221.5 L336.1,221.8 L340.5,222.3 L344.9,222.8 L349.3,223.3 L353.7,223.7 L358.1,224.1 L362.5,224.3 L366.9,224.5 L371.3,224.5 L375.7,224.5 L380.1,224.4 L384.4,224.3 L388.8,224.3 L393.2,224.3 L397.6,224.4 L402,224.6 L406.4,224.9 L410.8,225.2 L415.2,225.6 L419.6,226" fill="none" stroke="#A086F6" stroke-width="0.8" stroke-opacity="1"/>
<path d="M261.4,248.3 L265.8,246.7 L270.2,245.2 L274.6,243.5 L279,241.7 L283.4,239.9 L287.8,237.9 L292.2,235.8 L296.6,233.5 L300.9,231.1 L305.3,228.6 L309.7,226.1 L314.1,223.8 L318.5,222 L322.9,220.7 L327.3,220.1 L331.7,220.1 L336.1,220.6 L340.5,221.3 L344.9,221.9 L349.3,222.5 L353.7,222.9 L358.1,223.2 L362.5,223.4 L366.9,223.5 L371.3,223.5 L375.7,223.5 L380.1,223.4 L384.4,223.3 L388.8,223.3 L393.2,223.3 L397.6,223.4 L402,223.6 L406.4,223.9 L410.8,224.2 L415.2,224.6 L419.6,225" fill="none" stroke="#F061CF" stroke-width="0.8" stroke-opacity="1"/>
<line x1="261.4" y1="231.6" x2="261.4" y2="233.2" stroke="#F061CF" stroke-width="0.9" stroke-opacity="0.65"/>
<line x1="261.4" y1="236.2" x2="261.4" y2="237.8" stroke="#A086F6" stroke-width="0.9" stroke-opacity="0.65"/>
<line x1="261.4" y1="240.7" x2="261.4" y2="242.3" stroke="#0BAE8A" stroke-width="0.9" stroke-opacity="0.65"/>
<line x1="274.6" y1="236.5" x2="274.6" y2="238.1" stroke="#51A40B" stroke-width="0.9" stroke-opacity="0.65"/>
<line x1="274.6" y1="254.4" x2="274.6" y2="256" stroke="#0BAE8A" stroke-width="0.9" stroke-opacity="0.65"/>
<line x1="274.6" y1="259" x2="274.6" y2="260.6" stroke="#F061CF" stroke-width="0.9" stroke-opacity="0.65"/>
<line x1="287.8" y1="226.8" x2="287.8" y2="228.4" stroke="#F061CF" stroke-width="0.9" stroke-opacity="0.65"/>
<line x1="287.8" y1="249.7" x2="287.8" y2="251.3" stroke="#A086F6" stroke-width="0.9" stroke-opacity="0.65"/>
<line x1="287.8" y1="254.2" x2="287.8" y2="255.8" stroke="#EE746B" stroke-width="0.9" stroke-opacity="0.65"/>
<line x1="287.8" y1="258.8" x2="287.8" y2="260.4" stroke="#F061CF" stroke-width="0.9" stroke-opacity="0.65"/>
<line x1="287.8" y1="263.1" x2="287.8" y2="264.5" stroke="#51A40B" stroke-width="0.9" stroke-opacity="0.65"/>
<line x1="300.9" y1="240.7" x2="300.9" y2="242.3" stroke="#B28F0C" stroke-width="0.9" stroke-opacity="0.65"/>
<line x1="300.9" y1="245.2" x2="300.9" y2="246.8" stroke="#0BAE8A" stroke-width="0.9" stroke-opacity="0.65"/>
<line x1="327.3" y1="231.8" x2="327.3" y2="233.3" stroke="#A086F6" stroke-width="0.9" stroke-opacity="0.65"/>
<line x1="380.1" y1="236.6" x2="380.1" y2="238.2" stroke="#F061CF" stroke-width="0.9" stroke-opacity="0.65"/>
<line x1="393.2" y1="240.6" x2="393.2" y2="242.2" stroke="#A086F6" stroke-width="0.9" stroke-opacity="0.65"/>
</g>
<path d="M253.4,209.2 L253.4,266.3 L428.0,266.3" fill="none" stroke="#666" stroke-width="1.15"/>
<line x1="251.6" y1="211" x2="253.4" y2="211" stroke="#777" stroke-width="0.8"/>
<text x="248.4" y="213.7" text-anchor="end" class="tk">1.2</text>
<line x1="251.6" y1="224.3" x2="253.4" y2="224.3" stroke="#777" stroke-width="0.8"/>
<text x="248.4" y="227" text-anchor="end" class="tk">0.9</text>
<line x1="251.6" y1="237.6" x2="253.4" y2="237.6" stroke="#777" stroke-width="0.8"/>
<text x="248.4" y="240.2" text-anchor="end" class="tk">0.6</text>
<line x1="251.6" y1="250.9" x2="253.4" y2="250.9" stroke="#777" stroke-width="0.8"/>
<text x="248.4" y="253.6" text-anchor="end" class="tk">0.3</text>
<line x1="251.6" y1="264.2" x2="253.4" y2="264.2" stroke="#777" stroke-width="0.8"/>
<text x="248.4" y="266.8" text-anchor="end" class="tk">0.0</text>
<line x1="261.4" y1="266.3" x2="261.4" y2="268.1" stroke="#777" stroke-width="0.8"/>
<text x="261.4" y="279.3" text-anchor="middle" class="tk">1</text>
<line x1="274.6" y1="266.3" x2="274.6" y2="268.1" stroke="#777" stroke-width="0.8"/>
<text x="274.6" y="279.3" text-anchor="middle" class="tk">2</text>
<line x1="287.8" y1="266.3" x2="287.8" y2="268.1" stroke="#777" stroke-width="0.8"/>
<text x="287.8" y="279.3" text-anchor="middle" class="tk">3</text>
<line x1="300.9" y1="266.3" x2="300.9" y2="268.1" stroke="#777" stroke-width="0.8"/>
<text x="300.9" y="279.3" text-anchor="middle" class="tk">4</text>
<line x1="314.1" y1="266.3" x2="314.1" y2="268.1" stroke="#777" stroke-width="0.8"/>
<text x="314.1" y="279.3" text-anchor="middle" class="tk">5</text>
<line x1="327.3" y1="266.3" x2="327.3" y2="268.1" stroke="#777" stroke-width="0.8"/>
<text x="327.3" y="279.3" text-anchor="middle" class="tk">6</text>
<line x1="340.5" y1="266.3" x2="340.5" y2="268.1" stroke="#777" stroke-width="0.8"/>
<text x="340.5" y="279.3" text-anchor="middle" class="tk">7</text>
<line x1="353.7" y1="266.3" x2="353.7" y2="268.1" stroke="#777" stroke-width="0.8"/>
<text x="353.7" y="279.3" text-anchor="middle" class="tk">8</text>
<line x1="366.9" y1="266.3" x2="366.9" y2="268.1" stroke="#777" stroke-width="0.8"/>
<text x="366.9" y="279.3" text-anchor="middle" class="tk">9</text>
<line x1="380.1" y1="266.3" x2="380.1" y2="268.1" stroke="#777" stroke-width="0.8"/>
<text x="380.1" y="279.3" text-anchor="middle" class="tk">10</text>
<line x1="393.2" y1="266.3" x2="393.2" y2="268.1" stroke="#777" stroke-width="0.8"/>
<text x="393.2" y="279.3" text-anchor="middle" class="tk">11</text>
<line x1="406.4" y1="266.3" x2="406.4" y2="268.1" stroke="#777" stroke-width="0.8"/>
<text x="406.4" y="279.3" text-anchor="middle" class="tk">12</text>
<line x1="419.6" y1="266.3" x2="419.6" y2="268.1" stroke="#777" stroke-width="0.8"/>
<text x="419.6" y="279.3" text-anchor="middle" class="tk">13</text>
<text x="344.7" y="287.6" text-anchor="middle" class="lb">week</text>
<text x="228.9" y="203.6" class="tg">(H)</text>
<text transform="translate(232.4,240.4) rotate(-90)" text-anchor="middle" class="lb" style="font-size:6.5px">Germination percentage</text>
<clipPath id="cI"><rect x="477.4" y="203.7" width="178.5" height="62.5"/></clipPath>
<g clip-path="url(#cI)">
<path d="M485.2,216 L489.6,218.4 L494,220.8 L498.4,223.3 L502.8,225.7 L507.2,228 L511.6,230.3 L516,232.5 L520.4,234.5 L524.8,236.4 L529.2,238.1 L533.6,239.7 L538,241.2 L542.4,242.5 L546.8,243.8 L551.2,244.9 L555.6,245.6 L560,246.2 L564.4,246.7 L568.8,247.1 L573.2,247.5 L577.6,247.9 L582,248.4 L586.4,249 L590.8,249.8 L595.2,250.6 L599.6,251.6 L604,252.6 L608.4,253.4 L612.8,254.1 L617.2,254.7 L621.6,255.2 L626,255.6 L630.4,255.9 L634.8,256.2 L639.2,256.5 L643.6,256.8 L643.6,261.2 L639.2,260.9 L634.8,260.6 L630.4,260.3 L626,260 L621.6,259.6 L617.2,259.1 L612.8,258.5 L608.4,257.8 L604,257 L599.6,256 L595.2,255 L590.8,254.1 L586.4,253.4 L582,252.8 L577.6,252.3 L573.2,251.9 L568.8,251.5 L564.4,251.1 L560,250.6 L555.6,250 L551.2,249.2 L546.8,248.2 L542.4,246.9 L538,245.6 L533.6,244.1 L529.2,242.5 L524.8,240.8 L520.4,238.9 L516,236.9 L511.6,234.7 L507.2,232.4 L502.8,230.1 L498.4,227.7 L494,225.2 L489.6,222.8 L485.2,220.4Z" fill="#EE746B" fill-opacity="0.5"/>
<path d="M485.2,215.5 L489.6,218 L494,220.5 L498.4,222.9 L502.8,225.3 L507.2,227.6 L511.6,229.9 L516,231.9 L520.4,233.8 L524.8,235.7 L529.2,237.4 L533.6,239.1 L538,240.7 L542.4,242.2 L546.8,243.6 L551.2,244.7 L555.6,245.5 L560,246.1 L564.4,246.6 L568.8,247 L573.2,247.4 L577.6,247.9 L582,248.4 L586.4,249 L590.8,249.7 L595.2,250.6 L599.6,251.6 L604,252.5 L608.4,253.4 L612.8,254.1 L617.2,254.7 L621.6,255.2 L626,255.6 L630.4,255.9 L634.8,256.1 L639.2,256.3 L643.6,256.4 L643.6,260.8 L639.2,260.7 L634.8,260.5 L630.4,260.3 L626,260 L621.6,259.6 L617.2,259.1 L612.8,258.5 L608.4,257.8 L604,256.9 L599.6,256 L595.2,255 L590.8,254.1 L586.4,253.4 L582,252.8 L577.6,252.3 L573.2,251.8 L568.8,251.4 L564.4,251 L560,250.5 L555.6,249.9 L551.2,249.1 L546.8,248 L542.4,246.6 L538,245.1 L533.6,243.5 L529.2,241.8 L524.8,240.1 L520.4,238.2 L516,236.3 L511.6,234.3 L507.2,232 L502.8,229.7 L498.4,227.3 L494,224.9 L489.6,222.4 L485.2,219.9Z" fill="#B28F0C" fill-opacity="0.5"/>
<path d="M485.2,213.7 L489.6,216.4 L494,219.1 L498.4,221.7 L502.8,224.1 L507.2,226.3 L511.6,228.3 L516,230.1 L520.4,231.8 L524.8,233.5 L529.2,235.3 L533.6,237.1 L538,239 L542.4,240.9 L546.8,242.6 L551.2,244 L555.6,244.9 L560,245.5 L564.4,246 L568.8,246.4 L573.2,246.9 L577.6,247.4 L582,248 L586.4,248.7 L590.8,249.4 L595.2,250.3 L599.6,251.2 L604,252.2 L608.4,253 L612.8,253.8 L617.2,254.5 L621.6,254.9 L626,255.3 L630.4,255.4 L634.8,255.5 L639.2,255.4 L643.6,255.3 L643.6,260.3 L639.2,260.4 L634.8,260.5 L630.4,260.4 L626,260.3 L621.6,259.9 L617.2,259.5 L612.8,258.8 L608.4,258 L604,257.2 L599.6,256.2 L595.2,255.3 L590.8,254.4 L586.4,253.7 L582,253 L577.6,252.4 L573.2,251.9 L568.8,251.4 L564.4,251 L560,250.5 L555.6,249.9 L551.2,249 L546.8,247.6 L542.4,245.9 L538,244 L533.6,242.1 L529.2,240.3 L524.8,238.5 L520.4,236.8 L516,235.1 L511.6,233.3 L507.2,231.3 L502.8,229.1 L498.4,226.7 L494,224.1 L489.6,221.4 L485.2,218.7Z" fill="#51A40B" fill-opacity="0.5"/>
<path d="M485.2,212.1 L489.6,215 L494,217.8 L498.4,220.5 L502.8,222.9 L507.2,225.1 L511.6,226.9 L516,228.5 L520.4,229.9 L524.8,231.5 L529.2,233.3 L533.6,235.3 L538,237.5 L542.4,239.7 L546.8,241.7 L551.2,243.3 L555.6,244.3 L560,244.9 L564.4,245.4 L568.8,245.9 L573.2,246.4 L577.6,247 L582,247.6 L586.4,248.3 L590.8,249.1 L595.2,250 L599.6,250.9 L604,251.8 L608.4,252.7 L612.8,253.5 L617.2,254.2 L621.6,254.7 L626,254.9 L630.4,255 L634.8,254.9 L639.2,254.6 L643.6,254.2 L643.6,259.8 L639.2,260.2 L634.8,260.5 L630.4,260.6 L626,260.5 L621.6,260.3 L617.2,259.8 L612.8,259.1 L608.4,258.3 L604,257.4 L599.6,256.5 L595.2,255.6 L590.8,254.7 L586.4,253.9 L582,253.2 L577.6,252.6 L573.2,252 L568.8,251.5 L564.4,251 L560,250.5 L555.6,249.9 L551.2,248.9 L546.8,247.3 L542.4,245.3 L538,243.1 L533.6,240.9 L529.2,238.9 L524.8,237.1 L520.4,235.5 L516,234.1 L511.6,232.5 L507.2,230.7 L502.8,228.5 L498.4,226.1 L494,223.4 L489.6,220.6 L485.2,217.7Z" fill="#0BAE8A" fill-opacity="0.5"/>
<path d="M485.2,214.4 L489.6,217 L494,219.6 L498.4,222.1 L502.8,224.5 L507.2,226.8 L511.6,228.9 L516,230.8 L520.4,232.6 L524.8,234.4 L529.2,236.1 L533.6,237.9 L538,239.6 L542.4,241.3 L546.8,242.9 L551.2,244.2 L555.6,245.1 L560,245.7 L564.4,246.1 L568.8,246.5 L573.2,247 L577.6,247.5 L582,248 L586.4,248.7 L590.8,249.4 L595.2,250.3 L599.6,251.3 L604,252.2 L608.4,253.1 L612.8,253.8 L617.2,254.4 L621.6,254.9 L626,255.3 L630.4,255.5 L634.8,255.6 L639.2,255.7 L643.6,255.7 L643.6,260.7 L639.2,260.7 L634.8,260.6 L630.4,260.5 L626,260.3 L621.6,259.9 L617.2,259.4 L612.8,258.8 L608.4,258.1 L604,257.2 L599.6,256.3 L595.2,255.3 L590.8,254.4 L586.4,253.7 L582,253 L577.6,252.5 L573.2,252 L568.8,251.5 L564.4,251.1 L560,250.7 L555.6,250.1 L551.2,249.2 L546.8,247.9 L542.4,246.3 L538,244.6 L533.6,242.9 L529.2,241.1 L524.8,239.4 L520.4,237.6 L516,235.8 L511.6,233.9 L507.2,231.8 L502.8,229.5 L498.4,227.1 L494,224.6 L489.6,222 L485.2,219.4Z" fill="#0FA9D6" fill-opacity="0.5"/>
<path d="M485.2,217.5 L489.6,219.7 L494,221.9 L498.4,224.2 L502.8,226.6 L507.2,229.1 L511.6,231.5 L516,233.9 L520.4,236.2 L524.8,238.2 L529.2,239.9 L533.6,241.3 L538,242.5 L542.4,243.5 L546.8,244.5 L551.2,245.3 L555.6,246 L560,246.5 L564.4,247 L568.8,247.4 L573.2,247.7 L577.6,248 L582,248.5 L586.4,249 L590.8,249.8 L595.2,250.7 L599.6,251.7 L604,252.6 L608.4,253.4 L612.8,254.1 L617.2,254.7 L621.6,255.2 L626,255.6 L630.4,256.1 L634.8,256.6 L639.2,257.1 L643.6,257.6 L643.6,262 L639.2,261.5 L634.8,261 L630.4,260.5 L626,260 L621.6,259.6 L617.2,259.1 L612.8,258.5 L608.4,257.8 L604,257 L599.6,256.1 L595.2,255.1 L590.8,254.2 L586.4,253.4 L582,252.9 L577.6,252.4 L573.2,252.1 L568.8,251.8 L564.4,251.4 L560,250.9 L555.6,250.4 L551.2,249.7 L546.8,248.9 L542.4,247.9 L538,246.9 L533.6,245.7 L529.2,244.3 L524.8,242.6 L520.4,240.6 L516,238.3 L511.6,235.9 L507.2,233.5 L502.8,231 L498.4,228.6 L494,226.3 L489.6,224.1 L485.2,221.9Z" fill="#A086F6" fill-opacity="0.5"/>
<path d="M485.2,219.3 L489.6,221.2 L494,223.2 L498.4,225.4 L502.8,227.8 L507.2,230.4 L511.6,233.1 L516,235.8 L520.4,238.4 L524.8,240.6 L529.2,242.2 L533.6,243.4 L538,244.2 L542.4,244.8 L546.8,245.3 L551.2,245.8 L555.6,246.4 L560,246.9 L564.4,247.4 L568.8,247.7 L573.2,248 L577.6,248.2 L582,248.6 L586.4,249.1 L590.8,249.8 L595.2,250.7 L599.6,251.8 L604,252.7 L608.4,253.5 L612.8,254.1 L617.2,254.6 L621.6,255.1 L626,255.7 L630.4,256.3 L634.8,256.9 L639.2,257.5 L643.6,258.1 L643.6,263.7 L639.2,262.6 L634.8,261.5 L630.4,260.7 L626,260.1 L621.6,259.5 L617.2,259 L612.8,258.5 L608.4,257.9 L604,257.1 L599.6,256.2 L595.2,255.1 L590.8,254.2 L586.4,253.5 L582,253 L577.6,252.6 L573.2,252.4 L568.8,252.1 L564.4,251.8 L560,251.3 L555.6,250.8 L551.2,250.2 L546.8,249.7 L542.4,249.2 L538,248.6 L533.6,247.8 L529.2,246.6 L524.8,245 L520.4,242.8 L516,240.2 L511.6,237.5 L507.2,234.8 L502.8,232.2 L498.4,229.8 L494,227.6 L489.6,225.6 L485.2,223.7Z" fill="#F061CF" fill-opacity="0.5"/>
<path d="M485.2,218.2 L489.6,220.6 L494,223 L498.4,225.5 L502.8,227.9 L507.2,230.2 L511.6,232.5 L516,234.7 L520.4,236.7 L524.8,238.6 L529.2,240.3 L533.6,241.9 L538,243.4 L542.4,244.7 L546.8,246 L551.2,247.1 L555.6,247.8 L560,248.4 L564.4,248.9 L568.8,249.3 L573.2,249.7 L577.6,250.1 L582,250.6 L586.4,251.2 L590.8,251.9 L595.2,252.8 L599.6,253.8 L604,254.8 L608.4,255.6 L612.8,256.3 L617.2,256.9 L621.6,257.4 L626,257.8 L630.4,258.1 L634.8,258.4 L639.2,258.7 L643.6,259" fill="none" stroke="#EE746B" stroke-width="0.8" stroke-opacity="1"/>
<path d="M485.2,217.7 L489.6,220.2 L494,222.7 L498.4,225.1 L502.8,227.5 L507.2,229.8 L511.6,232.1 L516,234.1 L520.4,236 L524.8,237.9 L529.2,239.6 L533.6,241.3 L538,242.9 L542.4,244.4 L546.8,245.8 L551.2,246.9 L555.6,247.7 L560,248.3 L564.4,248.8 L568.8,249.2 L573.2,249.6 L577.6,250.1 L582,250.6 L586.4,251.2 L590.8,251.9 L595.2,252.8 L599.6,253.8 L604,254.7 L608.4,255.6 L612.8,256.3 L617.2,256.9 L621.6,257.4 L626,257.8 L630.4,258.1 L634.8,258.3 L639.2,258.5 L643.6,258.6" fill="none" stroke="#B28F0C" stroke-width="0.8" stroke-opacity="1"/>
<path d="M485.2,216.2 L489.6,218.9 L494,221.6 L498.4,224.2 L502.8,226.6 L507.2,228.8 L511.6,230.8 L516,232.6 L520.4,234.3 L524.8,236 L529.2,237.8 L533.6,239.6 L538,241.5 L542.4,243.4 L546.8,245.1 L551.2,246.5 L555.6,247.4 L560,248 L564.4,248.5 L568.8,248.9 L573.2,249.4 L577.6,249.9 L582,250.5 L586.4,251.2 L590.8,251.9 L595.2,252.8 L599.6,253.7 L604,254.7 L608.4,255.5 L612.8,256.3 L617.2,257 L621.6,257.4 L626,257.8 L630.4,257.9 L634.8,258 L639.2,257.9 L643.6,257.8" fill="none" stroke="#51A40B" stroke-width="0.8" stroke-opacity="1"/>
<path d="M485.2,214.9 L489.6,217.8 L494,220.6 L498.4,223.3 L502.8,225.7 L507.2,227.9 L511.6,229.7 L516,231.3 L520.4,232.7 L524.8,234.3 L529.2,236.1 L533.6,238.1 L538,240.3 L542.4,242.5 L546.8,244.5 L551.2,246.1 L555.6,247.1 L560,247.7 L564.4,248.2 L568.8,248.7 L573.2,249.2 L577.6,249.8 L582,250.4 L586.4,251.1 L590.8,251.9 L595.2,252.8 L599.6,253.7 L604,254.6 L608.4,255.5 L612.8,256.3 L617.2,257 L621.6,257.5 L626,257.7 L630.4,257.8 L634.8,257.7 L639.2,257.4 L643.6,257" fill="none" stroke="#0BAE8A" stroke-width="0.8" stroke-opacity="1"/>
<path d="M485.2,216.9 L489.6,219.5 L494,222.1 L498.4,224.6 L502.8,227 L507.2,229.3 L511.6,231.4 L516,233.3 L520.4,235.1 L524.8,236.9 L529.2,238.6 L533.6,240.4 L538,242.1 L542.4,243.8 L546.8,245.4 L551.2,246.7 L555.6,247.6 L560,248.2 L564.4,248.6 L568.8,249 L573.2,249.5 L577.6,250 L582,250.5 L586.4,251.2 L590.8,251.9 L595.2,252.8 L599.6,253.8 L604,254.7 L608.4,255.6 L612.8,256.3 L617.2,256.9 L621.6,257.4 L626,257.8 L630.4,258 L634.8,258.1 L639.2,258.2 L643.6,258.2" fill="none" stroke="#0FA9D6" stroke-width="0.8" stroke-opacity="1"/>
<path d="M485.2,219.7 L489.6,221.9 L494,224.1 L498.4,226.4 L502.8,228.8 L507.2,231.3 L511.6,233.7 L516,236.1 L520.4,238.4 L524.8,240.4 L529.2,242.1 L533.6,243.5 L538,244.7 L542.4,245.7 L546.8,246.7 L551.2,247.5 L555.6,248.2 L560,248.7 L564.4,249.2 L568.8,249.6 L573.2,249.9 L577.6,250.2 L582,250.7 L586.4,251.2 L590.8,252 L595.2,252.9 L599.6,253.9 L604,254.8 L608.4,255.6 L612.8,256.3 L617.2,256.9 L621.6,257.4 L626,257.8 L630.4,258.3 L634.8,258.8 L639.2,259.3 L643.6,259.8" fill="none" stroke="#A086F6" stroke-width="0.8" stroke-opacity="1"/>
<path d="M485.2,221.5 L489.6,223.4 L494,225.4 L498.4,227.6 L502.8,230 L507.2,232.6 L511.6,235.3 L516,238 L520.4,240.6 L524.8,242.8 L529.2,244.4 L533.6,245.6 L538,246.4 L542.4,247 L546.8,247.5 L551.2,248 L555.6,248.6 L560,249.1 L564.4,249.6 L568.8,249.9 L573.2,250.2 L577.6,250.4 L582,250.8 L586.4,251.3 L590.8,252 L595.2,252.9 L599.6,254 L604,254.9 L608.4,255.7 L612.8,256.3 L617.2,256.8 L621.6,257.3 L626,257.9 L630.4,258.5 L634.8,259.2 L639.2,260 L643.6,260.9" fill="none" stroke="#F061CF" stroke-width="0.8" stroke-opacity="1"/>
<line x1="498.4" y1="228" x2="498.4" y2="236" stroke="#F061CF" stroke-width="0.9" stroke-opacity="0.65"/>
<line x1="511.6" y1="216.5" x2="511.6" y2="219" stroke="#0BAE8A" stroke-width="0.9" stroke-opacity="0.65"/>
<line x1="511.6" y1="219.5" x2="511.6" y2="222" stroke="#51A40B" stroke-width="0.9" stroke-opacity="0.65"/>
<line x1="511.6" y1="222.5" x2="511.6" y2="224.5" stroke="#B28F0C" stroke-width="0.9" stroke-opacity="0.65"/>
<line x1="524.8" y1="222.8" x2="524.8" y2="224.8" stroke="#0FA9D6" stroke-width="0.9" stroke-opacity="0.65"/>
<line x1="524.8" y1="228.8" x2="524.8" y2="230.5" stroke="#51A40B" stroke-width="0.9" stroke-opacity="0.65"/>
<line x1="538" y1="248" x2="538" y2="250.5" stroke="#F061CF" stroke-width="0.9" stroke-opacity="0.65"/>
<line x1="551.2" y1="250" x2="551.2" y2="253" stroke="#F061CF" stroke-width="0.9" stroke-opacity="0.65"/>
<line x1="604" y1="257" x2="604" y2="259" stroke="#F061CF" stroke-width="0.9" stroke-opacity="0.65"/>
</g>
<path d="M477.4,209.7 L477.4,266.2 L651.9,266.2" fill="none" stroke="#666" stroke-width="1.15"/>
<line x1="475.59999999999997" y1="210.4" x2="477.4" y2="210.4" stroke="#777" stroke-width="0.8"/>
<text x="472.4" y="213.1" text-anchor="end" class="tk">200</text>
<line x1="475.59999999999997" y1="227.1" x2="477.4" y2="227.1" stroke="#777" stroke-width="0.8"/>
<text x="472.4" y="229.8" text-anchor="end" class="tk">150</text>
<line x1="475.59999999999997" y1="243.6" x2="477.4" y2="243.6" stroke="#777" stroke-width="0.8"/>
<text x="472.4" y="246.2" text-anchor="end" class="tk">100</text>
<line x1="475.59999999999997" y1="260" x2="477.4" y2="260" stroke="#777" stroke-width="0.8"/>
<text x="472.4" y="262.6" text-anchor="end" class="tk">50</text>
<line x1="485.2" y1="266.2" x2="485.2" y2="268.0" stroke="#777" stroke-width="0.8"/>
<text x="485.2" y="278.9" text-anchor="middle" class="tk">1</text>
<line x1="498.4" y1="266.2" x2="498.4" y2="268.0" stroke="#777" stroke-width="0.8"/>
<text x="498.4" y="278.9" text-anchor="middle" class="tk">2</text>
<line x1="511.6" y1="266.2" x2="511.6" y2="268.0" stroke="#777" stroke-width="0.8"/>
<text x="511.6" y="278.9" text-anchor="middle" class="tk">3</text>
<line x1="524.8" y1="266.2" x2="524.8" y2="268.0" stroke="#777" stroke-width="0.8"/>
<text x="524.8" y="278.9" text-anchor="middle" class="tk">4</text>
<line x1="538" y1="266.2" x2="538" y2="268.0" stroke="#777" stroke-width="0.8"/>
<text x="538" y="278.9" text-anchor="middle" class="tk">5</text>
<line x1="551.2" y1="266.2" x2="551.2" y2="268.0" stroke="#777" stroke-width="0.8"/>
<text x="551.2" y="278.9" text-anchor="middle" class="tk">6</text>
<line x1="564.4" y1="266.2" x2="564.4" y2="268.0" stroke="#777" stroke-width="0.8"/>
<text x="564.4" y="278.9" text-anchor="middle" class="tk">7</text>
<line x1="577.6" y1="266.2" x2="577.6" y2="268.0" stroke="#777" stroke-width="0.8"/>
<text x="577.6" y="278.9" text-anchor="middle" class="tk">8</text>
<line x1="590.8" y1="266.2" x2="590.8" y2="268.0" stroke="#777" stroke-width="0.8"/>
<text x="590.8" y="278.9" text-anchor="middle" class="tk">9</text>
<line x1="604" y1="266.2" x2="604" y2="268.0" stroke="#777" stroke-width="0.8"/>
<text x="604" y="278.9" text-anchor="middle" class="tk">10</text>
<line x1="617.2" y1="266.2" x2="617.2" y2="268.0" stroke="#777" stroke-width="0.8"/>
<text x="617.2" y="278.9" text-anchor="middle" class="tk">11</text>
<line x1="630.4" y1="266.2" x2="630.4" y2="268.0" stroke="#777" stroke-width="0.8"/>
<text x="630.4" y="278.9" text-anchor="middle" class="tk">12</text>
<line x1="643.6" y1="266.2" x2="643.6" y2="268.0" stroke="#777" stroke-width="0.8"/>
<text x="643.6" y="278.9" text-anchor="middle" class="tk">13</text>
<text x="569.5" y="287.4" text-anchor="middle" class="lb">week</text>
<text x="447.6" y="203.6" class="tg">(I)</text>
<text transform="translate(453.5,234.5) rotate(-90)" text-anchor="middle" class="lb" style="font-size:7.3px">NO<tspan font-size="5" dy="1.6">3</tspan><tspan font-size="5" dx="-2.8" dy="-4.6">-</tspan><tspan dy="3">-N (mg/L)</tspan></text>
<clipPath id="cJ"><rect x="29.0" y="303.5" width="178.9" height="62.80000000000001"/></clipPath>
<g clip-path="url(#cJ)">
<path d="M37.2,347.8 L41.6,345.2 L46,342.5 L50.5,339.6 L54.9,336.7 L59.3,334 L63.7,331.2 L68.2,328.2 L72.6,325.2 L77,322.4 L81.4,319.9 L85.8,317.6 L90.3,315.6 L94.7,313.9 L99.1,312.6 L103.5,312 L108,312.2 L112.4,313 L116.8,314 L121.2,314.9 L125.6,315.6 L130.1,316.2 L134.5,316.7 L138.9,317.1 L143.3,317.5 L147.8,317.8 L152.2,318 L156.6,318.1 L161,318.1 L165.4,317.9 L169.9,317.5 L174.3,316.8 L178.7,316 L183.1,314.9 L187.6,313.7 L192,312.4 L196.4,311 L196.4,321 L192,322.1 L187.6,323.2 L183.1,324.2 L178.7,325.1 L174.3,325.9 L169.9,326.5 L165.4,326.9 L161,327.1 L156.6,327.1 L152.2,327 L147.8,326.8 L143.3,326.5 L138.9,326.1 L134.5,325.7 L130.1,325.2 L125.6,324.6 L121.2,323.9 L116.8,323 L112.4,322 L108,321.2 L103.5,321 L99.1,321.6 L94.7,322.9 L90.3,324.6 L85.8,326.6 L81.4,328.9 L77,331.4 L72.6,334.2 L68.2,337.2 L63.7,340.2 L59.3,343.1 L54.9,346.2 L50.5,349.6 L46,353.7 L41.6,358.5 L37.2,363.8Z" fill="#0BAE8A" fill-opacity="0.5"/>
<path d="M37.2,350 L41.6,348.6 L46,347.1 L50.5,345.5 L54.9,343.7 L59.3,341.5 L63.7,339 L68.2,336.1 L72.6,332.9 L77,329.8 L81.4,327 L85.8,324.5 L90.3,322.5 L94.7,321 L99.1,319.8 L103.5,318.5 L108,317 L112.4,315.5 L116.8,314.5 L121.2,314.4 L125.6,314.8 L130.1,315.7 L134.5,316.8 L138.9,317.9 L143.3,318.9 L147.8,319.5 L152.2,319.8 L156.6,319.9 L161,319.8 L165.4,319.6 L169.9,319.3 L174.3,319.1 L178.7,318.8 L183.1,318.6 L187.6,318.4 L192,318.2 L196.4,318 L196.4,327 L192,327.1 L187.6,327.2 L183.1,327.3 L178.7,327.4 L174.3,327.5 L169.9,327.7 L165.4,327.9 L161,328 L156.6,328 L152.2,327.9 L147.8,327.5 L143.3,326.9 L138.9,325.9 L134.5,324.8 L130.1,323.7 L125.6,322.8 L121.2,322.4 L116.8,322.5 L112.4,323.2 L108,324.2 L103.5,325.5 L99.1,326.8 L94.7,328 L90.3,329.5 L85.8,331.4 L81.4,333.6 L77,336.2 L72.6,339.1 L68.2,342.1 L63.7,345 L59.3,347.5 L54.9,349.7 L50.5,351.5 L46,353.1 L41.6,354.6 L37.2,356Z" fill="#EE746B" fill-opacity="0.5"/>
<path d="M37.2,350 L41.6,348.6 L46,347 L50.5,345.3 L54.9,343.3 L59.3,340.9 L63.7,338 L68.2,334.6 L72.6,331 L77,327.8 L81.4,325.2 L85.8,323.3 L90.3,321.8 L94.7,320.6 L99.1,319.6 L103.5,318.6 L108,317.5 L112.4,316.5 L116.8,316 L121.2,316.1 L125.6,316.7 L130.1,317.5 L134.5,318.4 L138.9,319.3 L143.3,320 L147.8,320.4 L152.2,320.5 L156.6,320.4 L161,320 L165.4,319.5 L169.9,318.8 L174.3,318 L178.7,317.1 L183.1,316.2 L187.6,315.2 L192,314.1 L196.4,313 L196.4,323 L192,323.7 L187.6,324.5 L183.1,325.2 L178.7,325.9 L174.3,326.6 L169.9,327.2 L165.4,327.8 L161,328.2 L156.6,328.5 L152.2,328.6 L147.8,328.4 L143.3,328 L138.9,327.3 L134.5,326.4 L130.1,325.5 L125.6,324.7 L121.2,324.1 L116.8,324 L112.4,324.3 L108,324.8 L103.5,325.6 L99.1,326.6 L94.7,327.6 L90.3,328.8 L85.8,330.2 L81.4,331.9 L77,334.2 L72.6,337.3 L68.2,340.7 L63.7,344 L59.3,346.9 L54.9,349.3 L50.5,351.3 L46,353 L41.6,354.6 L37.2,356Z" fill="#B28F0C" fill-opacity="0.5"/>
<path d="M37.2,350 L41.6,348.1 L46,346.2 L50.5,344.3 L54.9,342.3 L59.3,340.2 L63.7,338 L68.2,335.7 L72.6,333.3 L77,330.9 L81.4,328.8 L85.8,326.9 L90.3,325.5 L94.7,324.6 L99.1,324.1 L103.5,323.9 L108,324 L112.4,324.3 L116.8,324.7 L121.2,325.1 L125.6,325.6 L130.1,325.9 L134.5,326.2 L138.9,326.4 L143.3,326.5 L147.8,326.4 L152.2,326.1 L156.6,325.6 L161,325.1 L165.4,324.3 L169.9,323.5 L174.3,322.5 L178.7,321.4 L183.1,320.2 L187.6,318.8 L192,317.4 L196.4,316 L196.4,326 L192,326.9 L187.6,327.9 L183.1,328.8 L178.7,329.7 L174.3,330.6 L169.9,331.5 L165.4,332.3 L161,333.1 L156.6,333.6 L152.2,334.1 L147.8,334.4 L143.3,334.5 L138.9,334.4 L134.5,334.2 L130.1,333.8 L125.6,333.3 L121.2,332.8 L116.8,332.3 L112.4,331.8 L108,331.4 L103.5,331.2 L99.1,331.3 L94.7,331.7 L90.3,332.5 L85.8,333.8 L81.4,335.4 L77,337.4 L72.6,339.5 L68.2,341.7 L63.7,344 L59.3,346.2 L54.9,348.3 L50.5,350.3 L46,352.2 L41.6,354.1 L37.2,356Z" fill="#0FA9D6" fill-opacity="0.5"/>
<path d="M37.2,350 L41.6,347.8 L46,345.6 L50.5,343.4 L54.9,341.3 L59.3,339.2 L63.7,337.3 L68.2,335.5 L72.6,334 L77,332.7 L81.4,331.6 L85.8,330.7 L90.3,330 L94.7,329.5 L99.1,329.1 L103.5,328.9 L108,328.8 L112.4,329 L116.8,329.2 L121.2,329.6 L125.6,330 L130.1,330.5 L134.5,331 L138.9,331.4 L143.3,331.6 L147.8,331.6 L152.2,331.5 L156.6,331.2 L161,331 L165.4,330.7 L169.9,330.5 L174.3,330.4 L178.7,330.3 L183.1,330.2 L187.6,330.1 L192,329.9 L196.4,329.8 L196.4,342.6 L192,341.3 L187.6,340.1 L183.1,339 L178.7,338 L174.3,337.3 L169.9,336.9 L165.4,336.7 L161,336.6 L156.6,336.7 L152.2,336.7 L147.8,336.7 L143.3,336.6 L138.9,336.4 L134.5,336 L130.1,335.5 L125.6,335 L121.2,334.6 L116.8,334.2 L112.4,334 L108,333.8 L103.5,333.9 L99.1,334.1 L94.7,334.5 L90.3,335 L85.8,335.7 L81.4,336.6 L77,337.7 L72.6,339 L68.2,340.5 L63.7,342.3 L59.3,344.4 L54.9,346.7 L50.5,349.3 L46,352.1 L41.6,355 L37.2,358Z" fill="#51A40B" fill-opacity="0.5"/>
<path d="M37.2,348 L41.6,346.6 L46,345.3 L50.5,343.9 L54.9,342.5 L59.3,341.1 L63.7,339.7 L68.2,338.3 L72.6,337 L77,335.7 L81.4,334.5 L85.8,333.4 L90.3,332.4 L94.7,331.6 L99.1,330.9 L103.5,330.4 L108,330.2 L112.4,330.4 L116.8,330.8 L121.2,331.6 L125.6,332.7 L130.1,334 L134.5,335.4 L138.9,336.8 L143.3,338.1 L147.8,339.2 L152.2,340.2 L156.6,340.9 L161,341.5 L165.4,342 L169.9,342.4 L174.3,342.7 L178.7,343 L183.1,343.2 L187.6,343.3 L192,343.4 L196.4,343.5 L196.4,350.5 L192,350.2 L187.6,350 L183.1,349.7 L178.7,349.3 L174.3,348.9 L169.9,348.4 L165.4,347.8 L161,347.1 L156.6,346.3 L152.2,345.3 L147.8,344.3 L143.3,343.1 L138.9,341.8 L134.5,340.4 L130.1,339 L125.6,337.7 L121.2,336.6 L116.8,335.8 L112.4,335.4 L108,335.2 L103.5,335.4 L99.1,335.9 L94.7,336.6 L90.3,337.4 L85.8,338.4 L81.4,339.5 L77,340.7 L72.6,342 L68.2,343.3 L63.7,344.7 L59.3,346.1 L54.9,347.6 L50.5,349.2 L46,350.8 L41.6,352.4 L37.2,354Z" fill="#F061CF" fill-opacity="0.5"/>
<path d="M37.2,349.6 L41.6,348.1 L46,346.7 L50.5,345.3 L54.9,344 L59.3,342.7 L63.7,341.6 L68.2,340.6 L72.6,339.7 L77,338.9 L81.4,338.2 L85.8,337.5 L90.3,336.8 L94.7,336.1 L99.1,335.4 L103.5,334.9 L108,334.5 L112.4,334.3 L116.8,334.4 L121.2,334.8 L125.6,335.4 L130.1,336.1 L134.5,337 L138.9,337.8 L143.3,338.7 L147.8,339.5 L152.2,340.2 L156.6,340.8 L161,341.3 L165.4,341.8 L169.9,342.2 L174.3,342.5 L178.7,342.7 L183.1,342.9 L187.6,343 L192,343.1 L196.4,343.1 L196.4,354.1 L192,353.4 L187.6,352.7 L183.1,352.1 L178.7,351.4 L174.3,350.8 L169.9,350.2 L165.4,349.6 L161,348.9 L156.6,348.2 L152.2,347.5 L147.8,346.6 L143.3,345.7 L138.9,344.6 L134.5,343.5 L130.1,342.5 L125.6,341.5 L121.2,340.8 L116.8,340.4 L112.4,340.3 L108,340.5 L103.5,340.9 L99.1,341.4 L94.7,342.1 L90.3,342.8 L85.8,343.5 L81.4,344.2 L77,344.9 L72.6,345.7 L68.2,346.6 L63.7,347.6 L59.3,348.7 L54.9,350 L50.5,351.3 L46,352.7 L41.6,354.1 L37.2,355.6Z" fill="#A086F6" fill-opacity="0.5"/>
<path d="M37.2,355.8 L41.6,351.9 L46,348.1 L50.5,344.6 L54.9,341.5 L59.3,338.6 L63.7,335.7 L68.2,332.7 L72.6,329.7 L77,326.9 L81.4,324.4 L85.8,322.1 L90.3,320.1 L94.7,318.4 L99.1,317.1 L103.5,316.5 L108,316.7 L112.4,317.5 L116.8,318.5 L121.2,319.4 L125.6,320.1 L130.1,320.7 L134.5,321.2 L138.9,321.6 L143.3,322 L147.8,322.3 L152.2,322.5 L156.6,322.6 L161,322.6 L165.4,322.4 L169.9,322 L174.3,321.4 L178.7,320.5 L183.1,319.5 L187.6,318.4 L192,317.2 L196.4,316" fill="none" stroke="#0BAE8A" stroke-width="0.8" stroke-opacity="1"/>
<path d="M37.2,353 L41.6,351.6 L46,350.1 L50.5,348.5 L54.9,346.7 L59.3,344.5 L63.7,342 L68.2,339.1 L72.6,336 L77,333 L81.4,330.3 L85.8,327.9 L90.3,326 L94.7,324.5 L99.1,323.3 L103.5,322 L108,320.6 L112.4,319.3 L116.8,318.5 L121.2,318.4 L125.6,318.8 L130.1,319.7 L134.5,320.8 L138.9,321.9 L143.3,322.9 L147.8,323.5 L152.2,323.9 L156.6,324 L161,323.9 L165.4,323.7 L169.9,323.5 L174.3,323.3 L178.7,323.1 L183.1,322.9 L187.6,322.8 L192,322.6 L196.4,322.5" fill="none" stroke="#EE746B" stroke-width="0.8" stroke-opacity="1"/>
<path d="M37.2,353 L41.6,351.6 L46,350 L50.5,348.3 L54.9,346.3 L59.3,343.9 L63.7,341 L68.2,337.6 L72.6,334.1 L77,331 L81.4,328.6 L85.8,326.7 L90.3,325.3 L94.7,324.1 L99.1,323.1 L103.5,322.1 L108,321.2 L112.4,320.4 L116.8,320 L121.2,320.1 L125.6,320.7 L130.1,321.5 L134.5,322.4 L138.9,323.3 L143.3,324 L147.8,324.4 L152.2,324.5 L156.6,324.4 L161,324.1 L165.4,323.6 L169.9,323 L174.3,322.3 L178.7,321.5 L183.1,320.7 L187.6,319.8 L192,318.9 L196.4,318" fill="none" stroke="#B28F0C" stroke-width="0.8" stroke-opacity="1"/>
<path d="M37.2,353 L41.6,351.1 L46,349.2 L50.5,347.3 L54.9,345.3 L59.3,343.2 L63.7,341 L68.2,338.7 L72.6,336.4 L77,334.1 L81.4,332.1 L85.8,330.4 L90.3,329 L94.7,328.1 L99.1,327.7 L103.5,327.6 L108,327.7 L112.4,328.1 L116.8,328.5 L121.2,329 L125.6,329.4 L130.1,329.9 L134.5,330.2 L138.9,330.4 L143.3,330.5 L147.8,330.4 L152.2,330.1 L156.6,329.6 L161,329.1 L165.4,328.3 L169.9,327.5 L174.3,326.6 L178.7,325.6 L183.1,324.5 L187.6,323.3 L192,322.2 L196.4,321" fill="none" stroke="#0FA9D6" stroke-width="0.8" stroke-opacity="1"/>
<path d="M37.2,354 L41.6,351.4 L46,348.8 L50.5,346.4 L54.9,344 L59.3,341.8 L63.7,339.8 L68.2,338 L72.6,336.5 L77,335.2 L81.4,334.1 L85.8,333.2 L90.3,332.5 L94.7,332 L99.1,331.6 L103.5,331.4 L108,331.3 L112.4,331.5 L116.8,331.7 L121.2,332.1 L125.6,332.5 L130.1,333 L134.5,333.5 L138.9,333.9 L143.3,334.1 L147.8,334.2 L152.2,334.1 L156.6,334 L161,333.8 L165.4,333.7 L169.9,333.7 L174.3,333.9 L178.7,334.2 L183.1,334.6 L187.6,335.1 L192,335.6 L196.4,336.2" fill="none" stroke="#51A40B" stroke-width="0.8" stroke-opacity="1"/>
<path d="M37.2,351 L41.6,349.5 L46,348 L50.5,346.5 L54.9,345.1 L59.3,343.6 L63.7,342.2 L68.2,340.8 L72.6,339.5 L77,338.2 L81.4,337 L85.8,335.9 L90.3,334.9 L94.7,334.1 L99.1,333.4 L103.5,332.9 L108,332.7 L112.4,332.9 L116.8,333.3 L121.2,334.1 L125.6,335.2 L130.1,336.5 L134.5,337.9 L138.9,339.3 L143.3,340.6 L147.8,341.8 L152.2,342.8 L156.6,343.6 L161,344.3 L165.4,344.9 L169.9,345.4 L174.3,345.8 L178.7,346.1 L183.1,346.4 L187.6,346.6 L192,346.8 L196.4,347" fill="none" stroke="#F061CF" stroke-width="0.8" stroke-opacity="1"/>
<path d="M37.2,352.6 L41.6,351.1 L46,349.7 L50.5,348.3 L54.9,347 L59.3,345.7 L63.7,344.6 L68.2,343.6 L72.6,342.7 L77,341.9 L81.4,341.2 L85.8,340.5 L90.3,339.8 L94.7,339.1 L99.1,338.4 L103.5,337.9 L108,337.5 L112.4,337.3 L116.8,337.4 L121.2,337.8 L125.6,338.5 L130.1,339.3 L134.5,340.2 L138.9,341.2 L143.3,342.2 L147.8,343.1 L152.2,343.8 L156.6,344.5 L161,345.1 L165.4,345.7 L169.9,346.2 L174.3,346.7 L178.7,347.1 L183.1,347.5 L187.6,347.9 L192,348.2 L196.4,348.6" fill="none" stroke="#A086F6" stroke-width="0.8" stroke-opacity="1"/>
<line x1="77" y1="317" x2="77" y2="333" stroke="#0BAE8A" stroke-width="0.9" stroke-opacity="0.65" stroke-dasharray="1 1"/>
<line x1="63.7" y1="349" x2="63.7" y2="351" stroke="#A086F6" stroke-width="0.9" stroke-opacity="0.65"/>
<line x1="63.7" y1="352" x2="63.7" y2="354" stroke="#F061CF" stroke-width="0.9" stroke-opacity="0.65"/>
<line x1="63.7" y1="354.5" x2="63.7" y2="356" stroke="#51A40B" stroke-width="0.9" stroke-opacity="0.65"/>
<line x1="103.5" y1="311.8" x2="103.5" y2="313.5" stroke="#0BAE8A" stroke-width="0.9" stroke-opacity="0.65"/>
<line x1="103.5" y1="341" x2="103.5" y2="342.5" stroke="#51A40B" stroke-width="0.9" stroke-opacity="0.65"/>
<line x1="103.5" y1="343.2" x2="103.5" y2="344.6" stroke="#A086F6" stroke-width="0.9" stroke-opacity="0.65"/>
<line x1="116.8" y1="312.5" x2="116.8" y2="314.5" stroke="#0BAE8A" stroke-width="0.9" stroke-opacity="0.65"/>
<line x1="116.8" y1="342.5" x2="116.8" y2="344" stroke="#F061CF" stroke-width="0.9" stroke-opacity="0.65"/>
<line x1="116.8" y1="344.8" x2="116.8" y2="346.2" stroke="#51A40B" stroke-width="0.9" stroke-opacity="0.65"/>
<line x1="116.8" y1="348" x2="116.8" y2="349.5" stroke="#A086F6" stroke-width="0.9" stroke-opacity="0.65"/>
<line x1="50.5" y1="342" x2="50.5" y2="344" stroke="#0BAE8A" stroke-width="0.9" stroke-opacity="0.65"/>
</g>
<path d="M29.0,309.5 L29.0,366.3 L203.9,366.3" fill="none" stroke="#666" stroke-width="1.15"/>
<line x1="27.2" y1="320.1" x2="29.0" y2="320.1" stroke="#777" stroke-width="0.8"/>
<text x="22.6" y="322.8" text-anchor="end" class="tk">20</text>
<line x1="27.2" y1="338" x2="29.0" y2="338" stroke="#777" stroke-width="0.8"/>
<text x="22.6" y="340.6" text-anchor="end" class="tk">10</text>
<line x1="27.2" y1="355.6" x2="29.0" y2="355.6" stroke="#777" stroke-width="0.8"/>
<text x="22.6" y="358.2" text-anchor="end" class="tk">0</text>
<line x1="37.2" y1="366.3" x2="37.2" y2="368.1" stroke="#777" stroke-width="0.8"/>
<text x="37.2" y="376.6" text-anchor="middle" class="tk">1</text>
<line x1="50.5" y1="366.3" x2="50.5" y2="368.1" stroke="#777" stroke-width="0.8"/>
<text x="50.5" y="376.6" text-anchor="middle" class="tk">2</text>
<line x1="63.7" y1="366.3" x2="63.7" y2="368.1" stroke="#777" stroke-width="0.8"/>
<text x="63.7" y="376.6" text-anchor="middle" class="tk">3</text>
<line x1="77" y1="366.3" x2="77" y2="368.1" stroke="#777" stroke-width="0.8"/>
<text x="77" y="376.6" text-anchor="middle" class="tk">4</text>
<line x1="90.3" y1="366.3" x2="90.3" y2="368.1" stroke="#777" stroke-width="0.8"/>
<text x="90.3" y="376.6" text-anchor="middle" class="tk">5</text>
<line x1="103.5" y1="366.3" x2="103.5" y2="368.1" stroke="#777" stroke-width="0.8"/>
<text x="103.5" y="376.6" text-anchor="middle" class="tk">6</text>
<line x1="116.8" y1="366.3" x2="116.8" y2="368.1" stroke="#777" stroke-width="0.8"/>
<text x="116.8" y="376.6" text-anchor="middle" class="tk">7</text>
<line x1="130.1" y1="366.3" x2="130.1" y2="368.1" stroke="#777" stroke-width="0.8"/>
<text x="130.1" y="376.6" text-anchor="middle" class="tk">8</text>
<line x1="143.3" y1="366.3" x2="143.3" y2="368.1" stroke="#777" stroke-width="0.8"/>
<text x="143.3" y="376.6" text-anchor="middle" class="tk">9</text>
<line x1="156.6" y1="366.3" x2="156.6" y2="368.1" stroke="#777" stroke-width="0.8"/>
<text x="156.6" y="376.6" text-anchor="middle" class="tk">10</text>
<line x1="169.9" y1="366.3" x2="169.9" y2="368.1" stroke="#777" stroke-width="0.8"/>
<text x="169.9" y="376.6" text-anchor="middle" class="tk">11</text>
<line x1="183.1" y1="366.3" x2="183.1" y2="368.1" stroke="#777" stroke-width="0.8"/>
<text x="183.1" y="376.6" text-anchor="middle" class="tk">12</text>
<line x1="196.4" y1="366.3" x2="196.4" y2="368.1" stroke="#777" stroke-width="0.8"/>
<text x="196.4" y="376.6" text-anchor="middle" class="tk">13</text>
<text x="118.7" y="384.7" text-anchor="middle" class="lb">week</text>
<text transform="translate(7.2,303.3) rotate(-90)" class="tg">(J)</text>
<text transform="translate(7.2,342.9) rotate(-90)" text-anchor="middle" class="lb" style="font-size:7.1px">Average root length (cm)</text>
<clipPath id="cK"><rect x="252.6" y="302.2" width="179.1" height="63.10000000000002"/></clipPath>
<g clip-path="url(#cK)">
<path d="M260.4,346.2 L264.8,345.3 L269.2,344 L273.7,342.3 L278.1,340.1 L282.5,337.8 L286.9,335.6 L291.4,333.6 L295.8,331.7 L300.2,329.9 L304.6,327.9 L309,325.9 L313.5,324.5 L317.9,324.2 L322.3,325.4 L326.7,327.7 L331.2,328.7 L335.6,329.1 L340,329.3 L344.4,329.4 L348.8,329.5 L353.3,329.5 L357.7,329.5 L362.1,329.4 L366.5,329.3 L371,329.1 L375.4,328.8 L379.8,328.3 L384.2,327.8 L388.6,327 L393.1,326.1 L397.5,325 L401.9,323.7 L406.3,322.4 L410.8,320.9 L415.2,319.4 L419.6,317.8 L419.6,324.8 L415.2,326.5 L410.8,328.2 L406.3,329.9 L401.9,331.4 L397.5,332.8 L393.1,334.1 L388.6,335.2 L384.2,336.2 L379.8,337 L375.4,337.6 L371,338 L366.5,338.3 L362.1,338.4 L357.7,338.3 L353.3,338.2 L348.8,337.9 L344.4,337.6 L340,337.3 L335.6,336.9 L331.2,336.3 L326.7,335.3 L322.3,334.7 L317.9,334.4 L313.5,335.1 L309,336.4 L304.6,338 L300.2,339.9 L295.8,341.7 L291.4,343.6 L286.9,345.6 L282.5,348 L278.1,350.6 L273.7,353.3 L269.2,356.1 L264.8,359.1 L260.4,362.2Z" fill="#0FA9D6" fill-opacity="0.5"/>
<path d="M260.4,342.1 L264.8,341.4 L269.2,340.7 L273.7,339.9 L278.1,339 L282.5,338 L286.9,336.8 L291.4,335.4 L295.8,334 L300.2,332.4 L304.6,330.7 L309,329.1 L313.5,327.4 L317.9,325.7 L322.3,324.1 L326.7,322.6 L331.2,321.2 L335.6,320.2 L340,319.5 L344.4,319.2 L348.8,319 L353.3,319.1 L357.7,319.1 L362.1,319.2 L366.5,319.3 L371,319.3 L375.4,319.1 L379.8,318.8 L384.2,318.5 L388.6,318 L393.1,317.5 L397.5,316.9 L401.9,316.1 L406.3,315.3 L410.8,314.4 L415.2,313.5 L419.6,312.6 L419.6,323.6 L415.2,324.3 L410.8,325 L406.3,325.6 L401.9,326.3 L397.5,326.9 L393.1,327.5 L388.6,328 L384.2,328.5 L379.8,328.8 L375.4,329.1 L371,329.3 L366.5,329.3 L362.1,329.2 L357.7,329.1 L353.3,329.1 L348.8,329 L344.4,329.2 L340,329.5 L335.6,330 L331.2,330.6 L326.7,331.3 L322.3,332.1 L317.9,333.1 L313.5,334.4 L309,335.8 L304.6,337.3 L300.2,338.8 L295.8,340.3 L291.4,341.6 L286.9,342.8 L282.5,343.8 L278.1,344.7 L273.7,345.4 L269.2,346 L264.8,346.6 L260.4,347.1Z" fill="#0BAE8A" fill-opacity="0.5"/>
<path d="M260.4,346.4 L264.8,345 L269.2,343.5 L273.7,342.1 L278.1,340.6 L282.5,339.1 L286.9,337.6 L291.4,336.1 L295.8,334.5 L300.2,333.1 L304.6,331.7 L309,330.5 L313.5,329.5 L317.9,328.7 L322.3,328.1 L326.7,327.7 L331.2,327.4 L335.6,327.2 L340,327.1 L344.4,327 L348.8,327 L353.3,326.9 L357.7,326.8 L362.1,326.6 L366.5,326.3 L371,325.9 L375.4,325.4 L379.8,324.8 L384.2,324.1 L388.6,323.2 L393.1,322.3 L397.5,321.2 L401.9,320 L406.3,318.6 L410.8,317.2 L415.2,315.6 L419.6,314.1 L419.6,322.1 L415.2,323.2 L410.8,324.2 L406.3,325.2 L401.9,326.3 L397.5,327.3 L393.1,328.3 L388.6,329.2 L384.2,330.1 L379.8,330.8 L375.4,331.4 L371,331.9 L366.5,332.3 L362.1,332.6 L357.7,332.8 L353.3,332.9 L348.8,333 L344.4,333 L340,333.1 L335.6,333.2 L331.2,333.4 L326.7,333.7 L322.3,334.1 L317.9,334.7 L313.5,335.5 L309,336.5 L304.6,337.7 L300.2,339.1 L295.8,340.5 L291.4,342.1 L286.9,343.6 L282.5,345.1 L278.1,346.6 L273.7,348.1 L269.2,349.5 L264.8,351 L260.4,352.4Z" fill="#B28F0C" fill-opacity="0.5"/>
<path d="M260.4,347 L264.8,345.5 L269.2,344.1 L273.7,342.6 L278.1,341.1 L282.5,339.5 L286.9,338 L291.4,336.4 L295.8,334.9 L300.2,333.4 L304.6,332.1 L309,330.9 L313.5,330 L317.9,329.4 L322.3,329 L326.7,328.7 L331.2,328.7 L335.6,328.7 L340,328.7 L344.4,328.7 L348.8,328.7 L353.3,328.6 L357.7,328.5 L362.1,328.2 L366.5,327.9 L371,327.4 L375.4,326.9 L379.8,326.2 L384.2,325.5 L388.6,324.7 L393.1,323.9 L397.5,323.1 L401.9,322.2 L406.3,321.2 L410.8,320.2 L415.2,319.1 L419.6,318.1 L419.6,326.1 L415.2,326.7 L410.8,327.2 L406.3,327.8 L401.9,328.5 L397.5,329.1 L393.1,329.9 L388.6,330.7 L384.2,331.5 L379.8,332.2 L375.4,332.9 L371,333.4 L366.5,333.9 L362.1,334.2 L357.7,334.5 L353.3,334.6 L348.8,334.7 L344.4,334.7 L340,334.7 L335.6,334.7 L331.2,334.7 L326.7,334.7 L322.3,335 L317.9,335.4 L313.5,336 L309,336.9 L304.6,338.1 L300.2,339.4 L295.8,340.9 L291.4,342.4 L286.9,344 L282.5,345.5 L278.1,347.1 L273.7,348.6 L269.2,350.1 L264.8,351.5 L260.4,353Z" fill="#EE746B" fill-opacity="0.5"/>
<path d="M260.4,351.2 L264.8,350.3 L269.2,349.3 L273.7,348.4 L278.1,347.5 L282.5,346.7 L286.9,345.8 L291.4,345 L295.8,344.3 L300.2,343.7 L304.6,343 L309,342.4 L313.5,341.8 L317.9,341.1 L322.3,340.3 L326.7,339.5 L331.2,338.7 L335.6,337.9 L340,337.3 L344.4,336.8 L348.8,336.3 L353.3,336 L357.7,335.6 L362.1,335.2 L366.5,334.9 L371,334.5 L375.4,334.2 L379.8,333.7 L384.2,333.3 L388.6,332.9 L393.1,332.4 L397.5,331.9 L401.9,331.4 L406.3,330.9 L410.8,330.3 L415.2,329.8 L419.6,329.2 L419.6,334.2 L415.2,334.8 L410.8,335.3 L406.3,335.9 L401.9,336.4 L397.5,336.9 L393.1,337.4 L388.6,337.9 L384.2,338.3 L379.8,338.7 L375.4,339.2 L371,339.5 L366.5,339.9 L362.1,340.2 L357.7,340.6 L353.3,341 L348.8,341.3 L344.4,341.8 L340,342.3 L335.6,342.8 L331.2,343.4 L326.7,344 L322.3,344.6 L317.9,345.2 L313.5,345.8 L309,346.4 L304.6,347 L300.2,347.7 L295.8,348.3 L291.4,349 L286.9,349.8 L282.5,350.7 L278.1,351.8 L273.7,353.1 L269.2,354.4 L264.8,355.8 L260.4,357.2Z" fill="#51A40B" fill-opacity="0.5"/>
<path d="M260.4,348 L264.8,346.2 L269.2,344.3 L273.7,342.5 L278.1,340.8 L282.5,339.2 L286.9,337.6 L291.4,336.2 L295.8,334.9 L300.2,333.8 L304.6,332.9 L309,332.2 L313.5,331.9 L317.9,331.9 L322.3,332.1 L326.7,332.6 L331.2,333.1 L335.6,333.8 L340,334.4 L344.4,335 L348.8,335.5 L353.3,336 L357.7,336.5 L362.1,337.1 L366.5,337.6 L371,338.2 L375.4,338.8 L379.8,339.5 L384.2,340.2 L388.6,340.9 L393.1,341.6 L397.5,342.3 L401.9,342.9 L406.3,343.5 L410.8,344 L415.2,344.6 L419.6,345.1 L419.6,352.1 L415.2,351.3 L410.8,350.5 L406.3,349.8 L401.9,349 L397.5,348.3 L393.1,347.6 L388.6,346.9 L384.2,346.2 L379.8,345.5 L375.4,344.8 L371,344.2 L366.5,343.6 L362.1,343.1 L357.7,342.5 L353.3,342 L348.8,341.5 L344.4,341 L340,340.4 L335.6,339.8 L331.2,339.1 L326.7,338.6 L322.3,338.1 L317.9,337.9 L313.5,337.9 L309,338.2 L304.6,338.9 L300.2,339.8 L295.8,340.9 L291.4,342.2 L286.9,343.6 L282.5,345.2 L278.1,346.8 L273.7,348.5 L269.2,350.3 L264.8,352.2 L260.4,354Z" fill="#F061CF" fill-opacity="0.5"/>
<path d="M260.4,350 L264.8,348.6 L269.2,347.1 L273.7,345.7 L278.1,344.3 L282.5,342.9 L286.9,341.6 L291.4,340.4 L295.8,339.3 L300.2,338.4 L304.6,337.6 L309,337.1 L313.5,336.8 L317.9,336.7 L322.3,336.7 L326.7,336.8 L331.2,337 L335.6,337.3 L340,337.6 L344.4,338 L348.8,338.3 L353.3,338.6 L357.7,339 L362.1,339.3 L366.5,339.6 L371,339.9 L375.4,340.2 L379.8,340.5 L384.2,340.8 L388.6,341 L393.1,341.2 L397.5,341.3 L401.9,341.3 L406.3,341.1 L410.8,341 L415.2,340.8 L419.6,340.5 L419.6,354.5 L415.2,353.9 L410.8,353.3 L406.3,352.8 L401.9,352.2 L397.5,351.7 L393.1,351.2 L388.6,350.7 L384.2,350.1 L379.8,349.6 L375.4,349 L371,348.5 L366.5,348 L362.1,347.5 L357.7,347.1 L353.3,346.6 L348.8,346.2 L344.4,345.7 L340,345.2 L335.6,344.6 L331.2,344 L326.7,343.5 L322.3,343 L317.9,342.8 L313.5,342.8 L309,343.1 L304.6,343.6 L300.2,344.4 L295.8,345.3 L291.4,346.4 L286.9,347.6 L282.5,349 L278.1,350.6 L273.7,352.3 L269.2,354.2 L264.8,356.1 L260.4,358Z" fill="#A086F6" fill-opacity="0.5"/>
<path d="M260.4,354.2 L264.8,352.2 L269.2,350.1 L273.7,347.8 L278.1,345.4 L282.5,342.9 L286.9,340.6 L291.4,338.6 L295.8,336.7 L300.2,334.9 L304.6,332.9 L309,331.1 L313.5,329.8 L317.9,329.3 L322.3,330 L326.7,331.5 L331.2,332.5 L335.6,333 L340,333.3 L344.4,333.5 L348.8,333.7 L353.3,333.9 L357.7,333.9 L362.1,333.9 L366.5,333.8 L371,333.6 L375.4,333.2 L379.8,332.6 L384.2,332 L388.6,331.1 L393.1,330.1 L397.5,328.9 L401.9,327.6 L406.3,326.1 L410.8,324.6 L415.2,322.9 L419.6,321.3" fill="none" stroke="#0FA9D6" stroke-width="0.8" stroke-opacity="1"/>
<path d="M260.4,344.6 L264.8,344 L269.2,343.3 L273.7,342.6 L278.1,341.8 L282.5,340.9 L286.9,339.8 L291.4,338.5 L295.8,337.1 L300.2,335.6 L304.6,334 L309,332.4 L313.5,330.9 L317.9,329.4 L322.3,328.1 L326.7,326.9 L331.2,325.9 L335.6,325.1 L340,324.5 L344.4,324.2 L348.8,324 L353.3,324.1 L357.7,324.1 L362.1,324.2 L366.5,324.3 L371,324.3 L375.4,324.1 L379.8,323.8 L384.2,323.5 L388.6,323 L393.1,322.5 L397.5,321.9 L401.9,321.2 L406.3,320.5 L410.8,319.7 L415.2,318.9 L419.6,318.1" fill="none" stroke="#0BAE8A" stroke-width="0.8" stroke-opacity="1"/>
<path d="M260.4,349.4 L264.8,348 L269.2,346.5 L273.7,345.1 L278.1,343.6 L282.5,342.1 L286.9,340.6 L291.4,339.1 L295.8,337.5 L300.2,336.1 L304.6,334.7 L309,333.5 L313.5,332.5 L317.9,331.7 L322.3,331.1 L326.7,330.7 L331.2,330.4 L335.6,330.2 L340,330.1 L344.4,330 L348.8,330 L353.3,329.9 L357.7,329.8 L362.1,329.6 L366.5,329.3 L371,328.9 L375.4,328.4 L379.8,327.8 L384.2,327.1 L388.6,326.2 L393.1,325.3 L397.5,324.3 L401.9,323.1 L406.3,321.9 L410.8,320.7 L415.2,319.4 L419.6,318.1" fill="none" stroke="#B28F0C" stroke-width="0.8" stroke-opacity="1"/>
<path d="M260.4,350 L264.8,348.5 L269.2,347.1 L273.7,345.6 L278.1,344.1 L282.5,342.5 L286.9,341 L291.4,339.4 L295.8,337.9 L300.2,336.4 L304.6,335.1 L309,333.9 L313.5,333 L317.9,332.4 L322.3,332 L326.7,331.7 L331.2,331.7 L335.6,331.7 L340,331.7 L344.4,331.7 L348.8,331.7 L353.3,331.6 L357.7,331.5 L362.1,331.2 L366.5,330.9 L371,330.4 L375.4,329.9 L379.8,329.2 L384.2,328.5 L388.6,327.7 L393.1,326.9 L397.5,326.1 L401.9,325.3 L406.3,324.5 L410.8,323.7 L415.2,322.9 L419.6,322.1" fill="none" stroke="#EE746B" stroke-width="0.8" stroke-opacity="1"/>
<path d="M260.4,354.2 L264.8,353 L269.2,351.9 L273.7,350.7 L278.1,349.7 L282.5,348.7 L286.9,347.8 L291.4,347 L295.8,346.3 L300.2,345.7 L304.6,345 L309,344.4 L313.5,343.8 L317.9,343.1 L322.3,342.4 L326.7,341.7 L331.2,341 L335.6,340.4 L340,339.8 L344.4,339.3 L348.8,338.8 L353.3,338.5 L357.7,338.1 L362.1,337.7 L366.5,337.4 L371,337 L375.4,336.7 L379.8,336.2 L384.2,335.8 L388.6,335.4 L393.1,334.9 L397.5,334.4 L401.9,333.9 L406.3,333.4 L410.8,332.8 L415.2,332.3 L419.6,331.7" fill="none" stroke="#51A40B" stroke-width="0.8" stroke-opacity="1"/>
<path d="M260.4,351 L264.8,349.2 L269.2,347.3 L273.7,345.5 L278.1,343.8 L282.5,342.2 L286.9,340.6 L291.4,339.2 L295.8,337.9 L300.2,336.8 L304.6,335.9 L309,335.2 L313.5,334.9 L317.9,334.9 L322.3,335.1 L326.7,335.6 L331.2,336.1 L335.6,336.8 L340,337.4 L344.4,338 L348.8,338.5 L353.3,339 L357.7,339.5 L362.1,340.1 L366.5,340.6 L371,341.2 L375.4,341.8 L379.8,342.5 L384.2,343.2 L388.6,343.9 L393.1,344.6 L397.5,345.3 L401.9,346 L406.3,346.6 L410.8,347.3 L415.2,347.9 L419.6,348.6" fill="none" stroke="#F061CF" stroke-width="0.8" stroke-opacity="1"/>
<path d="M260.4,354 L264.8,352.3 L269.2,350.6 L273.7,349 L278.1,347.4 L282.5,346 L286.9,344.6 L291.4,343.4 L295.8,342.3 L300.2,341.4 L304.6,340.6 L309,340.1 L313.5,339.8 L317.9,339.7 L322.3,339.9 L326.7,340.1 L331.2,340.5 L335.6,340.9 L340,341.4 L344.4,341.8 L348.8,342.2 L353.3,342.6 L357.7,343 L362.1,343.4 L366.5,343.8 L371,344.2 L375.4,344.6 L379.8,345.1 L384.2,345.5 L388.6,345.9 L393.1,346.2 L397.5,346.5 L401.9,346.7 L406.3,347 L410.8,347.2 L415.2,347.3 L419.6,347.5" fill="none" stroke="#A086F6" stroke-width="0.8" stroke-opacity="1"/>
<line x1="300.2" y1="327" x2="300.2" y2="331" stroke="#0FA9D6" stroke-width="0.9" stroke-opacity="0.65"/>
</g>
<path d="M252.6,308.2 L252.6,365.3 L427.7,365.3" fill="none" stroke="#666" stroke-width="1.15"/>
<line x1="250.79999999999998" y1="323.2" x2="252.6" y2="323.2" stroke="#777" stroke-width="0.8"/>
<text x="247.6" y="325.8" text-anchor="end" class="tk">80</text>
<line x1="250.79999999999998" y1="339.5" x2="252.6" y2="339.5" stroke="#777" stroke-width="0.8"/>
<text x="247.6" y="342.1" text-anchor="end" class="tk">40</text>
<line x1="250.79999999999998" y1="355.6" x2="252.6" y2="355.6" stroke="#777" stroke-width="0.8"/>
<text x="247.6" y="358.2" text-anchor="end" class="tk">0</text>
<line x1="260.4" y1="365.3" x2="260.4" y2="367.1" stroke="#777" stroke-width="0.8"/>
<text x="260.4" y="376.4" text-anchor="middle" class="tk">1</text>
<line x1="273.7" y1="365.3" x2="273.7" y2="367.1" stroke="#777" stroke-width="0.8"/>
<text x="273.7" y="376.4" text-anchor="middle" class="tk">2</text>
<line x1="286.9" y1="365.3" x2="286.9" y2="367.1" stroke="#777" stroke-width="0.8"/>
<text x="286.9" y="376.4" text-anchor="middle" class="tk">3</text>
<line x1="300.2" y1="365.3" x2="300.2" y2="367.1" stroke="#777" stroke-width="0.8"/>
<text x="300.2" y="376.4" text-anchor="middle" class="tk">4</text>
<line x1="313.5" y1="365.3" x2="313.5" y2="367.1" stroke="#777" stroke-width="0.8"/>
<text x="313.5" y="376.4" text-anchor="middle" class="tk">5</text>
<line x1="326.7" y1="365.3" x2="326.7" y2="367.1" stroke="#777" stroke-width="0.8"/>
<text x="326.7" y="376.4" text-anchor="middle" class="tk">6</text>
<line x1="340" y1="365.3" x2="340" y2="367.1" stroke="#777" stroke-width="0.8"/>
<text x="340" y="376.4" text-anchor="middle" class="tk">7</text>
<line x1="353.3" y1="365.3" x2="353.3" y2="367.1" stroke="#777" stroke-width="0.8"/>
<text x="353.3" y="376.4" text-anchor="middle" class="tk">8</text>
<line x1="366.5" y1="365.3" x2="366.5" y2="367.1" stroke="#777" stroke-width="0.8"/>
<text x="366.5" y="376.4" text-anchor="middle" class="tk">9</text>
<line x1="379.8" y1="365.3" x2="379.8" y2="367.1" stroke="#777" stroke-width="0.8"/>
<text x="379.8" y="376.4" text-anchor="middle" class="tk">10</text>
<line x1="393.1" y1="365.3" x2="393.1" y2="367.1" stroke="#777" stroke-width="0.8"/>
<text x="393.1" y="376.4" text-anchor="middle" class="tk">11</text>
<line x1="406.3" y1="365.3" x2="406.3" y2="367.1" stroke="#777" stroke-width="0.8"/>
<text x="406.3" y="376.4" text-anchor="middle" class="tk">12</text>
<line x1="419.6" y1="365.3" x2="419.6" y2="367.1" stroke="#777" stroke-width="0.8"/>
<text x="419.6" y="376.4" text-anchor="middle" class="tk">13</text>
<text x="344.7" y="384.5" text-anchor="middle" class="lb">week</text>
<text x="226.1" y="303.5" class="tg">(K)</text>
<text transform="translate(233.5,336) rotate(-90)" text-anchor="middle" class="lb" style="font-size:7.3px">GI</text>
<clipPath id="cL"><rect x="477.0" y="301.2" width="178.79999999999995" height="64.10000000000002"/></clipPath>
<g clip-path="url(#cL)">
<path d="M485.4,310.4 L489.8,317.1 L494.2,323.2 L498.6,328.3 L503,332.3 L507.4,335.6 L511.8,338.4 L516.2,340.8 L520.6,342.8 L525,343.9 L529.5,343.8 L533.9,343.1 L538.3,342.3 L542.7,342.2 L547.1,342.6 L551.5,343 L555.9,343.1 L560.3,343.2 L564.7,343.2 L569.1,343.2 L573.5,343.3 L577.9,343.3 L582.3,343.2 L586.7,343.2 L591.1,343.2 L595.5,343.2 L599.9,343.2 L604.4,343.2 L608.8,343.2 L613.2,343.2 L617.6,343.2 L622,343.2 L626.4,343.1 L630.8,343 L635.2,342.3 L639.6,340.9 L644,339 L644,362.7 L639.6,360.8 L635.2,359.3 L630.8,358.5 L626.4,358.3 L622,358.1 L617.6,358 L613.2,358 L608.8,358 L604.4,358 L599.9,358 L595.5,358 L591.1,358 L586.7,358 L582.3,358 L577.9,358.1 L573.5,358.1 L569.1,358 L564.7,358 L560.3,357.9 L555.9,357.7 L551.5,357.5 L547.1,357.5 L542.7,357.8 L538.3,358.3 L533.9,358.9 L529.5,359.4 L525,359.4 L520.6,358.5 L516.2,356.8 L511.8,354.8 L507.4,352.8 L503,350.9 L498.6,348.5 L494.2,345.7 L489.8,342.8 L485.4,340Z" fill="#a68fb2" fill-opacity="1"/>
<path d="M485.4,321 L489.8,324.8 L494.2,328.5 L498.6,332.2 L503,335.8 L507.4,339.2 L511.8,342.3 L516.2,344.9 L520.6,346.8 L525,347.8 L529.5,347.7 L533.9,347.1 L538.3,346.5 L542.7,346.1 L547.1,345.8 L551.5,345.8 L555.9,345.9 L560.3,345.9 L564.7,345.8 L569.1,345.8 L573.5,345.7 L577.9,345.7 L582.3,345.8 L586.7,345.8 L591.1,345.8 L595.5,345.8 L599.9,345.8 L604.4,345.8 L608.8,345.8 L613.2,345.8 L617.6,345.8 L622,345.8 L626.4,345.8 L630.8,345.8 L635.2,345.7 L639.6,345.4 L644,345 L644,357 L639.6,356.7 L635.2,356.4 L630.8,356.3 L626.4,356.3 L622,356.3 L617.6,356.3 L613.2,356.3 L608.8,356.3 L604.4,356.3 L599.9,356.3 L595.5,356.3 L591.1,356.3 L586.7,356.3 L582.3,356.3 L577.9,356.2 L573.5,356.2 L569.1,356.3 L564.7,356.3 L560.3,356.4 L555.9,356.4 L551.5,356.3 L547.1,355.8 L542.7,355.1 L538.3,355 L533.9,355.6 L529.5,356.2 L525,356.3 L520.6,355.5 L516.2,353.9 L511.8,351.7 L507.4,349.3 L503,346.8 L498.6,343.9 L494.2,340.7 L489.8,337.4 L485.4,334Z" fill="#8b7f89" fill-opacity="1"/>
<path d="M485.4,333 L490.2,335.9 L494.9,338.8 L499.7,341.6 L504.4,343.9 L509.2,346 L509.2,347.8 L504.4,347.5 L499.7,347.1 L494.9,346.6 L490.2,345.9 L485.4,345.2Z" fill="#8fae48" fill-opacity="1"/>
<path d="M485.4,333.8 L489.8,336.6 L494.2,339.3 L498.6,341.8 L503,344.1 L507.4,346.2 L511.8,348.2 L516.2,350.1 L520.6,351.7 L525,352.5 L529.5,352.4 L533.9,351.7 L538.3,351 L542.7,350.7 L547.1,350.8 L551.5,351" fill="none" stroke="#c9a04a" stroke-width="0.7" stroke-opacity="1"/>
<path d="M485.4,345.6 L489.8,346.4 L494.2,347.2 L498.6,348 L503,348.7 L507.4,349.4 L511.8,350 L516.2,350.5 L520.6,350.8 L525,351 L529.5,351.1 L533.9,351 L538.3,351 L542.7,351 L547.1,351 L551.5,351" fill="none" stroke="#2f7fe8" stroke-width="1.3" stroke-opacity="1"/>
<path d="M485.4,320.5 L489.8,326.5 L494.2,332.1 L498.6,336.9 L503,340.7 L507.4,343.6 L511.8,346.2 L516.2,348.6 L520.6,350.5 L525,351.7 L529.5,351.8 L533.9,351.3 L538.3,350.6 L542.7,350.2 L547.1,350 L551.5,350 L555.9,350.2 L560.3,350.4 L564.7,350.6 L569.1,350.7 L573.5,350.8 L577.9,350.8 L582.3,350.7 L586.7,350.7 L591.1,350.6 L595.5,350.6 L599.9,350.6 L604.4,350.6 L608.8,350.6 L613.2,350.6 L617.6,350.6 L622,350.6 L626.4,350.6 L630.8,350.6 L635.2,350.6 L639.6,350.6 L644,350.6" fill="none" stroke="#c04cc0" stroke-width="0.8" stroke-opacity="1"/>
</g>
<path d="M477.0,307.2 L477.0,365.3 L651.8,365.3" fill="none" stroke="#666" stroke-width="1.15"/>
<line x1="475.2" y1="319" x2="477.0" y2="319" stroke="#777" stroke-width="0.8"/>
<text x="470.9" y="321.6" text-anchor="end" class="tk">8</text>
<line x1="475.2" y1="335" x2="477.0" y2="335" stroke="#777" stroke-width="0.8"/>
<text x="470.9" y="337.6" text-anchor="end" class="tk">4</text>
<line x1="475.2" y1="351" x2="477.0" y2="351" stroke="#777" stroke-width="0.8"/>
<text x="470.9" y="353.6" text-anchor="end" class="tk">0</text>
<line x1="485.4" y1="365.3" x2="485.4" y2="367.1" stroke="#777" stroke-width="0.8"/>
<text x="485.4" y="376" text-anchor="middle" class="tk">1</text>
<line x1="498.6" y1="365.3" x2="498.6" y2="367.1" stroke="#777" stroke-width="0.8"/>
<text x="498.6" y="376" text-anchor="middle" class="tk">2</text>
<line x1="511.8" y1="365.3" x2="511.8" y2="367.1" stroke="#777" stroke-width="0.8"/>
<text x="511.8" y="376" text-anchor="middle" class="tk">3</text>
<line x1="525" y1="365.3" x2="525" y2="367.1" stroke="#777" stroke-width="0.8"/>
<text x="525" y="376" text-anchor="middle" class="tk">4</text>
<line x1="538.3" y1="365.3" x2="538.3" y2="367.1" stroke="#777" stroke-width="0.8"/>
<text x="538.3" y="376" text-anchor="middle" class="tk">5</text>
<line x1="551.5" y1="365.3" x2="551.5" y2="367.1" stroke="#777" stroke-width="0.8"/>
<text x="551.5" y="376" text-anchor="middle" class="tk">6</text>
<line x1="564.7" y1="365.3" x2="564.7" y2="367.1" stroke="#777" stroke-width="0.8"/>
<text x="564.7" y="376" text-anchor="middle" class="tk">7</text>
<line x1="577.9" y1="365.3" x2="577.9" y2="367.1" stroke="#777" stroke-width="0.8"/>
<text x="577.9" y="376" text-anchor="middle" class="tk">8</text>
<line x1="591.1" y1="365.3" x2="591.1" y2="367.1" stroke="#777" stroke-width="0.8"/>
<text x="591.1" y="376" text-anchor="middle" class="tk">9</text>
<line x1="604.4" y1="365.3" x2="604.4" y2="367.1" stroke="#777" stroke-width="0.8"/>
<text x="604.4" y="376" text-anchor="middle" class="tk">10</text>
<line x1="617.6" y1="365.3" x2="617.6" y2="367.1" stroke="#777" stroke-width="0.8"/>
<text x="617.6" y="376" text-anchor="middle" class="tk">11</text>
<line x1="630.8" y1="365.3" x2="630.8" y2="367.1" stroke="#777" stroke-width="0.8"/>
<text x="630.8" y="376" text-anchor="middle" class="tk">12</text>
<line x1="644" y1="365.3" x2="644" y2="367.1" stroke="#777" stroke-width="0.8"/>
<text x="644" y="376" text-anchor="middle" class="tk">13</text>
<text x="571.1" y="384.5" text-anchor="middle" class="lb">week</text>
<text x="447.9" y="300" class="tg">(L)</text>
<text transform="translate(454.5,332.5) rotate(-90)" text-anchor="middle" class="lb" style="font-size:7.3px">cal coliform (10<tspan font-size="5.5" dy="-3">5</tspan><tspan dy="3">)</tspan></text>
</svg>
</body></html>
